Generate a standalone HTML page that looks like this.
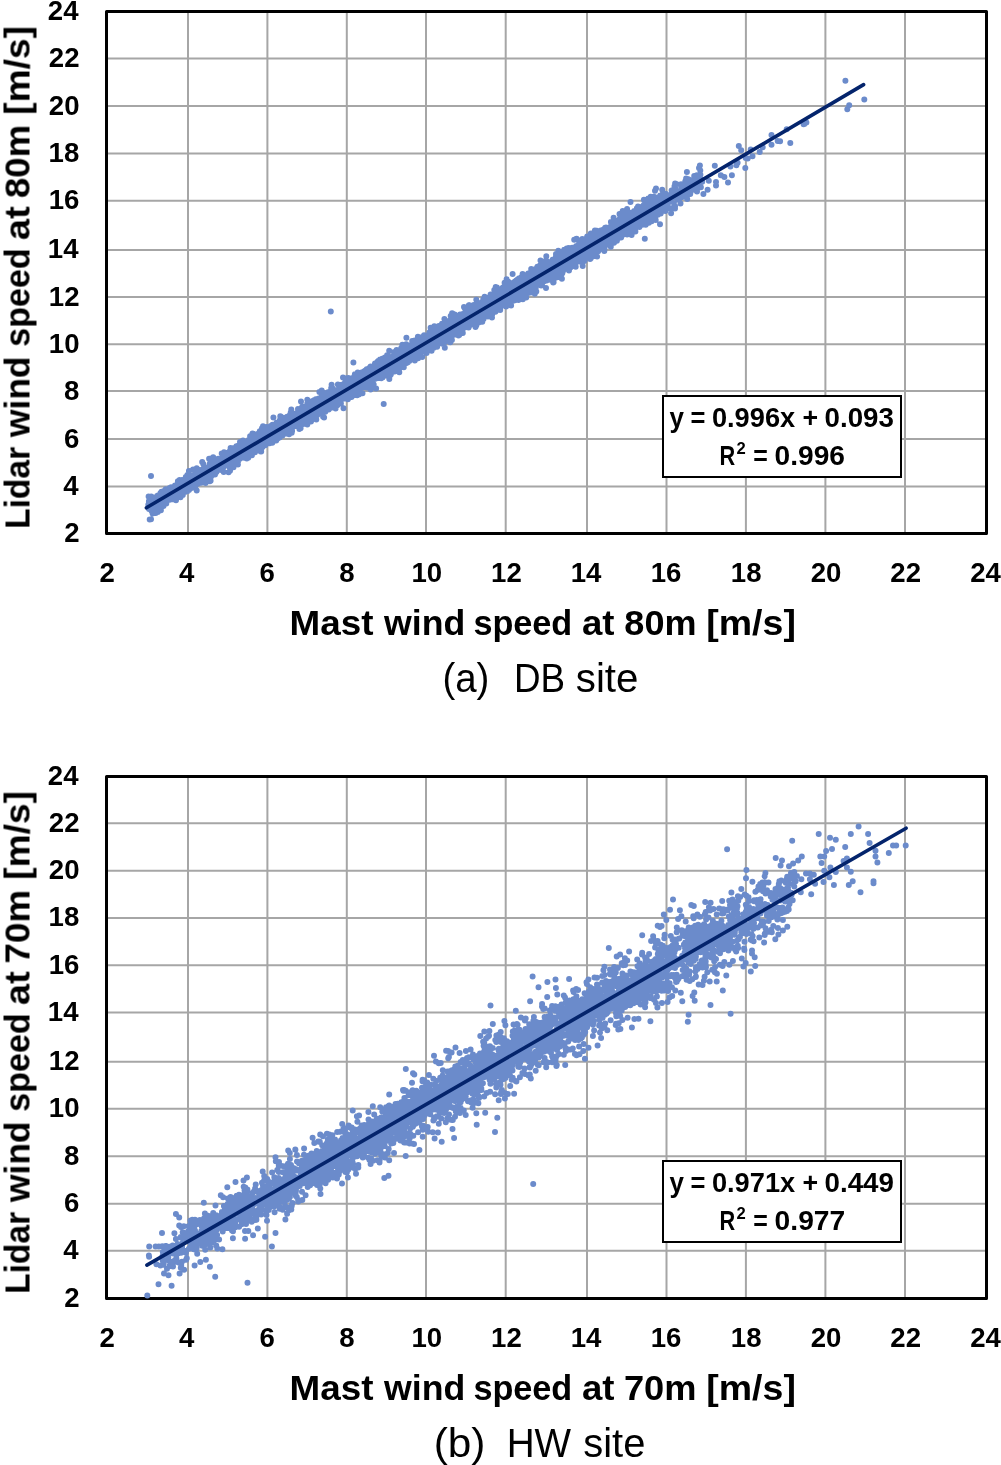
<!DOCTYPE html><html><head><meta charset="utf-8"><style>html,body{margin:0;padding:0;background:#fff;overflow:hidden}svg{display:block}</style></head><body><svg width="1001" height="1465" viewBox="0 0 1001 1465"><rect width="1001" height="1465" fill="#fff"/><path stroke="#a6a6a6" stroke-width="2" fill="none" d="M188 11.5V533.5M267.4 11.5V533.5M346.8 11.5V533.5M426 11.5V533.5M505.7 11.5V533.5M587 11.5V533.5M666.5 11.5V533.5M745.9 11.5V533.5M825.4 11.5V533.5M905 11.5V533.5M106.5 486.4H986.5M106.5 439H986.5M106.5 391.1H986.5M106.5 344.3H986.5M106.5 297.1H986.5M106.5 250H986.5M106.5 200.7H986.5M106.5 153.5H986.5M106.5 106H986.5M106.5 58.5H986.5"/><rect x="106.5" y="11.5" width="880" height="522" fill="none" stroke="#000" stroke-width="3" stroke-linejoin="round"/><path fill="none" stroke="#6b8bcb" stroke-width="6" stroke-linecap="round" d="M250.5 445.1h0M399.3 353.1h0M472.7 317.3h0M164.1 490.9h0M265.4 441.2h0M629.0 215.1h0M192.4 477.7h0M262.5 447.1h0M635.4 216.3h0M492.4 304.9h0M350.3 388.4h0M387.9 369.0h0M490.4 304.7h0M296.9 422.1h0M235.7 454.5h0M565.2 255.0h0M472.2 308.5h0M419.2 341.3h0M551.8 263.9h0M448.4 327.4h0M275.8 432.4h0M455.1 331.4h0M405.9 349.6h0M341.3 395.0h0M460.4 321.6h0M287.2 431.1h0M565.5 258.2h0M617.6 222.1h0M256.0 443.6h0M399.5 354.0h0M304.9 415.0h0M208.0 470.8h0M596.8 244.7h0M362.5 393.3h0M243.6 448.8h0M485.8 305.1h0M241.4 449.2h0M605.2 227.7h0M306.0 409.3h0M187.7 481.4h0M237.9 456.8h0M319.4 392.0h0M401.4 364.1h0M635.9 221.1h0M514.7 293.1h0M326.4 396.5h0M164.8 495.5h0M230.8 455.6h0M687.2 198.9h0M405.2 357.7h0M544.4 267.4h0M182.1 488.9h0M173.8 497.0h0M607.8 234.4h0M430.5 343.1h0M332.7 397.9h0M344.1 389.4h0M226.4 465.0h0M264.6 438.2h0M177.6 483.5h0M600.7 241.1h0M393.6 363.0h0M236.5 457.1h0M521.7 284.5h0M232.3 454.7h0M200.1 479.9h0M504.6 295.7h0M616.7 220.9h0M176.2 497.3h0M552.8 262.5h0M247.8 443.8h0M207.5 478.4h0M185.0 492.1h0M333.7 399.9h0M518.0 281.1h0M396.7 363.3h0M591.3 245.1h0M287.2 424.1h0M332.0 398.6h0M283.2 417.8h0M656.7 205.1h0M328.9 405.7h0M362.5 378.8h0M333.2 394.4h0M533.8 285.0h0M177.5 488.6h0M200.5 478.5h0M362.8 386.5h0M276.7 435.1h0M592.5 240.1h0M518.3 289.3h0M436.4 345.1h0M477.2 308.8h0M525.2 286.0h0M561.9 278.8h0M655.9 213.5h0M237.9 464.6h0M494.4 305.8h0M263.0 426.3h0M406.2 344.3h0M579.1 251.0h0M590.1 250.8h0M557.0 272.0h0M151.7 507.9h0M326.7 400.3h0M242.8 445.2h0M685.7 189.3h0M236.9 448.7h0M268.8 436.2h0M337.3 405.3h0M225.2 459.8h0M594.6 237.6h0M495.3 298.8h0M241.6 446.5h0M415.8 353.5h0M211.9 470.3h0M496.0 301.3h0M306.7 411.5h0M159.5 497.5h0M222.9 458.1h0M434.2 340.0h0M497.5 306.2h0M313.4 411.3h0M473.8 315.6h0M324.2 405.0h0M235.9 459.2h0M339.1 389.7h0M348.3 383.9h0M640.5 210.5h0M210.7 466.3h0M219.8 462.0h0M464.9 322.2h0M648.1 214.0h0M634.4 218.1h0M515.0 300.2h0M212.3 467.8h0M552.3 279.0h0M540.1 265.4h0M261.1 437.1h0M415.1 352.4h0M186.9 484.0h0M564.6 263.8h0M544.7 264.2h0M554.5 260.8h0M556.8 265.0h0M288.5 426.2h0M582.4 247.1h0M267.8 434.8h0M261.7 439.8h0M361.6 383.2h0M420.6 353.8h0M341.1 399.4h0M501.2 302.2h0M488.3 314.6h0M272.2 437.9h0M477.9 302.7h0M321.2 404.4h0M532.1 276.3h0M320.6 407.7h0M566.3 252.5h0M361.1 380.4h0M450.7 323.9h0M471.9 309.8h0M441.5 331.3h0M302.3 406.5h0M677.8 199.5h0M207.3 473.2h0M338.0 392.2h0M453.6 326.8h0M166.8 493.6h0M230.6 448.1h0M581.6 252.5h0M583.7 248.0h0M497.4 303.3h0M617.4 234.3h0M582.3 261.1h0M341.8 390.0h0M484.8 300.6h0M322.7 403.5h0M524.2 278.2h0M352.1 392.8h0M235.3 456.0h0M614.4 232.4h0M535.7 273.9h0M533.9 278.8h0M449.1 326.3h0M552.6 259.8h0M401.4 362.8h0M463.9 320.9h0M225.8 459.1h0M437.8 339.2h0M561.6 260.7h0M513.2 300.7h0M560.9 268.7h0M404.1 357.0h0M598.2 251.3h0M224.0 452.2h0M590.1 235.5h0M364.2 373.0h0M190.8 477.8h0M480.2 306.0h0M416.6 349.6h0M350.8 388.3h0M610.0 245.7h0M250.4 442.1h0M488.5 306.9h0M366.7 387.6h0M450.7 332.6h0M396.9 357.4h0M238.2 461.0h0M417.1 350.7h0M593.9 256.0h0M260.4 442.8h0M183.9 486.0h0M210.6 480.8h0M397.5 363.6h0M683.8 188.2h0M168.6 496.4h0M694.2 176.0h0M463.4 316.3h0M204.9 468.2h0M354.9 390.9h0M279.7 433.7h0M544.3 271.3h0M434.5 335.2h0M317.1 409.7h0M268.7 436.8h0M611.3 239.1h0M565.5 263.3h0M379.5 368.4h0M372.2 367.5h0M532.2 277.1h0M693.7 179.7h0M206.2 472.3h0M239.5 450.6h0M347.5 384.4h0M402.1 361.5h0M188.5 478.7h0M156.7 499.1h0M282.4 422.8h0M367.5 375.2h0M521.2 290.3h0M474.4 316.6h0M178.2 488.9h0M160.9 510.3h0M400.4 362.2h0M595.9 246.1h0M629.6 225.9h0M376.7 376.9h0M605.1 243.3h0M648.7 213.1h0M381.3 372.4h0M541.6 267.6h0M369.7 376.2h0M265.3 438.2h0M447.6 325.9h0M223.0 463.1h0M484.6 308.5h0M557.2 259.2h0M646.6 207.3h0M392.8 363.6h0M203.1 480.3h0M596.1 246.0h0M605.0 234.2h0M630.4 231.7h0M443.3 334.3h0M488.6 306.3h0M386.0 374.0h0M267.3 431.0h0M333.3 398.8h0M524.2 293.2h0M336.9 400.4h0M543.2 271.5h0M413.8 343.2h0M394.0 360.3h0M651.0 209.1h0M247.5 449.1h0M422.7 336.7h0M254.1 438.4h0M665.3 210.9h0M388.2 365.0h0M334.8 393.9h0M236.3 455.6h0M444.6 329.6h0M380.2 366.6h0M267.2 440.7h0M157.1 496.0h0M380.9 368.7h0M431.2 334.3h0M438.2 334.2h0M595.7 243.2h0M665.6 193.7h0M631.0 219.7h0M578.9 243.9h0M407.1 350.9h0M454.7 314.6h0M350.2 391.3h0M365.1 378.4h0M170.3 497.0h0M558.2 270.8h0M293.2 420.3h0M151.6 511.1h0M389.6 364.8h0M532.2 273.2h0M357.3 380.8h0M380.8 372.2h0M488.4 307.4h0M262.7 435.9h0M182.0 480.0h0M454.1 327.6h0M465.1 319.1h0M596.8 239.3h0M369.1 377.3h0M551.6 266.8h0M176.5 488.9h0M180.9 481.7h0M501.5 301.4h0M288.4 423.7h0M224.8 460.0h0M242.8 454.2h0M360.8 382.9h0M336.3 395.9h0M462.6 328.7h0M590.2 248.7h0M367.0 383.2h0M245.4 451.7h0M427.3 345.5h0M152.6 506.3h0M379.3 367.0h0M344.7 384.9h0M369.4 372.2h0M157.8 504.6h0M465.0 318.2h0M482.7 316.0h0M511.1 289.7h0M658.1 201.8h0M334.9 398.3h0M493.4 302.9h0M401.6 353.2h0M278.6 426.5h0M596.1 245.6h0M530.2 285.3h0M639.2 226.6h0M575.9 256.4h0M663.1 206.4h0M261.3 440.2h0M149.6 503.6h0M253.4 451.1h0M348.9 392.1h0M517.8 290.6h0M358.6 390.5h0M408.4 354.3h0M548.1 273.6h0M197.1 476.5h0M543.7 270.0h0M149.4 503.2h0M281.1 429.7h0M525.6 282.9h0M510.1 292.3h0M358.4 377.8h0M331.9 407.2h0M559.8 265.4h0M289.6 427.0h0M185.8 484.3h0M271.2 429.5h0M174.9 490.2h0M547.4 270.7h0M203.5 477.3h0M695.0 182.4h0M305.4 413.1h0M325.5 407.0h0M451.1 325.0h0M326.5 403.9h0M351.5 397.1h0M191.6 482.1h0M368.8 374.3h0M183.0 484.4h0M277.6 430.0h0M656.5 207.3h0M292.3 418.8h0M280.8 426.1h0M532.4 290.0h0M589.5 250.5h0M317.2 406.8h0M361.9 381.2h0M531.8 276.2h0M547.8 265.8h0M467.5 317.8h0M264.5 440.0h0M248.7 439.9h0M582.8 255.2h0M546.2 272.7h0M593.6 233.0h0M561.7 259.5h0M385.9 363.7h0M228.0 459.8h0M626.0 218.2h0M546.3 256.3h0M456.1 323.6h0M521.5 287.8h0M373.6 368.2h0M307.9 403.7h0M440.0 332.8h0M387.8 369.5h0M523.1 283.8h0M653.9 212.9h0M587.8 242.2h0M382.3 369.7h0M350.3 385.0h0M636.2 218.5h0M362.2 376.5h0M550.9 280.1h0M217.7 464.3h0M413.3 349.4h0M409.7 351.0h0M563.8 269.4h0M610.7 226.4h0M242.6 454.0h0M492.4 301.3h0M501.5 301.1h0M258.4 442.7h0M601.6 241.8h0M461.3 330.4h0M639.2 220.7h0M254.7 438.0h0M455.5 331.3h0M323.4 402.8h0M500.2 308.4h0M504.6 290.8h0M391.2 370.3h0M308.9 417.4h0M398.0 360.2h0M347.8 386.4h0M626.2 232.1h0M397.1 360.4h0M392.6 359.9h0M290.7 422.7h0M305.3 417.7h0M661.4 201.4h0M341.9 387.1h0M594.9 230.4h0M436.7 330.0h0M670.0 208.6h0M255.4 437.6h0M640.9 210.2h0M573.3 254.2h0M427.3 338.5h0M535.9 272.0h0M510.9 294.1h0M425.5 349.3h0M476.6 314.3h0M286.8 421.8h0M180.9 489.9h0M531.4 284.1h0M389.6 370.5h0M623.8 223.0h0M296.6 424.2h0M577.0 254.8h0M686.8 193.1h0M593.5 236.7h0M652.8 203.2h0M240.0 442.1h0M260.8 443.5h0M280.4 433.2h0M373.3 372.5h0M209.5 476.6h0M233.8 458.4h0M175.4 487.7h0M665.3 201.2h0M349.2 384.0h0M489.3 309.3h0M412.1 353.3h0M539.8 276.3h0M559.3 259.5h0M379.7 364.6h0M455.5 319.1h0M195.6 478.2h0M336.7 398.9h0M285.2 427.8h0M315.2 408.1h0M316.7 414.6h0M439.3 339.6h0M336.4 404.0h0M313.2 407.9h0M572.5 255.1h0M180.7 491.5h0M168.8 490.4h0M224.1 461.5h0M615.6 231.6h0M486.4 303.6h0M545.0 270.7h0M648.6 217.4h0M273.3 436.0h0M635.3 227.4h0M300.1 414.2h0M460.1 323.2h0M521.7 281.4h0M561.0 267.0h0M275.6 437.0h0M419.9 340.7h0M187.5 479.9h0M344.4 397.9h0M684.1 184.3h0M622.5 230.8h0M434.1 330.3h0M549.2 267.3h0M609.3 238.0h0M320.8 406.0h0M685.6 190.5h0M389.3 379.0h0M234.6 452.6h0M445.5 332.8h0M446.2 327.0h0M534.8 293.8h0M495.3 298.1h0M163.5 497.5h0M483.8 314.5h0M638.0 206.5h0M472.1 311.3h0M682.4 196.9h0M409.4 356.6h0M586.9 244.6h0M257.1 434.3h0M619.3 225.8h0M379.5 372.3h0M624.1 215.7h0M343.6 394.3h0M472.9 308.2h0M599.6 236.5h0M516.5 289.9h0M497.9 303.5h0M685.8 192.7h0M225.5 461.1h0M210.8 463.6h0M427.1 342.4h0M636.4 223.5h0M522.1 278.8h0M312.4 404.8h0M210.3 469.6h0M388.3 358.8h0M396.0 359.4h0M386.9 356.7h0M470.6 316.9h0M295.5 423.2h0M607.0 238.3h0M345.2 389.8h0M193.2 479.4h0M314.7 411.1h0M629.2 225.8h0M235.6 461.0h0M279.1 431.9h0M643.8 204.9h0M317.0 408.0h0M593.8 249.2h0M163.4 500.6h0M589.0 250.8h0M300.1 417.6h0M250.3 450.3h0M526.4 277.3h0M685.0 194.8h0M648.8 212.8h0M546.1 264.0h0M642.0 215.5h0M689.0 180.2h0M434.3 338.9h0M243.4 447.0h0M590.8 233.5h0M381.1 373.9h0M334.1 394.5h0M416.8 353.8h0M178.5 489.0h0M153.6 506.4h0M292.6 420.9h0M431.8 345.5h0M530.8 292.4h0M632.1 217.9h0M552.8 267.5h0M631.7 214.1h0M487.3 305.6h0M510.5 292.4h0M440.5 338.7h0M204.9 479.4h0M227.2 459.5h0M578.1 259.6h0M250.9 439.8h0M576.1 246.3h0M386.8 363.2h0M162.9 492.8h0M437.4 336.5h0M412.6 353.5h0M193.1 469.5h0M304.9 415.4h0M320.0 399.2h0M341.8 396.4h0M540.2 273.2h0M246.2 445.0h0M386.5 374.5h0M470.6 324.4h0M642.1 219.4h0M217.3 467.6h0M206.9 471.9h0M264.9 441.4h0M303.4 418.7h0M240.6 457.0h0M227.3 464.8h0M288.4 422.3h0M270.3 437.1h0M387.9 370.8h0M480.5 316.9h0M363.2 383.9h0M234.9 463.0h0M223.7 461.3h0M279.7 427.3h0M258.4 448.0h0M395.0 363.9h0M604.3 239.8h0M521.3 282.4h0M258.1 445.4h0M162.8 499.7h0M196.8 482.7h0M380.0 374.9h0M372.5 377.8h0M512.6 274.1h0M197.4 472.7h0M271.3 432.5h0M539.6 274.4h0M442.7 341.0h0M419.3 351.8h0M610.2 229.9h0M219.5 464.6h0M257.7 437.0h0M444.6 331.8h0M436.2 334.0h0M682.0 191.1h0M687.6 185.3h0M465.7 317.4h0M558.0 258.9h0M535.6 281.0h0M237.9 454.9h0M491.0 308.1h0M336.3 395.8h0M307.1 410.8h0M256.6 442.4h0M182.8 495.0h0M623.0 230.6h0M541.2 277.8h0M521.2 288.4h0M312.9 412.6h0M360.3 383.4h0M262.7 434.9h0M492.8 300.2h0M607.1 227.9h0M546.6 280.6h0M629.6 228.7h0M289.4 429.4h0M541.1 269.4h0M251.9 442.3h0M440.4 337.4h0M188.2 485.5h0M434.4 336.5h0M450.5 321.5h0M318.7 398.6h0M328.4 403.5h0M507.3 290.0h0M407.8 354.5h0M365.0 370.8h0M188.9 471.1h0M300.0 414.5h0M618.3 225.8h0M671.1 213.3h0M371.6 372.1h0M621.1 237.5h0M607.4 239.2h0M297.3 414.6h0M272.3 441.0h0M508.1 281.6h0M316.4 410.1h0M657.2 201.8h0M358.2 385.5h0M540.0 271.7h0M508.4 297.3h0M286.5 425.4h0M604.3 250.9h0M339.3 389.2h0M214.6 464.4h0M177.8 490.8h0M410.4 353.6h0M472.1 321.4h0M297.6 422.1h0M615.6 229.6h0M296.4 417.8h0M605.3 232.8h0M165.1 491.7h0M273.3 428.2h0M260.1 438.8h0M403.6 354.2h0M345.0 391.6h0M357.6 377.0h0M606.2 240.6h0M440.0 338.7h0M490.1 303.2h0M385.1 374.2h0M555.4 268.2h0M401.7 364.9h0M517.7 293.4h0M630.5 201.9h0M467.3 327.2h0M386.1 361.3h0M280.5 431.5h0M654.9 214.5h0M578.2 261.4h0M572.4 253.0h0M277.9 432.0h0M373.4 373.8h0M623.6 216.7h0M285.6 432.2h0M582.6 262.5h0M460.3 321.9h0M298.0 411.7h0M374.4 372.5h0M226.1 454.3h0M485.8 301.4h0M543.1 271.8h0M151.7 507.9h0M335.2 395.6h0M551.2 262.5h0M242.4 448.8h0M449.3 329.0h0M574.5 252.9h0M453.2 326.7h0M195.1 475.2h0M630.3 223.5h0M511.5 283.3h0M450.7 326.0h0M314.2 407.7h0M462.5 330.5h0M373.7 384.4h0M200.0 476.9h0M213.0 470.4h0M151.2 496.4h0M251.7 449.0h0M273.6 437.2h0M491.1 300.0h0M437.1 346.8h0M448.0 329.3h0M574.9 262.2h0M196.7 490.6h0M349.1 397.1h0M193.6 480.6h0M380.0 370.1h0M225.8 462.2h0M210.9 474.0h0M191.3 481.1h0M370.5 374.3h0M560.1 263.5h0M274.3 424.8h0M536.0 272.7h0M301.7 420.8h0M328.3 403.9h0M409.1 357.8h0M225.6 460.6h0M386.5 361.1h0M460.1 314.5h0M584.1 248.7h0M221.7 466.3h0M568.7 264.8h0M461.5 330.7h0M445.8 322.2h0M162.9 499.7h0M606.8 239.2h0M269.1 426.9h0M427.2 345.6h0M446.7 331.2h0M650.2 208.1h0M468.6 327.6h0M696.8 191.2h0M273.4 417.5h0M474.3 312.4h0M445.0 342.0h0M417.1 351.1h0M485.3 308.4h0M461.9 318.5h0M337.2 395.7h0M488.2 312.5h0M222.5 462.9h0M400.1 352.4h0M409.3 355.7h0M293.0 426.9h0M429.6 346.4h0M476.3 325.4h0M227.0 454.5h0M319.2 404.2h0M224.1 462.4h0M467.9 317.2h0M197.9 471.7h0M276.6 432.8h0M386.5 372.9h0M415.1 343.6h0M157.5 511.3h0M650.0 212.7h0M271.2 428.6h0M488.7 297.5h0M287.1 425.1h0M444.8 332.2h0M338.4 395.1h0M321.0 406.0h0M414.7 350.0h0M458.2 316.5h0M475.6 310.9h0M517.8 279.3h0M291.7 419.3h0M195.3 480.6h0M267.6 437.5h0M331.2 388.0h0M493.9 306.0h0M351.0 381.9h0M329.7 404.3h0M206.8 469.6h0M486.2 309.2h0M225.2 463.3h0M388.1 369.5h0M513.2 295.4h0M469.1 316.5h0M252.3 438.8h0M341.3 390.8h0M648.1 216.9h0M189.3 480.5h0M526.2 297.5h0M351.2 387.4h0M469.3 305.2h0M358.8 394.5h0M221.8 464.8h0M453.7 321.2h0M187.4 475.1h0M606.2 229.3h0M553.9 269.8h0M361.2 372.7h0M429.4 332.5h0M441.9 335.1h0M690.4 186.2h0M174.3 495.3h0M345.6 391.7h0M361.8 373.7h0M549.9 276.2h0M540.8 268.3h0M353.7 383.6h0M161.2 497.4h0M471.6 319.0h0M374.9 369.0h0M223.0 463.1h0M474.3 315.3h0M409.3 360.9h0M308.1 412.2h0M294.6 422.1h0M431.8 334.8h0M279.8 428.4h0M368.7 377.0h0M645.1 216.6h0M417.1 351.2h0M268.7 439.0h0M434.4 334.2h0M634.7 228.2h0M602.4 247.2h0M540.2 274.0h0M625.3 216.9h0M585.5 246.9h0M513.3 292.3h0M354.9 374.2h0M239.1 451.7h0M529.7 284.9h0M499.1 298.8h0M647.0 206.6h0M308.6 414.0h0M614.1 227.3h0M292.0 423.6h0M641.8 214.8h0M687.8 186.6h0M157.8 512.1h0M319.0 400.0h0M689.8 183.8h0M641.5 213.3h0M479.5 310.5h0M233.4 457.8h0M183.1 480.3h0M287.9 424.6h0M661.1 199.3h0M570.4 267.6h0M349.7 378.2h0M547.8 270.1h0M594.0 242.4h0M321.8 409.7h0M593.8 249.4h0M281.3 426.6h0M343.5 408.3h0M148.9 501.2h0M230.7 462.0h0M454.4 330.9h0M177.3 489.9h0M436.2 327.3h0M230.7 457.6h0M519.4 282.2h0M255.3 450.0h0M278.4 433.4h0M287.5 420.8h0M443.4 339.3h0M582.7 266.1h0M571.4 261.7h0M519.8 290.3h0M521.7 288.3h0M431.0 336.8h0M338.7 391.8h0M235.3 458.0h0M591.5 242.7h0M359.7 383.2h0M492.3 303.7h0M208.9 475.8h0M347.2 386.6h0M211.1 471.7h0M336.5 390.1h0M535.5 286.7h0M315.2 403.2h0M508.8 301.0h0M202.8 473.0h0M355.2 390.7h0M384.7 372.4h0M413.4 347.1h0M279.6 437.6h0M539.2 271.5h0M610.9 222.1h0M548.0 267.4h0M156.9 508.9h0M396.6 357.3h0M343.5 392.5h0M451.5 327.3h0M195.5 479.3h0M540.1 270.0h0M362.2 372.3h0M666.2 199.6h0M170.3 487.7h0M347.3 392.0h0M402.4 344.7h0M573.6 261.4h0M564.0 267.9h0M253.9 446.4h0M310.8 407.0h0M506.3 290.2h0M350.5 395.4h0M292.7 420.5h0M635.6 217.0h0M619.5 214.0h0M338.5 396.1h0M431.1 347.3h0M629.1 233.0h0M293.9 421.9h0M654.6 205.1h0M622.3 225.9h0M519.9 288.0h0M506.8 299.6h0M536.4 278.0h0M449.8 328.7h0M464.0 306.9h0M239.8 453.3h0M426.4 348.5h0M468.1 320.6h0M421.4 346.9h0M520.1 299.3h0M389.3 364.8h0M547.5 270.4h0M531.7 279.9h0M202.3 479.6h0M576.5 255.8h0M331.2 397.6h0M197.2 474.3h0M212.1 467.8h0M322.8 410.4h0M452.7 323.6h0M316.9 399.7h0M239.7 454.1h0M553.2 282.6h0M352.1 382.3h0M603.0 232.4h0M291.8 422.0h0M529.5 284.1h0M314.7 402.9h0M602.4 233.9h0M483.3 309.0h0M514.6 291.4h0M212.6 467.7h0M519.5 281.8h0M311.0 409.9h0M533.5 285.8h0M593.9 247.2h0M202.0 474.2h0M178.9 486.8h0M551.5 271.9h0M648.6 206.9h0M610.5 237.5h0M357.5 378.2h0M591.5 235.4h0M164.3 493.5h0M197.2 477.3h0M441.3 330.7h0M431.6 350.8h0M562.6 254.0h0M303.9 419.2h0M386.8 371.3h0M689.2 190.4h0M323.7 408.4h0M380.3 370.4h0M496.5 303.4h0M684.4 191.4h0M237.9 449.0h0M544.0 271.6h0M379.3 374.1h0M381.8 370.6h0M270.8 439.1h0M402.0 352.5h0M444.6 338.5h0M358.5 385.5h0M395.2 353.3h0M478.8 314.1h0M593.8 243.8h0M464.1 318.5h0M382.5 377.6h0M651.4 209.5h0M250.4 442.5h0M187.6 483.3h0M646.6 210.0h0M297.6 423.6h0M229.0 459.5h0M363.6 381.9h0M314.7 409.2h0M310.5 418.2h0M620.5 232.5h0M336.1 394.2h0M241.8 455.2h0M272.2 431.7h0M658.5 197.5h0M360.7 380.7h0M338.1 394.9h0M571.0 254.6h0M655.4 213.5h0M410.1 355.5h0M585.4 255.6h0M276.9 435.4h0M341.7 384.7h0M450.9 332.9h0M295.0 420.7h0M306.5 415.6h0M229.0 461.6h0M278.0 432.1h0M615.8 232.8h0M578.4 251.6h0M197.9 479.3h0M325.8 400.5h0M540.6 276.7h0M625.7 227.3h0M464.7 321.6h0M514.2 282.2h0M282.5 433.7h0M563.8 262.9h0M566.1 256.9h0M380.8 367.3h0M286.6 430.2h0M159.9 505.1h0M491.0 305.3h0M497.3 295.1h0M172.3 489.7h0M463.0 321.9h0M665.7 204.0h0M177.9 490.6h0M263.0 440.3h0M191.5 487.9h0M369.8 383.4h0M347.7 389.9h0M597.7 231.4h0M213.5 467.6h0M255.0 452.3h0M659.7 211.9h0M181.6 487.8h0M278.2 435.2h0M364.3 378.6h0M178.9 492.3h0M315.4 412.4h0M500.9 306.2h0M467.1 316.9h0M480.9 309.3h0M467.5 316.8h0M477.1 309.7h0M181.7 488.0h0M505.1 290.3h0M443.0 338.6h0M276.8 427.8h0M359.6 384.5h0M300.7 419.5h0M594.7 247.6h0M297.9 416.1h0M240.0 452.0h0M556.5 260.3h0M582.8 255.7h0M595.7 241.9h0M544.0 278.7h0M364.3 376.9h0M425.9 336.0h0M455.1 330.8h0M459.3 317.8h0M648.4 217.7h0M305.9 406.9h0M575.4 254.0h0M165.6 494.2h0M230.0 463.6h0M634.3 210.9h0M301.8 416.7h0M423.7 346.6h0M628.0 218.3h0M482.2 313.8h0M404.1 357.2h0M512.2 294.1h0M667.8 204.8h0M661.0 198.0h0M260.7 432.7h0M262.8 443.5h0M318.9 398.6h0M262.9 434.1h0M586.0 250.5h0M618.7 225.6h0M241.4 442.7h0M202.9 477.3h0M327.0 404.0h0M542.9 279.3h0M566.7 248.4h0M403.3 351.1h0M468.3 322.0h0M639.7 217.5h0M595.4 239.1h0M206.8 473.3h0M525.1 278.1h0M554.3 266.7h0M630.2 215.2h0M371.9 373.0h0M237.3 453.1h0M412.7 353.5h0M369.3 374.4h0M381.2 365.0h0M557.0 273.8h0M504.6 293.2h0M540.1 268.3h0M485.6 302.6h0M241.5 449.6h0M196.3 478.9h0M369.3 381.2h0M594.3 248.1h0M480.0 312.5h0M548.9 275.6h0M492.5 302.6h0M570.8 259.6h0M693.5 186.3h0M540.0 268.5h0M608.8 233.3h0M681.3 187.7h0M515.9 298.3h0M567.5 255.7h0M205.4 476.2h0M165.7 489.2h0M637.4 225.9h0M275.2 434.9h0M338.6 390.0h0M266.4 427.1h0M492.5 310.7h0M172.3 493.1h0M553.3 271.2h0M324.8 394.5h0M543.9 261.6h0M665.0 199.4h0M508.7 288.5h0M380.1 372.2h0M474.5 319.3h0M624.6 221.9h0M514.9 291.9h0M298.0 414.1h0M186.3 484.8h0M588.9 238.7h0M466.4 319.0h0M209.2 470.1h0M443.2 327.1h0M463.5 319.0h0M318.7 399.0h0M587.8 249.8h0M301.9 419.7h0M251.6 441.1h0M327.5 397.9h0M332.1 400.3h0M622.9 232.1h0M476.3 316.0h0M198.0 477.1h0M386.0 367.2h0M208.6 475.5h0M507.1 299.0h0M617.2 226.5h0M210.4 464.8h0M388.2 357.3h0M282.3 430.8h0M330.7 403.8h0M540.9 271.7h0M692.7 186.9h0M292.7 417.7h0M455.7 320.4h0M323.8 404.7h0M220.2 464.6h0M494.7 310.3h0M231.5 464.3h0M535.2 274.5h0M542.0 263.3h0M265.2 445.3h0M483.4 316.2h0M272.2 435.7h0M569.4 254.3h0M311.0 419.3h0M529.0 282.0h0M495.6 294.8h0M449.7 340.3h0M294.9 425.6h0M616.8 226.5h0M326.1 396.7h0M556.8 270.1h0M417.6 343.6h0M406.5 349.8h0M534.1 286.4h0M322.5 404.5h0M583.1 253.3h0M402.0 358.6h0M530.1 280.4h0M531.5 286.6h0M647.8 222.7h0M378.3 377.9h0M317.8 413.0h0M669.0 200.8h0M392.6 358.2h0M363.7 382.3h0M534.2 282.9h0M273.5 435.3h0M643.4 210.5h0M572.0 257.6h0M474.1 314.4h0M332.7 401.2h0M572.8 256.7h0M635.9 221.4h0M582.6 244.4h0M664.5 202.0h0M224.9 456.3h0M514.9 288.2h0M599.9 239.0h0M407.9 362.2h0M220.3 465.3h0M426.9 347.1h0M277.4 426.1h0M174.2 490.1h0M635.8 217.1h0M595.8 243.8h0M505.6 289.1h0M530.4 292.1h0M493.3 299.6h0M389.9 366.3h0M199.8 480.9h0M311.9 413.8h0M396.2 360.9h0M431.3 338.5h0M311.6 405.5h0M258.2 445.1h0M318.1 410.3h0M263.2 434.5h0M627.2 218.2h0M280.1 433.9h0M358.8 386.2h0M442.1 332.1h0M290.4 424.5h0M406.4 351.4h0M439.8 338.8h0M161.8 501.8h0M655.0 190.8h0M438.6 330.1h0M255.3 436.5h0M686.5 187.1h0M237.2 457.3h0M536.4 271.6h0M407.8 346.1h0M292.7 422.5h0M349.8 389.3h0M404.6 352.8h0M367.1 378.2h0M283.8 433.9h0M361.5 377.7h0M352.1 382.7h0M525.9 293.6h0M258.5 433.6h0M171.4 498.1h0M599.3 247.8h0M195.7 483.0h0M480.7 311.0h0M438.5 336.2h0M674.0 206.8h0M244.0 450.1h0M601.2 237.5h0M248.8 450.9h0M260.7 451.5h0M480.1 317.4h0M254.5 447.7h0M432.8 335.5h0M515.4 293.2h0M222.2 461.5h0M576.6 238.7h0M375.1 373.3h0M659.4 206.8h0M183.7 482.2h0M225.2 456.0h0M494.8 295.5h0M304.3 414.9h0M357.4 389.9h0M645.7 224.7h0M314.6 413.2h0M152.4 506.1h0M243.4 456.6h0M439.5 343.1h0M572.0 259.2h0M562.9 265.3h0M392.6 366.1h0M287.1 416.8h0M240.8 448.3h0M297.9 425.2h0M255.0 440.0h0M664.7 203.5h0M385.0 371.7h0M210.8 473.0h0M476.3 299.7h0M408.7 354.3h0M160.1 504.3h0M687.2 190.6h0M657.0 203.0h0M296.1 419.5h0M605.2 239.1h0M398.5 364.6h0M467.0 323.0h0M500.1 307.4h0M539.5 276.6h0M410.4 350.2h0M259.8 439.5h0M554.2 268.3h0M412.5 344.7h0M398.0 357.9h0M579.7 249.5h0M522.0 292.7h0M685.6 192.6h0M361.2 383.9h0M482.9 304.1h0M222.6 463.9h0M226.6 461.7h0M278.0 431.7h0M299.2 410.7h0M424.3 347.2h0M288.0 428.4h0M650.6 209.5h0M379.4 371.2h0M373.0 367.6h0M608.3 229.1h0M582.8 248.9h0M569.1 259.6h0M658.0 206.1h0M542.9 266.6h0M319.7 403.7h0M659.9 201.3h0M155.7 513.0h0M608.5 242.0h0M372.7 375.4h0M341.2 390.0h0M398.9 355.8h0M385.2 366.7h0M616.9 240.7h0M583.9 249.5h0M516.1 294.5h0M289.1 434.3h0M404.3 360.7h0M226.2 463.1h0M538.7 275.8h0M154.8 499.9h0M382.9 367.8h0M242.1 451.8h0M605.8 240.2h0M628.9 223.7h0M327.4 406.9h0M623.0 223.0h0M246.1 449.3h0M507.0 289.8h0M300.9 414.3h0M405.0 357.5h0M469.9 317.8h0M334.8 397.1h0M235.0 455.6h0M450.3 342.2h0M563.4 267.4h0M676.3 183.9h0M324.3 402.6h0M279.3 422.8h0M206.7 474.9h0M290.6 430.3h0M168.3 496.4h0M269.6 437.0h0M528.9 286.6h0M225.5 455.8h0M499.8 291.7h0M323.9 406.6h0M298.0 409.0h0M393.1 357.7h0M374.9 379.0h0M393.4 356.9h0M191.2 479.8h0M452.4 327.3h0M601.1 248.7h0M168.8 492.8h0M190.0 485.6h0M435.1 328.2h0M310.1 416.4h0M304.2 422.0h0M671.1 195.7h0M343.6 397.4h0M629.5 214.3h0M473.9 319.6h0M176.5 486.9h0M292.5 426.5h0M190.0 484.5h0M439.3 334.3h0M631.9 225.5h0M161.7 495.8h0M162.5 501.5h0M169.6 487.9h0M297.2 414.6h0M229.0 466.6h0M653.7 196.8h0M584.2 247.7h0M640.1 221.4h0M452.4 325.8h0M564.5 260.4h0M517.7 284.3h0M328.2 396.3h0M468.2 311.6h0M334.1 403.3h0M407.7 352.2h0M557.1 268.9h0M268.7 443.1h0M264.6 441.8h0M613.0 238.6h0M388.2 363.2h0M259.0 442.8h0M311.4 408.7h0M285.5 426.2h0M591.8 244.3h0M422.8 342.2h0M652.2 214.1h0M413.6 351.0h0M640.5 217.3h0M639.7 219.8h0M428.5 346.6h0M582.1 249.1h0M312.3 406.9h0M212.2 460.5h0M474.1 313.4h0M191.7 479.9h0M388.3 370.7h0M478.9 312.0h0M551.1 262.0h0M620.4 216.5h0M291.6 419.7h0M594.3 234.0h0M387.4 356.9h0M484.6 296.7h0M419.8 342.4h0M596.8 245.3h0M330.1 398.4h0M157.9 495.5h0M585.8 251.5h0M475.7 313.5h0M514.1 295.2h0M212.4 471.3h0M278.8 436.4h0M500.2 292.5h0M536.8 281.0h0M493.4 302.3h0M464.0 317.5h0M483.0 310.7h0M229.3 463.8h0M398.9 361.9h0M317.1 412.2h0M512.9 290.9h0M402.2 360.0h0M508.2 288.2h0M505.8 297.7h0M607.9 232.5h0M592.9 249.7h0M181.0 495.4h0M470.3 318.6h0M350.5 382.6h0M211.3 465.1h0M418.3 341.2h0M618.0 232.0h0M581.4 253.3h0M206.4 471.9h0M237.6 455.7h0M506.7 292.4h0M664.2 197.4h0M211.4 465.2h0M225.4 465.0h0M539.8 267.6h0M492.2 314.2h0M577.5 255.5h0M234.5 458.5h0M422.1 345.5h0M581.0 253.1h0M365.7 373.0h0M364.1 383.4h0M167.9 492.1h0M569.5 264.8h0M393.0 362.7h0M384.4 365.7h0M479.9 306.0h0M588.5 253.9h0M610.8 246.7h0M312.8 401.5h0M505.7 301.1h0M383.6 369.6h0M617.0 231.4h0M549.1 262.6h0M499.5 295.8h0M553.8 260.9h0M411.4 344.7h0M432.9 336.3h0M256.1 444.3h0M534.4 271.6h0M320.9 400.1h0M435.5 335.7h0M181.8 495.3h0M384.2 370.7h0M472.6 313.1h0M505.5 298.6h0M448.6 324.6h0M280.3 416.2h0M485.2 307.4h0M468.4 315.9h0M446.3 326.3h0M370.6 366.5h0M248.2 457.8h0M427.3 344.7h0M177.7 483.0h0M646.3 213.1h0M313.8 417.5h0M340.2 390.8h0M411.0 358.6h0M188.8 478.7h0M604.3 232.0h0M696.8 185.3h0M572.7 262.9h0M441.2 331.2h0M658.5 207.8h0M325.8 403.4h0M392.7 365.5h0M233.2 458.9h0M382.3 373.6h0M637.1 213.4h0M489.3 299.3h0M435.9 341.5h0M438.8 342.1h0M478.8 307.6h0M466.4 312.1h0M386.8 363.2h0M389.9 358.2h0M216.8 462.6h0M397.4 359.4h0M523.7 286.6h0M292.0 425.6h0M287.7 424.9h0M582.7 260.4h0M258.7 434.6h0M262.7 444.5h0M558.7 263.0h0M227.2 458.5h0M344.9 391.1h0M653.0 209.1h0M378.6 374.8h0M553.8 269.8h0M585.9 244.2h0M155.9 499.1h0M299.0 424.3h0M628.1 224.0h0M337.6 403.8h0M369.5 376.7h0M642.8 214.6h0M198.7 483.2h0M685.3 181.3h0M477.4 319.9h0M480.3 304.3h0M187.7 491.0h0M480.5 306.9h0M581.8 261.9h0M364.5 381.8h0M222.4 469.2h0M255.9 441.9h0M222.1 467.1h0M375.5 373.9h0M571.5 255.9h0M223.3 467.3h0M373.2 377.3h0M379.7 369.1h0M373.5 378.9h0M444.3 330.2h0M437.4 345.8h0M280.2 419.3h0M580.3 245.8h0M396.6 368.0h0M318.6 410.4h0M665.6 203.9h0M533.2 276.8h0M241.0 448.8h0M694.1 178.6h0M443.7 326.5h0M309.7 417.2h0M303.3 414.7h0M190.1 483.0h0M304.9 411.7h0M323.6 404.3h0M328.7 409.4h0M685.8 192.8h0M444.4 319.1h0M261.2 440.3h0M360.1 376.0h0M385.9 367.1h0M211.0 471.2h0M419.3 347.0h0M393.1 363.7h0M634.2 215.3h0M359.1 384.8h0M541.1 285.6h0M522.3 281.5h0M259.4 438.9h0M453.1 329.3h0M393.5 363.0h0M247.4 444.9h0M153.4 502.3h0M686.6 195.3h0M194.6 473.4h0M613.6 217.7h0M364.9 379.1h0M211.5 474.2h0M644.6 207.9h0M488.6 298.6h0M363.4 384.5h0M598.9 249.8h0M544.5 280.8h0M367.7 380.0h0M511.8 298.6h0M520.0 290.3h0M258.4 444.2h0M527.9 292.3h0M645.8 211.8h0M529.0 274.9h0M575.7 266.7h0M552.1 270.5h0M423.5 347.4h0M444.4 336.7h0M571.5 257.4h0M482.8 315.8h0M206.3 469.5h0M203.7 476.3h0M297.8 424.3h0M566.1 258.8h0M298.0 418.7h0M311.2 404.5h0M547.4 271.3h0M237.3 456.8h0M276.6 422.7h0M277.5 430.3h0M165.9 495.5h0M532.8 272.7h0M343.0 395.5h0M386.0 367.9h0M332.7 402.6h0M223.7 454.1h0M607.6 241.8h0M257.3 448.5h0M342.4 398.8h0M533.8 270.2h0M323.2 399.2h0M418.7 351.8h0M337.7 399.6h0M464.9 308.5h0M339.6 397.9h0M409.5 353.3h0M157.4 505.3h0M148.6 496.4h0M395.6 365.4h0M575.1 264.0h0M672.4 197.4h0M575.0 254.3h0M436.5 339.2h0M472.5 320.3h0M500.2 310.1h0M510.9 298.7h0M700.3 170.6h0M331.2 407.8h0M397.0 354.2h0M556.0 254.1h0M290.8 416.9h0M198.3 476.1h0M610.9 227.0h0M172.7 487.2h0M588.0 255.6h0M637.2 215.5h0M256.8 447.9h0M552.0 280.7h0M336.9 391.0h0M298.3 422.5h0M699.0 180.7h0M622.2 235.2h0M561.1 257.9h0M384.3 364.8h0M668.3 202.4h0M428.3 346.8h0M690.0 192.0h0M508.3 294.0h0M169.0 497.9h0M558.9 270.8h0M614.2 229.1h0M604.2 236.3h0M479.0 306.7h0M174.4 487.8h0M625.5 232.7h0M356.1 384.1h0M230.4 462.9h0M273.7 439.8h0M264.0 438.4h0M576.1 256.5h0M188.1 481.8h0M635.2 222.6h0M178.8 486.1h0M511.5 293.9h0M286.7 424.3h0M393.9 356.9h0M239.0 445.5h0M604.8 240.0h0M246.8 458.5h0M420.6 354.7h0M485.1 301.8h0M424.1 335.2h0M288.0 420.5h0M325.5 395.1h0M638.3 220.1h0M203.4 477.0h0M186.9 478.4h0M648.2 207.5h0M594.3 240.7h0M511.0 289.5h0M411.7 351.7h0M648.5 221.6h0M366.8 372.2h0M172.7 491.3h0M349.7 391.7h0M428.5 344.1h0M437.2 331.9h0M598.1 245.2h0M216.4 471.9h0M621.6 225.4h0M448.8 325.1h0M537.8 271.9h0M378.3 366.9h0M322.9 402.3h0M329.7 400.7h0M299.3 427.0h0M424.0 344.9h0M498.0 303.8h0M563.3 252.7h0M231.5 460.1h0M396.2 358.9h0M447.1 326.3h0M554.8 273.2h0M535.7 284.7h0M476.4 306.4h0M483.2 302.7h0M402.3 365.6h0M586.3 247.9h0M603.6 230.4h0M452.9 331.3h0M226.0 460.8h0M376.2 371.8h0M295.9 421.5h0M260.6 443.0h0M323.1 416.8h0M556.0 272.7h0M316.1 409.6h0M350.8 386.5h0M349.8 379.2h0M262.0 428.2h0M462.8 314.0h0M379.5 369.6h0M635.6 225.8h0M467.4 319.7h0M695.8 177.5h0M608.8 236.1h0M409.5 351.5h0M164.2 491.9h0M291.1 427.1h0M217.5 469.3h0M525.4 276.2h0M244.9 447.2h0M483.3 304.0h0M308.6 410.9h0M401.1 362.9h0M562.1 255.2h0M317.1 409.1h0M255.3 441.2h0M338.9 391.4h0M642.5 212.4h0M455.3 331.6h0M327.4 398.6h0M239.9 458.7h0M189.2 481.1h0M319.4 407.7h0M501.1 290.3h0M419.5 349.8h0M584.7 250.1h0M697.8 183.5h0M451.5 338.1h0M309.3 412.9h0M549.3 270.5h0M221.3 467.3h0M551.9 269.6h0M592.0 243.5h0M583.5 247.9h0M204.5 471.2h0M429.5 335.4h0M555.5 260.2h0M356.2 385.6h0M606.6 234.6h0M230.8 458.3h0M446.4 333.4h0M438.7 338.1h0M549.7 276.0h0M364.2 378.5h0M290.8 418.2h0M518.2 291.0h0M201.1 477.9h0M360.1 386.5h0M424.2 350.9h0M581.6 257.5h0M359.7 381.3h0M455.4 334.5h0M540.1 266.9h0M533.1 275.5h0M654.6 208.0h0M389.6 367.6h0M458.2 319.3h0M150.5 507.1h0M266.9 427.8h0M275.5 432.5h0M276.3 429.2h0M444.6 336.5h0M243.0 446.0h0M430.9 337.6h0M553.1 265.3h0M226.4 453.1h0M275.6 435.9h0M387.7 374.9h0M160.9 508.1h0M246.5 452.1h0M428.8 343.2h0M373.8 375.7h0M605.8 234.2h0M459.0 317.8h0M556.3 270.2h0M309.0 406.1h0M368.7 379.5h0M626.7 230.3h0M467.3 314.7h0M656.3 202.0h0M284.9 423.0h0M216.1 471.3h0M520.2 279.8h0M221.1 462.0h0M210.2 473.8h0M359.5 381.9h0M519.2 286.8h0M333.0 398.0h0M557.9 268.3h0M398.9 350.4h0M344.4 393.5h0M434.8 335.7h0M493.3 303.5h0M234.0 455.0h0M433.9 346.6h0M255.1 434.4h0M641.9 206.8h0M444.1 332.5h0M276.6 425.7h0M184.7 484.9h0M295.9 415.7h0M316.9 407.7h0M440.3 342.5h0M476.5 316.2h0M537.8 280.0h0M410.9 355.3h0M478.7 322.5h0M447.4 331.5h0M337.8 392.1h0M277.1 429.0h0M362.4 384.5h0M522.2 277.1h0M249.8 447.9h0M467.6 316.4h0M161.4 499.9h0M236.0 458.8h0M471.3 315.5h0M560.4 268.9h0M555.7 272.5h0M532.5 290.4h0M271.5 433.3h0M699.4 178.0h0M500.4 299.3h0M664.5 204.5h0M631.2 223.1h0M270.2 431.0h0M191.7 483.4h0M470.9 316.8h0M275.3 430.2h0M212.2 469.6h0M457.7 322.5h0M270.1 431.9h0M560.8 264.9h0M401.4 347.8h0M304.9 417.6h0M172.7 492.3h0M524.4 283.5h0M480.9 310.7h0M560.8 269.6h0M356.9 383.5h0M654.9 213.4h0M154.6 503.8h0M648.5 208.6h0M577.9 249.1h0M208.2 471.5h0M684.0 193.5h0M213.1 458.9h0M508.4 294.9h0M270.7 426.1h0M509.5 297.8h0M598.5 239.8h0M204.1 466.8h0M319.6 409.9h0M600.7 246.5h0M413.8 345.2h0M259.4 433.9h0M216.9 462.6h0M216.0 464.8h0M189.8 484.6h0M320.4 403.5h0M562.6 257.5h0M411.1 353.6h0M205.2 480.4h0M330.7 393.8h0M417.6 353.8h0M409.2 359.6h0M475.2 316.4h0M542.6 268.2h0M540.4 282.5h0M445.0 331.5h0M177.9 481.2h0M549.1 268.1h0M570.8 258.7h0M529.9 286.0h0M383.8 375.5h0M615.6 223.3h0M188.7 488.8h0M525.7 283.4h0M503.8 291.9h0M511.2 295.8h0M214.2 468.8h0M641.1 210.2h0M164.6 496.6h0M264.0 432.9h0M419.3 341.2h0M440.0 327.0h0M254.4 450.7h0M317.9 405.2h0M648.7 211.1h0M314.4 409.7h0M417.4 356.6h0M193.5 480.8h0M428.8 334.8h0M506.5 290.3h0M539.3 279.9h0M294.7 420.9h0M373.0 374.8h0M502.2 293.7h0M694.4 188.6h0M548.0 274.5h0M270.2 441.4h0M190.1 478.7h0M311.3 401.6h0M430.4 338.3h0M277.6 427.7h0M559.3 259.9h0M289.4 428.8h0M206.5 469.7h0M495.2 294.1h0M563.1 256.3h0M306.8 414.1h0M335.7 399.8h0M267.4 439.6h0M164.9 491.9h0M517.8 292.0h0M179.1 488.0h0M468.2 316.7h0M500.7 300.4h0M450.6 333.1h0M183.0 484.3h0M161.4 502.2h0M422.8 346.9h0M388.8 359.1h0M176.8 486.8h0M152.6 513.5h0M583.1 256.3h0M319.4 402.2h0M530.7 286.0h0M239.8 449.1h0M292.9 416.4h0M605.1 231.3h0M237.8 445.9h0M349.7 394.1h0M422.7 349.3h0M524.8 287.2h0M321.1 407.0h0M496.5 296.2h0M295.4 417.7h0M539.1 280.5h0M178.6 490.7h0M262.8 444.7h0M219.2 466.4h0M213.3 474.3h0M537.4 266.8h0M422.5 340.7h0M553.3 269.5h0M682.1 192.4h0M246.2 445.2h0M574.1 255.4h0M675.2 188.3h0M329.2 399.0h0M203.3 463.9h0M392.9 358.9h0M434.8 343.1h0M544.6 278.2h0M435.0 340.1h0M315.8 399.2h0M242.3 452.5h0M310.4 406.4h0M398.2 366.3h0M263.6 436.0h0M322.6 408.8h0M609.2 237.2h0M366.9 377.6h0M221.1 469.9h0M494.3 289.9h0M334.1 402.4h0M400.4 360.3h0M366.7 369.3h0M189.9 477.9h0M511.1 305.5h0M447.3 328.0h0M699.3 175.1h0M164.2 501.6h0M428.8 341.0h0M375.4 376.2h0M360.6 385.0h0M519.3 278.3h0M303.4 410.3h0M367.7 381.1h0M265.2 443.2h0M465.5 315.4h0M348.0 387.5h0M177.8 490.5h0M288.5 422.6h0M348.7 394.6h0M453.0 330.6h0M203.9 477.0h0M491.1 297.6h0M550.8 269.0h0M312.3 414.5h0M215.3 470.3h0M249.8 441.5h0M552.1 266.1h0M450.7 330.7h0M254.2 445.6h0M249.2 443.4h0M614.8 232.8h0M510.6 293.9h0M544.3 276.4h0M233.5 467.2h0M669.9 195.1h0M290.4 423.3h0M339.8 389.4h0M301.0 401.5h0M644.3 215.7h0M481.0 306.9h0M453.7 328.1h0M351.1 390.4h0M532.7 284.0h0M387.6 367.1h0M387.3 365.2h0M250.8 437.9h0M569.3 255.9h0M203.3 476.5h0M636.7 212.5h0M659.8 209.8h0M451.2 324.0h0M238.4 452.2h0M273.1 435.3h0M255.2 441.3h0M544.4 266.5h0M377.7 367.9h0M675.1 206.5h0M311.7 418.5h0M331.3 399.1h0M509.3 295.1h0M618.3 237.3h0M429.5 336.7h0M200.2 473.7h0M231.6 451.8h0M507.0 293.4h0M555.9 256.5h0M677.5 198.0h0M454.6 327.9h0M566.6 256.1h0M541.7 272.3h0M441.5 341.4h0M566.7 264.0h0M253.7 441.6h0M247.1 447.7h0M322.1 407.5h0M376.3 373.5h0M658.7 206.3h0M581.6 252.0h0M514.1 288.2h0M604.9 233.4h0M364.3 382.9h0M699.0 167.9h0M636.1 217.0h0M237.9 454.3h0M375.0 363.4h0M340.7 392.9h0M260.1 446.0h0M629.0 230.4h0M364.8 381.8h0M601.4 242.7h0M496.7 310.3h0M205.4 474.7h0M355.2 388.7h0M546.9 264.4h0M344.4 388.7h0M341.9 396.5h0M210.1 465.5h0M412.1 351.9h0M648.9 222.7h0M162.5 498.4h0M599.0 232.5h0M486.0 306.9h0M279.3 432.2h0M609.3 234.1h0M645.8 216.4h0M684.0 187.0h0M388.6 363.4h0M377.1 373.1h0M494.9 297.7h0M619.9 218.6h0M314.4 406.9h0M325.5 395.7h0M371.5 370.7h0M176.8 490.5h0M605.8 236.2h0M404.2 347.9h0M425.1 341.1h0M483.3 303.7h0M585.9 256.9h0M524.8 280.1h0M317.3 415.1h0M321.5 394.7h0M336.4 393.9h0M445.8 326.3h0M577.7 256.7h0M177.8 489.3h0M486.6 312.5h0M617.2 235.2h0M436.5 335.2h0M354.8 386.3h0M417.4 349.2h0M389.2 365.1h0M468.5 310.3h0M191.9 476.2h0M561.8 251.9h0M429.9 341.4h0M274.6 434.6h0M654.7 206.1h0M352.1 382.4h0M565.0 268.2h0M330.2 395.9h0M463.5 321.9h0M240.8 449.6h0M271.5 432.2h0M339.1 395.1h0M235.0 458.7h0M577.7 254.4h0M392.0 357.0h0M307.7 420.5h0M460.3 321.3h0M293.5 421.4h0M350.7 387.9h0M436.2 335.4h0M497.4 298.0h0M351.0 386.8h0M541.5 267.1h0M591.4 246.5h0M648.3 198.6h0M433.4 347.9h0M648.6 201.8h0M633.8 221.9h0M470.5 322.7h0M242.2 455.2h0M494.1 305.0h0M447.0 329.3h0M528.2 282.7h0M287.7 418.0h0M689.1 188.2h0M312.8 410.8h0M684.3 192.2h0M270.9 431.6h0M390.4 363.3h0M515.1 281.7h0M268.6 438.1h0M352.8 387.6h0M481.8 312.2h0M506.6 299.3h0M665.6 203.8h0M461.1 326.7h0M655.7 220.1h0M277.7 438.5h0M490.9 310.8h0M553.6 282.2h0M227.3 464.2h0M575.4 251.7h0M562.9 261.0h0M444.2 341.1h0M642.2 224.8h0M540.6 278.9h0M371.6 379.6h0M550.7 266.9h0M429.8 340.7h0M538.0 276.1h0M678.1 196.5h0M523.2 281.1h0M571.1 256.8h0M558.3 250.8h0M257.6 439.1h0M176.3 489.7h0M191.0 482.7h0M409.6 355.7h0M663.7 208.8h0M412.6 350.0h0M635.6 216.4h0M317.9 399.3h0M261.8 438.4h0M377.6 366.8h0M597.4 239.9h0M646.7 213.8h0M439.5 332.0h0M379.1 367.5h0M549.1 271.5h0M347.9 390.1h0M346.7 390.2h0M555.6 277.7h0M197.2 476.4h0M580.5 259.6h0M662.2 189.8h0M211.6 469.9h0M553.8 265.7h0M157.9 499.3h0M195.3 486.6h0M307.2 405.3h0M667.5 203.7h0M165.9 491.2h0M409.3 345.4h0M391.8 358.0h0M228.6 472.3h0M673.9 203.0h0M271.6 435.8h0M590.3 252.8h0M436.2 336.8h0M516.3 280.5h0M510.2 286.0h0M510.4 295.0h0M547.7 276.9h0M605.9 231.9h0M230.4 454.5h0M213.5 469.2h0M422.2 349.3h0M196.2 471.0h0M434.7 328.3h0M656.0 199.1h0M408.0 348.8h0M229.8 460.2h0M225.1 459.7h0M427.4 347.4h0M528.2 273.4h0M554.5 272.8h0M577.2 257.7h0M392.2 364.0h0M608.2 236.0h0M445.0 323.5h0M522.6 280.9h0M166.8 499.1h0M404.0 353.8h0M199.1 475.2h0M285.8 418.0h0M312.7 417.5h0M431.3 342.4h0M210.6 474.5h0M524.6 283.2h0M369.9 371.0h0M288.3 424.7h0M650.7 196.8h0M476.7 317.8h0M346.1 388.9h0M198.4 480.0h0M396.3 367.4h0M557.7 267.3h0M387.8 364.8h0M346.5 393.0h0M221.7 466.3h0M306.0 413.7h0M564.9 264.5h0M260.7 435.7h0M698.1 178.3h0M514.4 290.0h0M368.2 371.4h0M230.1 468.7h0M418.3 352.2h0M640.7 208.2h0M221.0 467.8h0M291.9 417.0h0M210.4 467.7h0M516.9 288.3h0M658.0 206.8h0M434.5 343.8h0M312.4 417.1h0M639.4 226.9h0M452.9 324.4h0M655.5 207.4h0M350.0 385.9h0M264.2 443.5h0M196.0 478.2h0M302.4 410.2h0M368.7 380.4h0M586.3 250.9h0M389.8 365.9h0M290.7 412.4h0M606.1 229.7h0M433.6 327.8h0M495.7 286.9h0M565.5 261.7h0M500.3 297.0h0M300.6 428.3h0M636.0 218.1h0M240.8 454.4h0M237.9 453.5h0M495.5 301.0h0M459.2 334.9h0M299.0 416.1h0M505.7 298.2h0M212.0 475.0h0M387.7 368.6h0M666.1 196.4h0M622.5 230.9h0M480.3 303.3h0M560.5 260.6h0M470.2 317.0h0M289.2 428.4h0M612.8 238.1h0M494.9 296.3h0M431.7 339.9h0M648.5 210.5h0M453.9 325.3h0M339.6 389.9h0M347.5 385.7h0M445.3 333.7h0M598.9 239.4h0M608.7 236.5h0M368.2 374.6h0M402.0 365.3h0M186.4 485.6h0M491.0 297.7h0M559.3 271.9h0M265.1 441.5h0M479.5 310.6h0M258.8 447.8h0M616.7 230.4h0M511.3 291.4h0M640.6 212.2h0M316.5 407.1h0M265.6 436.6h0M443.3 335.5h0M223.0 461.9h0M571.3 256.1h0M297.9 416.6h0M236.9 451.3h0M242.7 447.8h0M539.1 272.7h0M176.4 489.3h0M383.4 367.9h0M258.6 444.4h0M573.6 252.4h0M175.0 485.6h0M238.6 456.0h0M552.1 265.2h0M409.8 353.4h0M211.5 470.6h0M700.9 187.3h0M356.8 385.4h0M356.6 381.0h0M543.3 271.2h0M405.5 350.9h0M566.1 264.5h0M451.9 339.9h0M267.7 433.1h0M433.4 339.1h0M623.3 222.9h0M272.5 424.8h0M502.8 292.0h0M462.8 333.1h0M508.2 297.5h0M327.7 402.9h0M279.3 421.9h0M492.4 308.3h0M624.1 228.5h0M398.6 353.7h0M233.2 465.6h0M584.3 253.2h0M456.8 332.7h0M520.6 293.7h0M221.8 461.7h0M567.7 259.6h0M350.9 388.4h0M602.0 240.0h0M296.8 421.7h0M160.7 500.1h0M332.8 395.8h0M512.8 296.6h0M537.5 276.8h0M595.2 246.3h0M280.7 424.4h0M456.8 318.4h0M195.8 475.9h0M285.4 421.0h0M180.5 490.2h0M491.4 306.4h0M590.2 245.1h0M469.9 318.8h0M496.6 298.1h0M589.1 247.8h0M313.3 415.9h0M428.5 347.0h0M554.2 265.9h0M252.3 434.0h0M518.0 288.0h0M189.0 490.0h0M372.6 373.2h0M250.9 449.6h0M368.4 383.9h0M291.3 409.5h0M213.2 457.3h0M394.1 362.1h0M347.4 389.6h0M521.7 288.1h0M148.9 502.8h0M482.5 305.0h0M181.1 482.4h0M390.7 369.5h0M175.4 492.1h0M651.0 205.4h0M419.9 345.7h0M407.2 361.9h0M215.2 467.3h0M577.4 247.8h0M291.7 432.8h0M394.6 353.3h0M543.6 274.4h0M565.7 251.9h0M355.5 379.6h0M221.7 461.7h0M691.4 186.8h0M282.3 428.5h0M177.7 492.6h0M484.6 307.5h0M613.1 230.5h0M222.7 470.0h0M149.0 509.1h0M536.3 291.4h0M462.6 330.0h0M300.2 421.2h0M307.0 410.8h0M563.7 261.8h0M157.8 500.9h0M281.6 430.5h0M348.2 394.8h0M572.8 251.7h0M312.3 406.7h0M182.5 492.1h0M546.1 274.0h0M523.0 283.8h0M257.5 447.8h0M517.2 293.9h0M505.4 293.9h0M383.3 367.7h0M452.5 322.2h0M407.7 355.4h0M547.1 267.9h0M665.5 198.5h0M307.3 403.5h0M224.7 465.4h0M365.8 378.7h0M505.4 301.6h0M283.0 424.2h0M241.3 448.5h0M292.7 413.3h0M616.2 231.7h0M529.4 277.0h0M228.9 458.0h0M314.0 400.3h0M283.5 426.5h0M201.0 476.3h0M612.8 227.3h0M345.3 390.7h0M451.0 331.6h0M369.7 385.0h0M190.4 479.4h0M160.1 493.9h0M538.5 275.4h0M498.6 294.1h0M392.9 364.1h0M255.3 439.6h0M341.0 388.3h0M423.1 346.3h0M285.8 432.1h0M441.8 334.6h0M589.8 245.7h0M239.1 449.5h0M630.4 233.5h0M407.7 345.6h0M675.2 191.9h0M661.8 204.9h0M194.9 483.9h0M507.9 297.8h0M303.4 412.9h0M490.1 302.5h0M611.0 231.4h0M412.2 359.2h0M468.1 320.4h0M468.7 317.7h0M240.4 453.3h0M364.1 382.5h0M327.1 400.3h0M415.3 342.6h0M570.3 264.9h0M246.9 442.5h0M457.4 329.4h0M408.3 358.2h0M349.1 393.3h0M607.0 231.3h0M321.6 402.0h0M561.1 256.8h0M196.1 482.0h0M414.2 355.9h0M196.7 468.3h0M592.1 241.5h0M492.0 317.5h0M299.2 422.7h0M382.8 367.9h0M236.6 447.5h0M587.2 236.6h0M608.3 241.4h0M626.0 220.6h0M475.2 314.8h0M281.3 429.6h0M421.9 347.3h0M492.1 310.5h0M370.8 380.0h0M217.1 467.7h0M432.5 336.5h0M206.1 479.0h0M276.0 424.3h0M570.9 259.3h0M491.6 299.6h0M567.5 264.9h0M536.3 284.4h0M471.9 309.5h0M286.0 422.6h0M506.1 306.4h0M237.2 451.9h0M152.2 511.6h0M318.9 403.7h0M263.6 434.8h0M542.6 273.9h0M318.6 407.8h0M170.3 494.5h0M557.5 265.6h0M636.4 223.6h0M525.2 281.8h0M663.9 206.1h0M583.3 260.0h0M662.2 201.6h0M502.9 287.5h0M581.0 245.2h0M552.6 269.1h0M188.7 486.2h0M319.9 408.0h0M468.2 310.5h0M316.4 403.7h0M594.6 248.3h0M168.3 493.8h0M264.7 430.7h0M334.2 396.5h0M334.5 396.1h0M605.5 240.1h0M182.2 494.3h0M573.5 250.6h0M150.5 502.4h0M640.5 211.7h0M491.7 296.9h0M241.1 452.2h0M561.8 264.8h0M202.8 472.4h0M379.2 376.6h0M276.2 440.6h0M375.8 374.2h0M235.8 457.9h0M371.7 379.3h0M448.9 328.6h0M393.9 357.8h0M449.9 332.0h0M593.2 255.7h0M609.4 244.4h0M215.4 471.3h0M516.5 290.6h0M556.0 266.1h0M637.0 215.3h0M348.4 378.1h0M649.0 217.0h0M450.4 322.7h0M422.8 345.5h0M390.3 362.9h0M359.7 383.5h0M545.4 266.1h0M447.7 325.2h0M606.0 227.6h0M403.4 344.9h0M169.7 499.8h0M258.3 441.9h0M349.0 383.3h0M405.1 349.4h0M549.3 266.4h0M430.0 343.6h0M243.0 440.6h0M313.5 413.2h0M434.1 332.4h0M564.6 262.9h0M541.0 275.9h0M503.7 291.5h0M286.8 428.5h0M435.5 332.4h0M289.1 422.6h0M201.5 479.6h0M580.2 251.6h0M503.9 294.9h0M667.1 195.9h0M507.3 288.2h0M295.5 426.1h0M186.7 487.2h0M357.3 386.7h0M332.0 405.0h0M387.1 355.2h0M376.2 374.2h0M168.1 496.0h0M226.9 461.9h0M344.4 395.1h0M430.8 334.8h0M235.8 454.1h0M252.3 448.2h0M273.2 434.2h0M530.3 278.7h0M577.6 251.2h0M407.4 349.0h0M165.8 490.4h0M665.9 203.9h0M621.5 232.9h0M336.4 397.8h0M174.0 490.7h0M393.0 365.2h0M235.8 453.3h0M372.3 380.5h0M376.1 372.3h0M320.1 403.5h0M648.3 216.4h0M359.0 378.3h0M222.7 455.0h0M444.8 347.8h0M598.2 245.6h0M300.1 417.9h0M402.6 352.5h0M376.5 377.1h0M515.6 288.9h0M330.5 391.9h0M282.4 426.0h0M634.4 223.0h0M573.5 258.9h0M536.2 276.3h0M489.8 302.6h0M645.2 211.1h0M217.4 465.7h0M390.8 374.6h0M467.0 323.0h0M236.3 456.1h0M695.7 182.6h0M527.8 279.6h0M558.8 267.9h0M653.8 204.1h0M439.9 326.2h0M640.6 213.1h0M377.7 367.2h0M665.6 203.9h0M425.6 348.3h0M557.7 262.3h0M291.2 420.5h0M395.3 355.4h0M433.3 340.2h0M395.3 366.2h0M655.9 213.2h0M416.6 347.1h0M604.5 249.0h0M200.3 470.1h0M279.4 431.5h0M241.0 452.2h0M260.0 442.3h0M441.9 325.3h0M197.1 484.1h0M499.4 295.8h0M593.3 241.9h0M664.1 195.5h0M203.9 470.1h0M298.8 423.2h0M406.7 362.9h0M176.0 500.3h0M492.1 305.9h0M409.5 350.4h0M383.7 367.3h0M249.8 449.0h0M209.8 468.4h0M617.8 238.4h0M484.3 301.9h0M321.8 397.3h0M612.7 225.9h0M205.4 469.9h0M354.1 376.7h0M211.1 476.5h0M560.5 269.8h0M607.3 236.0h0M340.3 393.7h0M585.7 250.8h0M666.3 198.3h0M270.9 436.2h0M662.9 193.6h0M345.6 390.2h0M522.8 299.3h0M441.1 336.5h0M325.5 406.0h0M469.9 325.2h0M175.4 486.6h0M396.0 366.0h0M394.6 371.5h0M484.3 311.1h0M580.1 241.7h0M589.8 246.3h0M568.8 248.0h0M623.8 222.5h0M381.2 360.0h0M193.8 476.9h0M476.8 309.8h0M149.7 519.4h0M657.8 214.8h0M388.9 372.4h0M291.5 424.0h0M181.5 483.0h0M614.2 227.9h0M620.6 225.0h0M251.9 455.3h0M548.2 277.1h0M194.9 480.5h0M541.8 272.2h0M431.4 339.4h0M479.8 316.6h0M244.2 457.7h0M576.1 249.2h0M586.8 254.4h0M617.8 231.3h0M352.1 387.0h0M269.9 433.2h0M445.3 336.1h0M511.5 299.7h0M562.3 264.1h0M410.9 357.0h0M485.7 307.4h0M479.8 320.0h0M442.2 336.0h0M546.3 279.7h0M337.9 384.4h0M272.3 442.8h0M326.0 405.0h0M575.6 257.0h0M665.3 205.7h0M319.2 412.8h0M498.1 306.2h0M455.8 326.8h0M591.5 237.1h0M149.7 500.3h0M468.8 308.0h0M590.9 248.7h0M654.4 207.1h0M348.3 382.0h0M416.7 345.3h0M610.1 232.7h0M663.6 201.8h0M279.1 425.1h0M622.1 230.1h0M225.1 459.7h0M167.8 498.7h0M163.7 494.0h0M209.2 468.0h0M220.5 464.0h0M302.2 422.4h0M332.3 398.6h0M674.5 186.2h0M547.1 274.4h0M220.7 462.4h0M259.0 449.8h0M519.4 293.7h0M477.2 312.9h0M420.3 341.5h0M361.6 376.7h0M512.0 295.6h0M412.2 341.0h0M546.0 288.0h0M172.8 499.2h0M190.7 476.8h0M235.8 449.0h0M438.8 326.0h0M465.2 324.6h0M595.1 251.5h0M599.0 249.6h0M548.3 276.4h0M319.3 403.8h0M221.8 465.4h0M598.9 243.4h0M656.3 203.4h0M187.7 484.6h0M153.4 503.1h0M238.0 446.9h0M322.0 408.0h0M506.4 295.1h0M387.7 369.7h0M502.5 293.8h0M586.5 255.3h0M245.4 454.2h0M343.5 388.4h0M675.0 208.6h0M442.0 323.7h0M413.3 347.2h0M437.7 337.1h0M452.5 329.4h0M530.2 278.7h0M625.5 222.9h0M498.4 305.9h0M479.4 310.8h0M449.0 334.2h0M286.7 427.8h0M567.4 259.8h0M249.2 447.0h0M285.7 427.3h0M308.5 412.8h0M431.8 341.8h0M556.3 268.0h0M345.0 382.8h0M502.8 289.7h0M373.3 378.7h0M422.2 356.9h0M657.9 201.2h0M490.6 294.5h0M158.9 501.5h0M594.5 241.3h0M387.7 365.4h0M664.0 200.4h0M201.0 478.0h0M665.8 201.5h0M467.1 319.9h0M486.8 308.5h0M423.9 343.1h0M628.8 231.5h0M626.7 217.7h0M456.4 324.3h0M358.1 381.8h0M385.5 370.4h0M418.1 358.3h0M238.8 453.8h0M304.0 417.1h0M475.5 327.0h0M581.5 244.3h0M660.2 195.5h0M254.3 445.6h0M328.0 398.3h0M240.0 445.5h0M472.5 312.0h0M324.1 417.4h0M312.9 403.5h0M209.2 479.5h0M570.4 260.4h0M656.1 197.7h0M242.9 454.9h0M403.6 364.2h0M576.2 255.1h0M601.7 241.1h0M311.0 421.6h0M223.2 455.8h0M552.6 268.6h0M508.0 295.6h0M356.3 384.0h0M700.1 180.8h0M536.4 270.4h0M430.6 341.6h0M451.7 331.4h0M222.6 461.0h0M664.0 201.1h0M687.9 184.5h0M262.2 444.0h0M560.9 260.9h0M427.1 339.4h0M353.0 391.5h0M436.7 334.0h0M189.6 482.7h0M345.5 383.4h0M346.8 381.3h0M542.0 272.9h0M447.1 336.8h0M165.5 497.0h0M320.1 410.1h0M369.3 380.8h0M351.9 380.4h0M577.7 250.4h0M560.3 265.7h0M658.6 212.4h0M630.8 221.2h0M397.3 353.1h0M459.0 320.5h0M497.2 299.9h0M412.4 349.9h0M171.1 487.3h0M227.1 456.4h0M573.3 255.2h0M518.5 300.1h0M314.9 405.1h0M244.8 449.0h0M463.1 321.3h0M593.8 237.4h0M222.6 466.7h0M496.0 300.0h0M274.1 432.0h0M267.9 443.2h0M389.0 365.9h0M248.3 447.2h0M515.9 283.8h0M216.5 464.1h0M408.3 353.5h0M481.1 306.3h0M569.0 270.6h0M454.8 328.3h0M255.9 447.0h0M551.9 265.8h0M636.9 208.2h0M156.2 498.9h0M650.8 204.4h0M503.8 292.5h0M484.6 299.5h0M349.1 393.9h0M243.2 448.5h0M477.4 317.2h0M604.9 240.2h0M186.9 480.7h0M464.5 315.6h0M488.0 306.9h0M655.7 200.8h0M149.2 506.3h0M369.7 376.7h0M252.2 445.3h0M340.5 393.0h0M643.9 207.5h0M244.4 445.0h0M340.9 395.0h0M551.9 269.6h0M544.6 275.6h0M654.6 204.7h0M222.5 461.3h0M222.8 460.5h0M283.1 432.5h0M423.1 343.1h0M535.0 281.9h0M212.8 473.4h0M471.0 316.1h0M287.2 426.3h0M649.1 208.3h0M431.9 336.9h0M241.0 452.1h0M606.0 233.6h0M395.1 359.5h0M556.4 266.2h0M441.9 337.7h0M592.3 239.1h0M279.7 424.8h0M682.3 185.4h0M158.4 505.1h0M355.6 389.3h0M244.4 449.0h0M692.9 180.1h0M150.6 505.2h0M320.2 399.8h0M358.0 388.0h0M211.3 466.9h0M630.6 233.2h0M551.3 273.4h0M463.5 326.3h0M368.5 373.7h0M251.3 448.7h0M234.1 456.0h0M347.5 384.8h0M469.2 320.6h0M588.7 241.6h0M281.8 432.4h0M596.6 234.6h0M504.1 302.0h0M229.4 464.3h0M148.3 504.8h0M151.6 498.7h0M627.1 234.5h0M286.8 420.2h0M204.0 468.5h0M478.0 310.2h0M305.6 420.5h0M656.4 212.9h0M473.5 312.3h0M590.8 258.2h0M501.1 292.5h0M540.3 265.6h0M389.4 371.1h0M380.1 375.8h0M571.1 253.2h0M258.6 444.9h0M216.8 463.2h0M639.4 219.5h0M380.7 372.2h0M427.7 342.5h0M383.8 364.3h0M507.8 291.2h0M573.4 256.2h0M246.3 442.3h0M572.2 247.8h0M344.0 387.2h0M454.9 333.2h0M406.1 357.9h0M614.3 232.9h0M361.4 378.3h0M552.1 260.9h0M632.2 224.7h0M436.7 329.9h0M583.0 257.0h0M604.3 235.8h0M294.8 422.4h0M399.8 359.6h0M619.9 221.2h0M572.0 258.8h0M596.9 241.4h0M468.0 308.7h0M377.5 370.1h0M553.6 275.3h0M337.3 400.5h0M431.7 342.0h0M299.5 416.3h0M374.4 371.8h0M393.6 370.7h0M205.8 478.0h0M214.0 473.8h0M594.2 243.7h0M674.4 194.0h0M234.9 456.6h0M349.4 385.5h0M503.9 297.9h0M236.4 454.3h0M209.8 463.7h0M633.9 215.6h0M278.2 432.6h0M662.1 205.5h0M433.5 332.3h0M428.9 341.3h0M459.5 326.7h0M406.6 351.9h0M285.1 432.0h0M503.2 296.0h0M400.7 360.3h0M618.0 227.5h0M323.1 392.6h0M244.8 448.5h0M616.2 236.6h0M441.8 342.4h0M268.4 435.1h0M557.1 267.0h0M341.6 399.3h0M518.9 291.0h0M490.0 305.1h0M331.2 404.4h0M497.6 301.4h0M401.4 354.9h0M174.8 494.2h0M681.1 184.3h0M277.6 434.6h0M349.7 393.5h0M619.4 222.4h0M508.9 296.3h0M242.8 454.3h0M491.4 309.3h0M159.0 498.4h0M526.1 287.5h0M498.9 302.5h0M495.4 311.8h0M439.8 342.1h0M343.0 393.9h0M500.3 306.9h0M418.7 349.8h0M514.7 284.6h0M164.1 496.9h0M307.0 407.9h0M251.2 450.7h0M396.1 357.5h0M483.6 311.3h0M281.9 424.3h0M649.3 217.8h0M359.3 381.7h0M185.9 480.2h0M525.9 282.9h0M207.5 470.6h0M149.5 507.3h0M316.3 419.4h0M394.5 366.0h0M284.0 430.3h0M309.8 407.0h0M239.8 452.2h0M340.4 398.5h0M566.7 254.6h0M342.8 390.0h0M442.2 342.0h0M290.6 416.4h0M222.3 461.2h0M321.7 390.5h0M166.9 491.0h0M402.9 364.7h0M527.2 276.8h0M357.7 382.1h0M296.0 421.5h0M315.8 406.4h0M549.1 266.6h0M272.4 435.2h0M313.3 414.0h0M525.9 280.5h0M298.1 416.6h0M643.6 221.5h0M234.2 449.9h0M152.5 505.5h0M377.2 362.0h0M441.7 325.8h0M427.0 343.1h0M334.5 392.8h0M579.7 258.1h0M624.9 224.4h0M420.7 356.0h0M547.6 277.5h0M574.1 255.9h0M250.5 443.5h0M242.8 446.9h0M232.2 451.9h0M193.7 475.2h0M578.0 255.9h0M359.5 382.6h0M252.9 448.1h0M449.1 329.1h0M335.8 405.1h0M176.4 493.9h0M361.9 373.5h0M552.4 267.4h0M526.4 287.5h0M676.8 190.9h0M415.9 347.4h0M649.1 211.6h0M370.0 377.9h0M415.5 354.5h0M534.8 278.9h0M405.3 354.6h0M260.2 440.6h0M537.0 269.1h0M658.1 205.9h0M310.8 409.3h0M377.9 364.7h0M329.2 395.7h0M524.7 296.1h0M416.9 348.7h0M302.3 421.0h0M619.6 233.3h0M150.3 501.3h0M622.0 217.8h0M593.8 241.4h0M209.9 481.3h0M184.8 487.4h0M474.4 316.1h0M453.0 329.7h0M240.9 444.5h0M353.2 383.4h0M222.1 460.0h0M378.3 370.7h0M462.4 316.6h0M589.5 247.4h0M354.8 391.6h0M230.8 458.1h0M629.6 227.0h0M485.4 316.3h0M260.3 450.1h0M220.5 467.0h0M347.2 390.8h0M280.2 420.1h0M359.5 385.4h0M305.5 417.6h0M637.9 218.5h0M577.6 248.9h0M472.7 322.4h0M196.1 479.9h0M573.0 249.0h0M369.4 368.0h0M609.4 239.3h0M154.7 510.8h0M260.9 441.1h0M261.1 441.4h0M556.3 260.0h0M649.6 205.8h0M519.1 287.8h0M314.7 412.9h0M185.8 483.2h0M648.9 216.7h0M231.5 462.2h0M564.1 261.8h0M396.6 350.0h0M345.9 381.2h0M358.1 375.6h0M206.9 479.8h0M201.1 472.8h0M591.3 249.9h0M421.5 343.1h0M493.9 298.0h0M343.6 388.0h0M420.4 349.8h0M570.9 263.3h0M489.0 301.9h0M374.5 366.8h0M401.8 361.2h0M695.3 189.4h0M153.6 504.3h0M370.0 378.9h0M255.6 438.9h0M193.4 475.3h0M150.0 502.1h0M563.1 265.5h0M416.9 353.0h0M438.5 337.3h0M313.7 408.5h0M374.5 368.9h0M415.2 347.0h0M557.9 267.0h0M194.5 476.8h0M245.0 445.8h0M234.8 456.2h0M386.9 371.0h0M419.2 344.3h0M527.1 277.7h0M673.8 192.4h0M638.5 223.5h0M280.1 426.8h0M364.0 378.9h0M463.1 322.1h0M579.1 253.2h0M390.7 366.4h0M255.8 446.3h0M166.3 494.6h0M317.2 407.0h0M468.5 317.0h0M252.5 450.6h0M424.7 342.3h0M348.1 380.7h0M663.0 209.3h0M540.4 274.7h0M679.5 193.2h0M454.6 324.4h0M414.4 345.7h0M694.1 188.1h0M371.5 370.3h0M458.3 320.0h0M182.6 487.7h0M237.3 451.0h0M327.3 394.8h0M303.5 407.9h0M350.7 388.0h0M608.9 229.7h0M299.1 417.5h0M184.0 488.8h0M452.2 314.1h0M367.5 371.5h0M167.9 491.2h0M557.1 266.4h0M640.3 214.5h0M533.7 281.2h0M582.3 239.0h0M584.9 251.5h0M238.4 452.8h0M596.8 236.3h0M509.0 293.9h0M662.4 197.1h0M609.2 232.5h0M439.3 334.8h0M491.7 303.4h0M300.2 426.3h0M335.9 390.8h0M235.3 452.1h0M369.0 374.0h0M547.1 269.8h0M318.2 411.1h0M609.6 233.6h0M253.2 448.8h0M474.3 317.1h0M294.5 425.9h0M479.8 312.8h0M548.8 264.3h0M626.2 221.8h0M569.2 263.3h0M251.8 449.6h0M512.3 285.7h0M337.2 396.3h0M389.2 359.9h0M234.2 448.1h0M419.4 341.2h0M496.4 306.9h0M205.6 483.1h0M432.3 330.5h0M606.2 244.2h0M436.8 343.8h0M321.8 406.8h0M274.4 433.8h0M422.5 341.6h0M379.5 373.6h0M545.7 277.0h0M519.8 282.7h0M523.3 290.6h0M574.2 239.7h0M583.7 257.6h0M510.9 292.2h0M272.8 427.4h0M428.7 340.9h0M348.7 396.4h0M196.6 478.1h0M477.8 306.2h0M245.4 452.6h0M533.6 288.2h0M455.9 325.2h0M223.7 472.0h0M378.3 368.3h0M438.3 331.5h0M306.7 412.3h0M640.4 222.9h0M632.3 214.5h0M223.4 455.8h0M542.9 267.0h0M363.8 381.3h0M594.5 240.2h0M639.3 220.8h0M423.6 337.5h0M469.8 319.1h0M375.4 378.7h0M467.3 319.4h0M692.2 182.1h0M339.2 394.3h0M172.1 493.2h0M666.9 206.2h0M151.1 504.5h0M525.6 284.3h0M456.3 324.3h0M351.8 387.2h0M642.0 215.6h0M226.0 464.6h0M267.7 427.4h0M586.1 257.6h0M155.8 501.1h0M274.9 426.3h0M261.6 448.0h0M385.2 375.5h0M535.8 273.8h0M627.1 208.9h0M274.1 427.2h0M186.7 485.7h0M528.3 285.4h0M658.4 209.1h0M180.6 493.4h0M488.6 309.3h0M435.3 332.6h0M438.4 337.2h0M500.2 297.0h0M305.8 409.7h0M595.2 246.8h0M294.5 422.2h0M657.6 205.0h0M634.0 224.8h0M609.9 233.7h0M373.3 370.6h0M642.2 215.0h0M282.5 435.5h0M399.2 357.2h0M415.7 349.9h0M263.2 439.0h0M690.2 194.0h0M231.4 457.4h0M415.6 349.6h0M203.0 477.1h0M304.0 418.6h0M565.0 261.8h0M530.3 291.9h0M370.5 374.4h0M501.5 301.1h0M254.7 439.0h0M487.8 316.4h0M610.4 236.9h0M172.4 491.2h0M335.5 395.0h0M304.1 416.9h0M204.4 469.2h0M646.3 215.7h0M536.0 275.1h0M500.6 299.1h0M498.4 301.6h0M494.1 306.9h0M330.4 402.7h0M233.0 459.3h0M190.4 480.4h0M232.5 459.8h0M258.0 447.0h0M548.6 267.3h0M316.0 407.1h0M372.2 371.9h0M522.0 285.9h0M627.8 214.2h0M225.7 457.7h0M460.5 320.9h0M347.2 386.9h0M250.8 441.7h0M343.8 390.6h0M551.0 265.1h0M286.5 426.2h0M440.9 325.9h0M425.9 343.8h0M151.0 519.3h0M589.7 242.6h0M604.5 239.4h0M605.8 237.8h0M362.3 377.0h0M370.6 389.5h0M477.0 322.4h0M695.8 184.7h0M403.6 362.9h0M346.0 387.1h0M389.5 361.8h0M451.4 330.2h0M473.9 310.1h0M651.6 221.2h0M447.6 330.6h0M556.6 260.8h0M401.8 350.1h0M407.1 351.1h0M651.7 200.9h0M342.9 389.8h0M330.0 400.1h0M461.3 320.3h0M211.3 458.4h0M250.1 436.3h0M392.1 360.8h0M493.0 300.5h0M196.6 475.8h0M180.5 494.2h0M530.4 284.0h0M590.1 245.1h0M197.4 481.2h0M326.4 402.6h0M510.6 299.5h0M469.2 317.9h0M602.0 233.4h0M504.3 296.3h0M637.1 213.6h0M345.8 391.0h0M513.0 295.9h0M441.9 332.8h0M381.3 378.2h0M522.1 290.3h0M621.7 229.4h0M448.6 332.5h0M529.5 279.8h0M379.0 374.6h0M617.9 224.4h0M351.9 382.6h0M487.7 305.9h0M463.3 324.5h0M398.2 365.1h0M632.8 217.4h0M543.3 275.2h0M452.1 313.3h0M537.5 272.4h0M531.6 272.9h0M311.5 414.9h0M343.1 392.2h0M474.6 316.9h0M261.2 451.5h0M566.6 258.7h0M561.3 265.5h0M474.9 315.8h0M343.1 390.1h0M699.8 175.4h0M511.6 289.3h0M625.8 215.2h0M513.6 294.9h0M464.5 315.9h0M331.8 402.3h0M248.1 449.1h0M576.4 248.1h0M499.3 296.9h0M283.8 425.7h0M301.4 415.3h0M421.3 342.3h0M482.7 302.6h0M576.4 250.7h0M411.3 353.8h0M290.4 418.9h0M529.4 282.0h0M234.0 454.9h0M261.6 439.1h0M372.9 369.4h0M430.0 339.3h0M169.4 495.9h0M236.4 461.2h0M524.3 292.0h0M377.1 369.9h0M388.1 368.5h0M415.8 344.4h0M243.8 450.1h0M630.6 220.5h0M630.8 222.2h0M504.6 282.7h0M204.6 469.1h0M516.7 286.5h0M577.4 249.7h0M307.3 424.4h0M265.7 441.6h0M528.0 276.1h0M468.7 310.9h0M369.3 380.1h0M340.9 403.4h0M648.0 219.5h0M189.6 480.1h0M321.7 405.4h0M392.4 357.2h0M426.3 344.0h0M295.4 418.7h0M454.0 323.7h0M191.9 481.6h0M442.1 335.8h0M216.5 469.4h0M354.5 386.1h0M527.6 282.8h0M233.1 452.2h0M230.8 457.9h0M655.5 210.8h0M359.5 387.6h0M214.2 471.5h0M371.7 373.0h0M301.0 416.2h0M550.7 262.0h0M606.2 237.4h0M548.6 273.0h0M497.5 293.3h0M444.7 326.8h0M215.5 461.7h0M500.9 305.4h0M373.0 374.5h0M273.9 431.6h0M439.1 334.1h0M299.4 428.9h0M680.0 192.8h0M490.2 305.2h0M524.6 278.8h0M214.8 468.6h0M179.7 488.0h0M253.6 445.5h0M262.0 444.9h0M433.6 335.1h0M498.1 290.2h0M594.8 248.8h0M212.3 462.0h0M420.1 337.6h0M493.3 310.6h0M348.7 394.9h0M221.1 467.5h0M201.1 479.9h0M153.3 506.9h0M345.5 395.6h0M242.6 452.8h0M632.2 218.7h0M499.6 295.2h0M213.7 469.1h0M470.1 322.2h0M387.5 362.9h0M583.8 246.4h0M265.7 441.2h0M343.3 389.8h0M418.9 352.9h0M388.5 368.7h0M264.1 438.0h0M559.1 265.9h0M243.0 445.9h0M393.7 362.9h0M437.1 335.2h0M348.0 383.4h0M344.7 398.6h0M508.5 290.8h0M465.6 313.5h0M507.9 295.8h0M556.2 260.1h0M630.1 229.0h0M424.0 348.8h0M352.4 393.2h0M655.6 198.2h0M657.4 211.6h0M615.6 228.2h0M235.2 463.4h0M659.4 199.9h0M477.5 320.1h0M460.9 326.4h0M230.0 470.7h0M230.1 464.7h0M591.0 240.4h0M314.7 415.6h0M422.9 336.7h0M357.7 372.4h0M347.2 390.5h0M368.9 383.8h0M288.1 426.3h0M596.1 241.4h0M414.8 360.4h0M323.7 406.7h0M267.4 435.9h0M560.9 261.1h0M561.9 273.7h0M557.4 265.9h0M432.6 338.6h0M325.8 396.6h0M302.5 414.4h0M354.5 379.9h0M223.6 459.8h0M270.6 438.8h0M331.6 384.8h0M192.6 477.6h0M252.7 444.1h0M199.5 478.4h0M374.5 365.3h0M660.1 204.4h0M637.7 214.6h0M220.8 463.1h0M435.3 338.2h0M166.3 503.4h0M469.1 320.7h0M483.2 299.6h0M423.7 343.0h0M273.9 436.1h0M405.6 359.7h0M150.7 509.2h0M494.8 304.8h0M555.9 267.3h0M218.2 458.8h0M691.6 184.2h0M265.9 429.2h0M635.1 229.6h0M694.6 185.7h0M371.0 385.4h0M590.1 258.9h0M446.8 329.6h0M305.7 423.0h0M539.7 275.7h0M320.7 409.6h0M252.2 440.1h0M559.9 257.2h0M258.6 449.5h0M655.7 203.0h0M234.6 456.1h0M338.1 392.3h0M585.1 252.3h0M612.2 226.1h0M379.2 365.6h0M480.3 311.4h0M630.7 231.9h0M335.6 408.6h0M297.1 414.3h0M212.8 468.0h0M541.7 283.1h0M512.2 297.7h0M209.1 458.8h0M510.1 299.8h0M339.2 392.6h0M395.1 354.4h0M430.6 327.8h0M458.3 322.3h0M446.2 328.5h0M373.2 380.4h0M538.8 273.9h0M297.7 419.0h0M625.9 231.7h0M379.5 376.6h0M582.8 243.2h0M472.3 309.9h0M389.2 350.7h0M421.2 347.8h0M443.1 344.1h0M380.1 359.4h0M460.5 319.2h0M414.7 340.5h0M604.3 241.9h0M294.3 422.7h0M528.0 274.1h0M374.9 377.3h0M589.9 246.7h0M559.0 264.6h0M209.2 466.6h0M651.3 203.6h0M559.3 268.8h0M478.7 306.6h0M230.8 459.1h0M622.5 227.6h0M462.4 320.5h0M277.5 425.8h0M476.9 313.3h0M192.6 478.2h0M533.8 283.6h0M253.2 451.7h0M322.3 409.6h0M179.8 486.8h0M378.9 370.0h0M468.2 317.0h0M468.0 325.3h0M373.2 377.9h0M280.1 428.6h0M223.0 459.1h0M314.1 406.2h0M559.3 265.9h0M631.6 225.6h0M660.7 213.4h0M223.0 465.0h0M252.9 439.3h0M385.7 367.7h0M453.9 329.4h0M156.7 500.4h0M202.2 461.9h0M581.3 253.9h0M679.0 199.5h0M359.1 391.1h0M575.4 266.5h0M540.0 273.3h0M584.0 247.6h0M373.4 377.1h0M631.4 219.3h0M195.6 476.0h0M299.8 421.2h0M478.7 310.3h0M297.6 414.4h0M590.7 254.4h0M562.5 263.1h0M576.7 253.5h0M614.0 242.7h0M496.9 287.4h0M257.6 437.0h0M332.4 388.3h0M186.8 490.7h0M371.8 375.1h0M477.4 306.0h0M532.8 282.6h0M522.6 273.9h0M281.3 433.6h0M656.0 207.3h0M453.0 328.9h0M269.7 443.2h0M663.9 203.9h0M469.3 317.3h0M535.1 284.6h0M476.6 315.7h0M171.9 488.3h0M449.4 324.3h0M522.3 283.3h0M494.9 298.1h0M303.1 408.8h0M408.1 354.2h0M511.1 296.6h0M609.2 234.0h0M304.7 413.6h0M441.5 337.2h0M188.3 481.9h0M244.6 448.3h0M357.1 377.9h0M170.3 498.0h0M313.2 403.0h0M625.5 226.2h0M341.1 400.1h0M229.4 453.5h0M225.4 458.6h0M428.8 340.4h0M347.2 395.1h0M498.8 295.0h0M347.9 394.2h0M452.9 332.7h0M364.5 379.4h0M317.5 402.0h0M162.5 498.1h0M314.1 408.2h0M511.2 297.7h0M322.9 398.9h0M564.8 263.0h0M154.9 500.0h0M506.6 279.3h0M552.0 267.2h0M296.2 424.5h0M383.1 375.6h0M306.4 418.3h0M354.4 390.3h0M645.2 211.8h0M544.7 265.1h0M193.8 479.7h0M702.2 181.7h0M508.7 290.5h0M564.6 265.9h0M600.3 241.4h0M656.3 201.3h0M586.1 241.2h0M287.2 426.5h0M542.7 276.1h0M501.6 300.9h0M377.7 369.8h0M601.3 230.3h0M149.7 505.5h0M416.5 354.6h0M593.3 237.7h0M445.2 325.5h0M372.7 368.2h0M189.8 478.2h0M250.8 447.9h0M304.4 419.7h0M692.4 182.1h0M463.8 322.0h0M338.4 393.8h0M600.4 232.1h0M483.5 318.9h0M331.1 407.5h0M483.2 317.2h0M184.0 488.9h0M462.9 321.6h0M435.8 335.4h0M189.7 486.0h0M493.0 296.9h0M175.5 492.1h0M261.2 436.5h0M521.3 277.3h0M381.3 363.3h0M520.7 288.7h0M456.8 325.0h0M415.5 346.3h0M456.9 320.1h0M172.1 498.0h0M171.2 498.2h0M660.3 208.1h0M523.7 279.0h0M243.3 449.6h0M512.6 292.2h0M631.0 230.4h0M617.3 238.2h0M492.3 301.7h0M432.6 344.7h0M477.8 307.0h0M253.4 448.9h0M399.6 357.5h0M604.9 232.9h0M364.9 376.0h0M284.3 426.5h0M434.3 326.2h0M560.5 263.9h0M617.6 227.2h0M696.7 185.1h0M662.8 196.8h0M215.9 461.0h0M422.1 338.7h0M462.5 319.6h0M543.6 267.9h0M207.9 476.3h0M379.5 372.2h0M372.9 370.7h0M482.3 321.8h0M359.4 390.4h0M325.1 398.7h0M254.6 443.0h0M496.5 302.7h0M318.7 407.2h0M275.0 424.5h0M642.9 212.0h0M361.7 382.6h0M322.2 411.5h0M222.8 462.1h0M460.5 328.7h0M308.6 413.1h0M440.2 338.6h0M317.9 400.1h0M422.9 348.5h0M267.2 436.6h0M210.7 463.2h0M631.6 234.9h0M508.3 297.2h0M366.0 386.5h0M251.4 438.1h0M469.2 314.9h0M492.1 304.2h0M467.1 317.6h0M698.1 177.3h0M308.9 408.9h0M656.3 206.1h0M377.1 366.5h0M675.6 193.0h0M675.1 183.5h0M366.9 383.2h0M388.8 366.4h0M604.1 232.9h0M615.9 225.6h0M222.6 465.1h0M402.6 349.4h0M194.1 475.1h0M592.2 234.3h0M276.0 432.5h0M316.6 401.0h0M345.8 390.3h0M545.8 269.7h0M326.7 397.2h0M421.8 347.3h0M624.4 227.3h0M394.2 352.0h0M635.4 224.8h0M659.1 201.6h0M396.5 352.8h0M279.4 421.6h0M644.4 214.7h0M439.2 340.3h0M317.6 401.0h0M189.8 484.6h0M410.7 351.6h0M173.1 495.3h0M483.6 316.5h0M365.4 381.6h0M321.4 405.8h0M303.2 424.1h0M553.2 259.5h0M592.3 246.2h0M185.8 476.9h0M437.0 330.0h0M200.7 478.3h0M163.6 497.7h0M695.7 186.4h0M336.4 395.7h0M461.5 321.3h0M595.1 240.7h0M498.2 297.7h0M308.5 411.3h0M544.3 276.5h0M579.1 261.5h0M501.1 297.2h0M361.6 381.8h0M556.9 261.7h0M358.1 386.0h0M358.1 381.5h0M297.1 423.6h0M685.6 187.2h0M223.3 463.6h0M160.7 497.4h0M307.3 399.8h0M189.7 478.4h0M379.9 370.5h0M649.8 208.9h0M661.4 203.6h0M275.1 431.9h0M321.5 404.0h0M376.4 371.9h0M647.0 212.3h0M294.7 415.2h0M580.3 246.0h0M473.7 305.0h0M591.0 242.5h0M301.0 414.3h0M643.9 199.7h0M697.0 191.6h0M386.1 365.1h0M631.4 218.6h0M516.7 285.6h0M306.7 416.3h0M400.5 359.8h0M303.3 422.3h0M611.5 236.3h0M292.1 431.1h0M589.4 241.8h0M270.2 435.6h0M615.9 236.7h0M576.4 245.9h0M517.9 288.5h0M295.0 424.9h0M541.8 271.8h0M470.5 319.2h0M325.3 411.8h0M701.4 179.8h0M631.0 212.8h0M478.6 321.1h0M655.7 209.9h0M342.6 388.5h0M258.8 440.0h0M308.2 407.9h0M442.6 334.3h0M593.5 236.3h0M589.1 246.4h0M283.0 427.6h0M559.6 261.6h0M617.0 231.8h0M447.1 332.0h0M397.9 361.8h0M407.4 358.1h0M241.2 455.3h0M279.8 435.6h0M415.0 346.3h0M392.4 361.0h0M426.6 352.9h0M386.5 368.4h0M600.1 239.9h0M246.6 453.5h0M266.5 435.0h0M664.9 205.4h0M432.3 339.0h0M493.3 308.3h0M386.8 365.0h0M373.6 373.0h0M346.5 378.2h0M450.0 320.3h0M574.4 254.4h0M173.6 491.5h0M627.1 223.8h0M238.9 452.0h0M403.8 367.2h0M567.6 259.6h0M249.4 444.1h0M492.6 303.4h0M483.6 315.4h0M437.2 344.3h0M574.7 265.5h0M229.9 451.0h0M270.0 431.4h0M645.8 205.2h0M641.8 217.3h0M199.4 480.0h0M477.7 320.9h0M220.6 462.4h0M651.5 218.3h0M627.5 228.7h0M515.7 283.5h0M403.6 348.4h0M475.5 315.1h0M442.7 328.4h0M566.0 259.4h0M591.5 242.4h0M601.7 246.8h0M607.2 234.3h0M285.6 424.5h0M292.2 419.9h0M520.2 285.1h0M440.1 333.8h0M644.5 210.7h0M220.6 467.6h0M383.5 366.1h0M608.9 240.1h0M416.5 347.9h0M246.8 450.6h0M335.2 399.9h0M645.0 217.0h0M566.9 262.9h0M615.2 226.5h0M303.1 418.9h0M559.3 262.0h0M186.9 481.5h0M291.0 411.8h0M467.0 313.4h0M483.2 314.1h0M424.9 349.7h0M635.8 218.5h0M375.1 370.3h0M300.1 420.2h0M292.4 417.0h0M528.3 293.0h0M584.4 261.1h0M549.4 274.1h0M479.5 307.9h0M188.0 479.1h0M384.8 366.6h0M229.2 452.1h0M325.3 399.8h0M168.2 495.5h0M510.1 284.7h0M271.5 432.2h0M430.7 344.1h0M630.2 220.3h0M273.6 437.7h0M317.3 401.4h0M300.1 418.2h0M194.2 487.6h0M453.6 319.5h0M457.6 321.9h0M503.9 299.5h0M635.0 218.3h0M450.8 324.4h0M468.7 317.6h0M591.1 243.9h0M618.7 222.7h0M460.0 324.8h0M504.4 296.4h0M385.0 357.6h0M399.1 360.0h0M407.3 357.2h0M465.5 318.9h0M295.3 415.0h0M474.8 318.1h0M315.0 409.3h0M326.3 404.5h0M322.5 395.1h0M581.5 243.8h0M211.8 467.5h0M688.2 181.0h0M238.3 459.9h0M488.9 309.7h0M287.9 422.8h0M523.9 277.5h0M601.7 247.5h0M369.1 374.6h0M405.4 356.3h0M667.2 202.1h0M432.7 338.1h0M349.5 393.3h0M284.9 419.0h0M625.0 228.5h0M543.5 271.4h0M323.3 408.8h0M424.8 347.1h0M236.7 462.7h0M562.0 254.1h0M622.7 211.1h0M526.3 283.0h0M515.9 287.5h0M252.2 435.6h0M633.9 223.7h0M448.7 327.8h0M601.2 243.2h0M516.3 284.7h0M593.0 241.5h0M568.7 252.1h0M535.6 272.1h0M496.0 307.1h0M275.8 434.2h0M280.4 427.5h0M635.9 215.2h0M574.9 255.2h0M306.8 409.8h0M214.2 463.8h0M615.3 233.3h0M155.8 501.9h0M483.0 311.2h0M521.9 292.4h0M376.6 366.3h0M627.7 212.6h0M488.8 306.4h0M686.1 178.5h0M534.2 269.6h0M454.7 328.7h0M193.6 481.2h0M603.7 240.7h0M219.8 459.7h0M282.9 420.5h0M465.9 321.6h0M544.2 281.2h0M634.7 218.8h0M648.5 203.5h0M631.0 219.1h0M579.3 251.9h0M357.8 391.0h0M507.1 291.2h0M249.2 448.3h0M315.8 407.3h0M684.5 189.1h0M504.1 298.9h0M629.9 227.6h0M232.6 456.1h0M483.6 305.4h0M236.4 446.3h0M541.2 276.0h0M630.3 228.0h0M382.2 358.7h0M150.0 500.7h0M316.4 410.9h0M188.5 483.7h0M391.0 362.7h0M561.3 254.4h0M680.7 192.1h0M273.0 425.8h0M235.8 453.6h0M163.2 500.8h0M308.6 410.7h0M304.1 422.5h0M299.1 420.4h0M588.6 243.0h0M319.5 409.3h0M238.1 454.9h0M254.6 449.6h0M536.3 277.2h0M349.2 396.3h0M373.0 375.5h0M505.9 291.1h0M469.8 319.5h0M405.6 349.8h0M471.1 313.7h0M312.0 406.6h0M380.3 373.1h0M535.5 278.2h0M178.7 493.1h0M350.5 390.7h0M367.6 379.5h0M307.6 409.7h0M420.3 337.7h0M528.9 289.2h0M524.3 276.1h0M558.9 277.0h0M490.5 315.6h0M151.6 496.8h0M297.8 412.2h0M503.0 295.9h0M218.9 463.7h0M426.2 342.2h0M180.5 497.3h0M623.7 221.7h0M266.3 439.0h0M347.9 399.3h0M194.7 476.7h0M244.8 446.0h0M398.9 351.6h0M433.9 332.2h0M614.2 232.9h0M277.4 426.9h0M605.0 237.0h0M295.5 418.7h0M377.8 361.4h0M664.9 203.3h0M389.4 376.9h0M279.3 431.2h0M420.6 353.7h0M553.4 273.0h0M618.6 220.4h0M200.7 473.4h0M421.8 349.0h0M365.0 379.3h0M223.6 457.3h0M414.3 348.4h0M309.7 402.8h0M519.2 293.0h0M159.8 498.4h0M406.3 353.5h0M328.1 404.7h0M357.5 381.2h0M369.8 372.1h0M671.6 190.4h0M542.1 285.2h0M375.4 371.6h0M317.9 403.2h0M353.0 379.5h0M653.6 205.8h0M484.7 307.5h0M658.1 209.5h0M304.3 407.2h0M430.2 340.4h0M515.0 281.6h0M565.8 259.3h0M201.6 473.5h0M386.1 370.2h0M603.0 245.6h0M491.6 302.2h0M228.6 459.8h0M383.1 361.0h0M390.1 370.8h0M175.7 496.2h0M361.0 375.6h0M395.5 365.2h0M657.5 212.5h0M461.1 333.1h0M439.3 339.8h0M201.1 472.8h0M155.5 498.3h0M399.8 368.0h0M485.1 306.1h0M286.0 430.1h0M432.0 343.1h0M194.1 477.0h0M291.0 423.4h0M431.9 337.9h0M342.1 389.3h0M419.7 343.5h0M527.6 281.1h0M235.1 451.5h0M492.3 306.5h0M647.3 217.7h0M564.0 266.3h0M375.4 372.7h0M476.6 317.3h0M211.5 468.5h0M541.3 275.8h0M516.5 281.2h0M268.0 440.7h0M370.3 369.6h0M475.7 309.7h0M468.9 305.2h0M478.8 315.0h0M523.6 282.1h0M598.8 243.9h0M404.7 357.3h0M184.2 484.1h0M561.2 257.7h0M197.6 470.8h0M430.0 342.2h0M507.0 298.7h0M581.1 250.5h0M455.5 319.4h0M474.9 310.5h0M641.7 211.4h0M585.2 243.3h0M320.7 404.6h0M632.4 217.2h0M531.2 269.1h0M346.0 386.9h0M283.7 429.6h0M419.0 348.6h0M415.4 350.0h0M611.9 231.1h0M395.1 357.6h0M510.4 301.1h0M335.1 399.9h0M412.8 352.4h0M343.6 396.3h0M353.9 395.3h0M514.9 297.0h0M304.6 409.2h0M401.0 364.2h0M534.1 270.1h0M183.8 485.4h0M368.1 376.1h0M546.6 261.1h0M498.6 289.2h0M585.4 255.4h0M294.9 415.1h0M477.5 309.0h0M324.5 406.1h0M201.6 476.6h0M553.9 272.4h0M328.0 392.3h0M540.5 260.4h0M569.6 266.2h0M578.9 257.0h0M326.4 402.3h0M550.1 274.8h0M272.7 428.0h0M468.8 316.2h0M178.0 490.2h0M562.9 271.3h0M201.0 482.8h0M543.3 273.4h0M488.0 316.6h0M207.8 467.8h0M429.1 343.4h0M538.7 270.5h0M551.0 267.1h0M692.5 181.8h0M280.7 426.5h0M362.8 383.4h0M375.9 375.4h0M498.1 302.2h0M231.5 456.8h0M452.5 322.8h0M289.1 424.5h0M289.2 416.9h0M557.0 267.8h0M455.1 331.6h0M583.3 254.1h0M488.0 309.5h0M589.4 238.1h0M423.7 339.6h0M177.5 487.5h0M673.1 197.3h0M283.5 425.4h0M576.4 260.8h0M252.5 433.4h0M399.8 355.2h0M325.8 396.6h0M502.1 291.2h0M215.2 467.2h0M214.5 468.1h0M403.4 360.8h0M588.3 247.3h0M395.5 361.6h0M208.6 479.5h0M673.6 195.1h0M212.0 474.5h0M345.5 391.2h0M450.7 316.0h0M290.2 414.5h0M530.7 289.1h0M364.0 378.3h0M559.7 261.8h0M215.3 459.7h0M564.2 249.7h0M591.3 244.9h0M274.1 434.9h0M283.4 424.9h0M617.7 226.6h0M348.6 397.4h0M373.0 372.4h0M459.9 324.8h0M430.5 331.2h0M578.7 249.0h0M492.3 302.1h0M536.3 272.9h0M348.4 389.3h0M400.5 356.9h0M616.0 228.5h0M595.3 253.2h0M487.0 301.9h0M451.0 322.5h0M324.9 398.7h0M407.0 348.1h0M228.3 464.8h0M390.6 362.5h0M204.3 474.3h0M279.6 430.2h0M326.6 407.3h0M412.1 355.7h0M537.3 277.7h0M198.2 482.1h0M497.3 302.6h0M585.7 255.2h0M233.3 454.3h0M259.8 431.2h0M195.8 476.8h0M466.2 319.6h0M365.1 385.8h0M186.6 487.3h0M222.9 459.7h0M363.3 379.0h0M154.6 504.1h0M562.4 273.0h0M257.7 447.6h0M550.2 267.5h0M166.6 500.5h0M313.3 405.4h0M653.3 208.2h0M250.7 451.0h0M179.6 480.1h0M597.1 256.6h0M566.1 262.7h0M387.4 373.4h0M255.0 445.5h0M323.2 400.9h0M393.9 355.0h0M639.8 214.4h0M303.7 416.1h0M472.7 314.1h0M527.7 289.8h0M594.9 244.1h0M503.8 292.7h0M351.2 385.6h0M387.2 362.3h0M391.1 365.8h0M464.5 317.0h0M440.1 335.3h0M220.6 468.4h0M550.9 278.1h0M357.2 395.3h0M499.0 304.8h0M324.4 405.3h0M391.2 362.6h0M696.3 188.3h0M180.0 493.5h0M494.7 300.5h0M239.5 450.8h0M661.3 201.0h0M549.0 268.1h0M616.2 234.1h0M612.2 230.5h0M325.9 399.5h0M404.5 350.6h0M652.7 210.6h0M419.0 352.5h0M653.2 202.6h0M585.3 243.3h0M420.7 346.9h0M458.5 335.5h0M463.8 325.2h0M271.2 429.4h0M337.1 398.8h0M368.5 379.7h0M463.7 314.9h0M598.6 240.5h0M414.0 349.9h0M449.7 332.7h0M520.6 285.3h0M578.1 252.1h0M699.5 177.6h0M535.7 288.1h0M492.4 297.1h0M509.4 283.5h0M206.6 469.9h0M533.8 281.3h0M297.4 412.8h0M623.0 219.2h0M587.2 251.7h0M481.5 310.4h0M660.9 202.9h0M167.3 499.5h0M193.6 480.5h0M388.6 360.1h0M253.6 434.8h0M154.5 511.0h0M644.4 210.1h0M363.6 386.9h0M602.1 242.3h0M324.0 399.7h0M489.7 310.8h0M217.4 464.2h0M500.7 301.1h0M526.2 279.7h0M503.4 304.6h0M387.9 355.0h0M509.8 298.5h0M268.2 439.0h0M516.1 296.4h0M327.5 394.4h0M226.5 458.5h0M358.5 382.2h0M510.0 285.0h0M235.4 460.7h0M549.9 274.7h0M314.6 407.1h0M395.3 365.0h0M196.7 479.4h0M245.8 450.0h0M467.5 319.8h0M635.2 217.7h0M267.6 441.5h0M533.9 273.2h0M616.9 230.0h0M626.5 228.6h0M660.1 207.8h0M220.9 462.5h0M476.1 313.8h0M341.1 390.3h0M160.5 493.0h0M413.2 350.3h0M643.9 223.5h0M328.6 398.6h0M300.8 416.0h0M672.8 196.3h0M502.0 298.9h0M251.6 453.3h0M152.8 505.2h0M207.3 471.0h0M225.9 461.6h0M591.8 236.0h0M506.6 285.9h0M229.7 467.5h0M378.2 361.0h0M396.9 366.0h0M603.5 240.7h0M686.9 172.1h0M161.5 491.7h0M156.2 497.8h0M486.1 312.9h0M173.5 491.2h0M357.9 380.3h0M498.5 305.0h0M407.5 351.6h0M232.5 463.1h0M333.4 390.4h0M440.5 334.4h0M252.4 449.1h0M657.9 197.5h0M268.7 431.5h0M603.5 229.4h0M244.3 456.4h0M395.0 364.2h0M554.9 267.2h0M478.0 320.9h0M233.7 455.7h0M270.1 434.5h0M357.6 384.2h0M397.7 360.0h0M652.9 217.8h0M332.2 395.2h0M361.4 373.9h0M451.0 335.0h0M277.6 436.0h0M565.0 260.7h0M161.6 504.0h0M508.8 298.7h0M640.2 218.7h0M340.6 400.0h0M574.8 264.5h0M513.3 286.1h0M582.8 256.3h0M494.0 298.1h0M464.4 324.6h0M315.0 405.0h0M369.7 378.6h0M215.0 474.4h0M466.6 316.4h0M402.8 357.4h0M219.7 467.9h0M221.7 453.4h0M310.7 402.3h0M239.2 458.5h0M235.1 456.1h0M570.4 260.0h0M313.5 413.5h0M220.9 461.6h0M651.9 205.0h0M634.0 213.8h0M577.5 260.2h0M391.4 360.5h0M659.3 197.8h0M635.4 231.4h0M485.9 309.5h0M506.8 299.7h0M518.2 284.6h0M435.9 344.8h0M625.3 225.8h0M615.3 232.4h0M539.6 280.3h0M536.8 277.8h0M389.7 372.5h0M329.4 405.7h0M639.7 222.5h0M440.7 330.2h0M631.6 213.6h0M296.8 420.3h0M239.7 454.9h0M513.3 300.3h0M466.8 326.6h0M376.2 371.6h0M460.8 316.7h0M631.1 224.5h0M516.2 293.7h0M446.8 333.9h0M295.6 417.0h0M247.4 442.4h0M376.2 372.5h0M338.9 396.2h0M523.3 284.2h0M694.5 188.0h0M617.1 230.5h0M272.1 428.3h0M328.0 398.4h0M477.9 320.6h0M596.9 230.7h0M343.0 377.5h0M303.7 422.2h0M391.6 365.5h0M580.4 248.2h0M416.2 342.1h0M163.5 505.9h0M520.9 277.7h0M601.3 232.3h0M541.8 270.7h0M165.1 497.2h0M287.5 433.7h0M451.1 327.2h0M391.9 367.0h0M188.6 481.2h0M336.2 398.0h0M362.4 386.5h0M417.9 336.8h0M699.9 165.5h0M509.3 302.0h0M436.2 335.4h0M161.8 503.5h0M183.9 482.3h0M557.1 270.6h0M443.8 329.8h0M531.3 283.7h0M265.5 434.4h0M680.5 203.6h0M425.0 341.0h0M457.1 323.2h0M538.9 273.8h0M484.3 307.4h0M576.1 246.3h0M269.6 429.0h0M213.6 471.0h0M361.5 380.7h0M555.2 271.2h0M582.7 253.3h0M348.2 379.8h0M521.8 291.8h0M567.2 254.5h0M586.0 239.1h0M652.1 205.1h0M392.3 356.9h0M529.3 287.7h0M658.2 208.1h0M334.8 400.7h0M688.4 179.3h0M318.4 406.8h0M482.0 314.0h0M262.6 439.5h0M229.8 453.3h0M208.9 476.8h0M476.2 308.9h0M156.2 501.3h0M394.3 362.4h0M514.5 288.5h0M302.1 419.2h0M267.2 441.3h0M658.8 214.0h0M266.0 435.6h0M432.1 347.0h0M424.7 346.7h0M636.0 223.7h0M474.6 309.2h0M399.3 372.2h0M284.3 428.3h0M621.6 227.5h0M340.1 392.5h0M551.9 268.9h0M538.0 271.8h0M451.3 328.7h0M492.3 306.2h0M482.0 308.6h0M524.9 282.7h0M264.5 437.0h0M347.6 387.1h0M186.1 479.3h0M246.6 442.1h0M152.4 509.0h0M151.0 476.0h0M330.8 311.6h0M353.4 362.5h0M383.7 404.1h0M376.1 388.6h0M406.4 337.7h0M738.8 146.0h0M741.2 150.2h0M745.7 158.0h0M747.7 158.6h0M752.5 156.2h0M745.3 167.9h0M759.7 152.0h0M762.7 147.2h0M750.7 149.6h0M771.5 134.9h0M771.5 144.8h0M777.7 140.9h0M780.1 141.2h0M790.3 143.0h0M786.7 129.2h0M736.4 165.2h0M737.6 162.8h0M730.4 166.4h0M731.9 175.3h0M728.0 182.5h0M724.4 177.1h0M720.8 175.3h0M714.8 165.8h0M716.0 185.5h0M716.0 182.0h0M708.8 180.7h0M707.6 189.7h0M703.4 193.9h0M700.4 174.7h0M696.8 175.3h0M698.0 188.0h0M687.2 182.5h0M690.8 191.5h0M681.2 186.7h0M683.6 196.3h0M656.0 188.4h0M660.0 224.3h0M644.8 238.7h0M845.4 80.8h0M864.3 99.6h0M849.2 105.2h0M847.3 109.2h0M804.4 124.0h0M806.4 122.4h0M803.6 124.3h0"/><path d="M146.4 507.8L863.6 84.6" stroke="#04246c" stroke-width="3.6" stroke-linecap="round"/><rect x="663" y="396" width="238" height="81" fill="#fff" stroke="#000" stroke-width="2"/><g font-family="Liberation Sans, sans-serif" font-weight="bold" font-size="27.8" fill="#000" style="will-change:transform"><text x="669.6" y="427" textLength="14.44" lengthAdjust="spacingAndGlyphs">y</text><text x="690.54" y="427" textLength="14.91" lengthAdjust="spacingAndGlyphs">=</text><text x="711.92" y="427" textLength="83.28" lengthAdjust="spacingAndGlyphs">0.996x</text><text x="802.58" y="427" textLength="15.61" lengthAdjust="spacingAndGlyphs">+</text><text x="824.5" y="427" textLength="69.4" lengthAdjust="spacingAndGlyphs">0.093</text><text x="719.55" y="464.7" textLength="15.7" lengthAdjust="spacingAndGlyphs">R</text><text x="736.62" y="454" textLength="9.24" lengthAdjust="spacingAndGlyphs" font-size="16">2</text><text x="753.37" y="464.7" textLength="14.56" lengthAdjust="spacingAndGlyphs">=</text><text x="774.59" y="464.7" textLength="70.43" lengthAdjust="spacingAndGlyphs">0.996</text></g><g font-family="Liberation Sans, sans-serif" font-weight="bold" font-size="27.6" fill="#000" style="will-change:transform"><text x="64.16" y="542.34">2</text><text x="63.2" y="494.79">4</text><text x="64.05" y="447.54">6</text><text x="63.9" y="399.64">8</text><text x="48.83" y="352.84">10</text><text x="48.81" y="305.64">12</text><text x="47.85" y="258.39">14</text><text x="48.7" y="209.24">16</text><text x="48.55" y="162.04">18</text><text x="48.83" y="114.54">20</text><text x="48.81" y="67.04">22</text><text x="47.85" y="19.54">24</text><text x="99.55" y="582">2</text><text x="178.89" y="582">4</text><text x="259.57" y="582">6</text><text x="339.16" y="582">8</text><text x="411.5" y="582">10</text><text x="491.08" y="582">12</text><text x="570.66" y="582">14</text><text x="650.63" y="582">16</text><text x="730.86" y="582">18</text><text x="810.69" y="582">20</text><text x="890.32" y="582">22</text><text x="970.25" y="582">24</text></g><g font-family="Liberation Sans, sans-serif" font-weight="bold" font-size="35.5" fill="#000" style="will-change:transform"><text x="289.54" y="634.6" textLength="83.91" lengthAdjust="spacingAndGlyphs">Mast</text><text x="384.1" y="634.6" textLength="81.25" lengthAdjust="spacingAndGlyphs">wind</text><text x="473.4" y="634.6" textLength="98.86" lengthAdjust="spacingAndGlyphs">speed</text><text x="581.93" y="634.6" textLength="32.52" lengthAdjust="spacingAndGlyphs">at</text><text x="624.36" y="634.6" textLength="72.18" lengthAdjust="spacingAndGlyphs">80m</text><text x="706.29" y="634.6" textLength="89.61" lengthAdjust="spacingAndGlyphs">[m/s]</text><g transform="translate(29.5 526.6) rotate(-90)"><text x="-2.24" y="0" textLength="81.95" lengthAdjust="spacingAndGlyphs">Lidar</text><text x="89.5" y="0" textLength="80.73" lengthAdjust="spacingAndGlyphs">wind</text><text x="179.7" y="0" textLength="98.75" lengthAdjust="spacingAndGlyphs">speed</text><text x="286.59" y="0" textLength="33.78" lengthAdjust="spacingAndGlyphs">at</text><text x="328.44" y="0" textLength="73.44" lengthAdjust="spacingAndGlyphs">80m</text><text x="411.81" y="0" textLength="88.88" lengthAdjust="spacingAndGlyphs">[m/s]</text></g></g><g font-family="Liberation Sans, sans-serif" font-size="40" fill="#000" style="will-change:transform"><text x="442.42" y="691.8" textLength="46.97" lengthAdjust="spacingAndGlyphs">(a)</text><text x="513.99" y="691.8" textLength="51.05" lengthAdjust="spacingAndGlyphs">DB</text><text x="575.78" y="691.8" textLength="62.61" lengthAdjust="spacingAndGlyphs">site</text></g><path stroke="#a6a6a6" stroke-width="2" fill="none" d="M188 776.5V1298.5M267.4 776.5V1298.5M346.8 776.5V1298.5M426 776.5V1298.5M505.7 776.5V1298.5M587 776.5V1298.5M666.5 776.5V1298.5M745.9 776.5V1298.5M825.4 776.5V1298.5M905 776.5V1298.5M106.5 1250.8H986.5M106.5 1203.75H986.5M106.5 1156.3H986.5M106.5 1108.8H986.5M106.5 1061.7H986.5M106.5 1012.4H986.5M106.5 965.3H986.5M106.5 917.9H986.5M106.5 870.8H986.5M106.5 823.3H986.5"/><rect x="106.5" y="776.5" width="880" height="522" fill="none" stroke="#000" stroke-width="3" stroke-linejoin="round"/><path fill="none" stroke="#6b8bcb" stroke-width="6" stroke-linecap="round" d="M336.4 1149.4h0M370.6 1164.1h0M704.4 943.4h0M384.2 1135.9h0M206.6 1235.9h0M233.2 1228.4h0M223.8 1224.9h0M706.6 957.1h0M499.0 1060.1h0M688.8 950.6h0M507.8 1094.0h0M173.0 1266.4h0M564.9 1028.2h0M641.3 980.7h0M490.0 1046.2h0M607.9 992.5h0M326.1 1147.9h0M764.8 908.5h0M782.0 860.5h0M752.4 881.7h0M458.8 1106.3h0M705.7 911.9h0M550.4 1026.3h0M413.1 1101.6h0M352.2 1143.7h0M227.8 1203.7h0M734.8 929.4h0M342.2 1124.0h0M403.0 1090.0h0M368.0 1125.9h0M676.5 939.5h0M598.3 1004.9h0M257.6 1203.7h0M482.6 1077.4h0M386.8 1116.0h0M267.8 1193.7h0M501.1 1072.2h0M623.8 999.4h0M632.8 999.9h0M482.9 1068.3h0M266.0 1190.2h0M201.3 1231.1h0M216.1 1215.2h0M728.3 925.1h0M633.1 972.2h0M446.5 1093.0h0M342.3 1161.6h0M689.1 974.4h0M501.0 1050.7h0M510.0 1075.4h0M788.3 901.0h0M403.9 1105.7h0M194.6 1225.9h0M593.4 991.7h0M270.6 1203.0h0M477.3 1060.0h0M325.2 1153.7h0M572.4 1018.1h0M695.2 925.8h0M597.0 977.7h0M404.2 1142.5h0M211.0 1229.9h0M455.3 1095.6h0M585.0 1001.0h0M579.4 1011.4h0M453.4 1097.7h0M652.5 991.4h0M585.1 1007.3h0M624.8 999.7h0M455.5 1084.5h0M751.2 913.0h0M263.0 1185.7h0M480.0 1053.6h0M508.1 1045.7h0M667.4 970.2h0M590.9 994.6h0M465.7 1115.0h0M367.6 1129.8h0M511.7 1067.0h0M718.2 925.2h0M582.1 1005.5h0M324.4 1171.6h0M651.1 941.1h0M318.0 1173.4h0M322.2 1145.3h0M484.6 1049.1h0M553.4 1023.0h0M704.1 938.8h0M295.6 1193.0h0M370.1 1140.5h0M245.3 1187.4h0M308.4 1155.8h0M513.8 1053.7h0M268.2 1187.1h0M674.4 940.0h0M192.8 1239.3h0M187.0 1236.4h0M667.0 977.3h0M586.1 998.2h0M585.5 998.6h0M459.6 1052.9h0M221.9 1212.1h0M337.1 1148.1h0M642.9 988.2h0M187.8 1237.7h0M408.0 1103.9h0M589.1 1019.5h0M259.4 1191.0h0M378.1 1132.8h0M506.3 1049.3h0M708.5 930.3h0M448.3 1080.7h0M553.7 1037.3h0M499.8 1068.6h0M619.6 1004.6h0M482.0 1063.5h0M465.9 1081.6h0M575.3 1025.9h0M385.0 1121.4h0M188.8 1237.4h0M437.0 1107.6h0M272.1 1172.6h0M576.5 1055.3h0M292.0 1179.3h0M580.2 1037.3h0M190.1 1242.3h0M231.1 1223.7h0M260.2 1206.6h0M511.7 1079.7h0M425.2 1095.0h0M208.2 1227.3h0M477.8 1092.0h0M518.5 1062.0h0M505.7 1064.6h0M558.5 1025.7h0M615.5 1001.2h0M632.0 987.9h0M652.9 973.6h0M640.1 998.4h0M175.0 1260.0h0M425.1 1101.6h0M558.3 1029.5h0M423.1 1112.1h0M555.9 988.1h0M670.8 936.0h0M269.9 1201.4h0M689.6 971.6h0M710.6 902.8h0M440.2 1077.8h0M346.4 1135.6h0M785.1 901.6h0M296.8 1197.0h0M686.5 949.6h0M380.3 1150.5h0M728.1 939.0h0M657.8 954.0h0M629.2 985.7h0M592.8 1010.6h0M594.7 1015.3h0M409.6 1094.5h0M710.5 1004.9h0M432.9 1091.3h0M308.1 1156.8h0M416.3 1090.8h0M203.7 1234.3h0M413.0 1143.7h0M304.7 1180.4h0M539.8 1022.9h0M596.6 1015.4h0M293.5 1168.0h0M720.2 929.8h0M393.3 1118.3h0M264.4 1194.0h0M293.8 1191.3h0M690.8 964.0h0M764.0 906.0h0M357.5 1151.9h0M401.6 1107.1h0M181.6 1245.8h0M473.1 1081.9h0M396.3 1129.8h0M342.1 1165.1h0M625.7 987.2h0M345.3 1145.4h0M301.7 1183.8h0M501.4 1069.9h0M433.5 1097.8h0M252.2 1203.2h0M473.8 1086.8h0M260.9 1191.5h0M586.4 1004.5h0M385.6 1136.9h0M231.5 1217.5h0M204.6 1240.3h0M777.6 915.9h0M428.3 1108.3h0M216.0 1226.9h0M671.9 987.2h0M475.5 1078.7h0M575.7 1031.2h0M504.6 1063.4h0M356.0 1173.7h0M513.8 1036.7h0M524.8 1035.5h0M302.8 1175.6h0M217.8 1215.9h0M378.6 1122.5h0M188.0 1231.6h0M542.5 1036.0h0M483.7 1054.0h0M555.0 1017.5h0M382.6 1124.4h0M671.4 953.4h0M675.2 949.7h0M476.7 1078.1h0M562.2 1032.0h0M587.0 999.5h0M577.8 1038.1h0M561.5 1004.6h0M425.5 1113.5h0M430.1 1097.4h0M277.9 1198.3h0M637.8 983.6h0M290.2 1175.2h0M554.6 1038.9h0M311.3 1169.9h0M462.4 1086.2h0M755.4 891.8h0M313.9 1173.5h0M183.9 1235.8h0M603.5 1000.9h0M298.5 1181.8h0M280.9 1165.8h0M303.3 1182.4h0M646.2 975.3h0M644.2 989.0h0M697.4 914.6h0M292.1 1204.0h0M583.1 1035.2h0M421.7 1098.5h0M332.8 1142.0h0M603.5 999.0h0M592.5 1024.3h0M619.7 1004.0h0M482.0 1057.9h0M557.9 1007.0h0M329.1 1167.2h0M748.3 910.8h0M661.0 975.9h0M432.9 1094.1h0M353.4 1144.0h0M403.6 1134.5h0M714.9 943.9h0M458.7 1089.5h0M732.5 923.3h0M548.6 1030.1h0M308.0 1166.3h0M368.3 1141.1h0M667.1 957.0h0M529.7 1048.6h0M348.3 1145.6h0M434.0 1055.8h0M522.1 1059.4h0M519.6 1054.8h0M780.6 865.6h0M246.5 1220.7h0M768.3 931.7h0M734.6 929.1h0M580.3 1027.8h0M375.4 1138.0h0M578.1 1017.3h0M618.7 1023.3h0M279.7 1208.8h0M746.7 907.6h0M482.2 1057.7h0M376.4 1126.4h0M640.9 984.4h0M412.4 1114.0h0M637.6 995.3h0M422.0 1107.0h0M217.6 1224.8h0M522.0 1041.8h0M473.6 1091.9h0M245.0 1231.0h0M634.2 996.6h0M414.7 1116.2h0M535.1 1054.5h0M564.8 1016.8h0M441.2 1118.6h0M245.6 1214.7h0M647.0 976.3h0M603.4 1008.3h0M407.9 1111.5h0M494.3 1061.9h0M545.5 1038.1h0M446.1 1050.8h0M516.5 1049.6h0M273.1 1204.6h0M219.1 1219.1h0M470.7 1084.9h0M664.2 990.4h0M424.0 1081.5h0M466.5 1071.0h0M689.7 980.9h0M309.1 1171.8h0M597.6 1045.5h0M641.8 976.5h0M371.5 1133.3h0M458.9 1098.7h0M597.3 997.0h0M746.4 870.1h0M459.7 1101.4h0M487.4 1074.5h0M268.4 1195.5h0M715.1 932.5h0M395.0 1106.2h0M458.3 1077.2h0M641.2 983.1h0M503.7 1079.0h0M788.7 909.5h0M705.7 964.7h0M612.6 992.2h0M280.1 1185.8h0M481.7 1077.2h0M716.8 936.8h0M360.2 1149.2h0M620.6 978.6h0M496.4 1035.6h0M672.2 996.1h0M206.0 1232.7h0M777.5 907.5h0M450.8 1088.9h0M314.5 1161.9h0M410.0 1092.3h0M422.7 1136.7h0M225.3 1220.8h0M321.9 1157.4h0M666.4 963.1h0M660.5 948.8h0M482.9 1083.3h0M587.0 1023.3h0M457.2 1106.5h0M328.5 1146.6h0M424.6 1096.2h0M440.9 1105.3h0M717.9 926.2h0M314.6 1166.9h0M547.7 1044.9h0M551.6 1036.1h0M356.7 1149.4h0M753.5 926.2h0M728.4 950.5h0M672.6 939.7h0M733.9 912.2h0M368.0 1137.8h0M709.0 926.4h0M427.7 1127.1h0M311.5 1153.5h0M306.1 1178.2h0M399.7 1108.5h0M366.0 1135.4h0M403.6 1114.8h0M703.7 929.0h0M379.9 1150.6h0M355.0 1129.5h0M518.6 1045.8h0M747.1 926.2h0M612.5 1002.7h0M488.8 1069.8h0M347.8 1148.0h0M648.9 983.9h0M483.6 1045.8h0M206.2 1227.3h0M246.4 1211.3h0M336.0 1144.3h0M497.0 1068.7h0M387.7 1132.1h0M304.3 1169.0h0M531.0 1054.0h0M475.1 1094.1h0M404.8 1117.1h0M381.4 1144.5h0M415.5 1123.7h0M548.8 1027.0h0M305.7 1173.1h0M423.5 1115.4h0M505.7 1060.0h0M518.2 1030.8h0M634.1 987.0h0M504.1 1045.5h0M451.2 1086.5h0M337.0 1178.5h0M416.9 1110.2h0M308.7 1170.8h0M634.8 982.2h0M369.3 1124.7h0M646.8 994.4h0M603.4 1014.0h0M652.2 987.1h0M608.8 947.9h0M165.8 1245.9h0M399.5 1135.9h0M677.9 960.7h0M223.9 1206.0h0M211.6 1218.8h0M482.0 1070.3h0M637.8 990.1h0M327.6 1161.3h0M507.1 1062.9h0M449.0 1114.6h0M500.5 1084.8h0M585.8 1020.5h0M311.1 1164.3h0M722.7 944.2h0M472.5 1093.7h0M242.0 1207.6h0M399.2 1110.6h0M644.6 1004.7h0M386.1 1107.3h0M204.2 1238.4h0M289.0 1210.2h0M530.8 1078.5h0M629.3 992.8h0M647.7 987.6h0M777.6 888.1h0M591.8 1005.0h0M420.6 1108.6h0M609.1 1009.2h0M331.6 1161.4h0M381.9 1131.3h0M373.8 1142.0h0M575.1 1040.1h0M456.0 1080.8h0M412.5 1112.6h0M785.9 896.4h0M334.5 1153.0h0M533.6 1020.5h0M705.5 956.5h0M322.0 1151.1h0M694.0 930.3h0M670.1 960.8h0M579.5 1054.3h0M350.0 1149.7h0M555.7 1032.8h0M208.6 1223.7h0M386.7 1140.2h0M458.7 1080.4h0M631.9 1027.4h0M370.5 1131.0h0M746.7 914.4h0M454.8 1075.6h0M164.0 1273.6h0M338.6 1149.5h0M672.6 975.8h0M285.0 1206.2h0M202.2 1224.9h0M384.3 1177.9h0M524.9 1073.9h0M232.3 1229.7h0M607.3 985.1h0M448.4 1091.8h0M323.8 1172.7h0M313.5 1175.3h0M507.0 1054.9h0M445.4 1086.0h0M650.2 977.7h0M668.0 950.7h0M252.6 1210.9h0M706.9 947.3h0M689.1 944.0h0M716.7 981.6h0M666.8 964.4h0M571.4 1025.0h0M670.0 976.2h0M555.5 1038.0h0M553.1 1058.5h0M278.6 1185.0h0M605.9 983.9h0M510.9 1070.0h0M300.8 1180.5h0M228.6 1226.8h0M775.5 889.0h0M207.3 1215.6h0M650.8 990.0h0M548.6 1033.0h0M342.0 1183.6h0M320.5 1193.9h0M766.9 908.7h0M566.9 1010.5h0M667.6 1002.1h0M607.8 1002.7h0M486.3 1063.0h0M305.5 1178.5h0M791.0 872.9h0M411.5 1112.9h0M605.5 996.6h0M355.3 1155.4h0M607.1 990.4h0M215.9 1216.0h0M575.9 1016.2h0M422.5 1081.3h0M684.2 936.0h0M396.1 1129.7h0M778.9 893.1h0M737.5 906.3h0M305.6 1195.2h0M239.3 1213.9h0M445.4 1077.6h0M624.7 980.7h0M210.3 1222.3h0M686.1 933.0h0M737.8 945.7h0M166.0 1246.0h0M305.7 1170.2h0M276.1 1195.7h0M565.9 1051.1h0M341.3 1153.1h0M647.0 989.5h0M210.1 1236.0h0M445.9 1083.7h0M473.0 1054.4h0M695.1 958.5h0M251.5 1213.4h0M460.2 1082.9h0M445.4 1084.9h0M377.7 1126.4h0M418.3 1113.5h0M406.5 1119.7h0M328.1 1146.9h0M613.4 971.8h0M473.8 1058.0h0M676.7 981.8h0M716.7 914.4h0M212.1 1228.9h0M184.1 1269.8h0M569.0 1005.6h0M523.8 1040.6h0M335.5 1163.7h0M205.2 1229.4h0M715.7 938.1h0M493.7 1059.2h0M333.9 1147.5h0M386.8 1125.0h0M302.0 1191.8h0M430.3 1100.6h0M432.3 1109.2h0M188.9 1233.9h0M673.5 974.9h0M290.1 1190.9h0M472.0 1080.4h0M288.0 1174.9h0M604.3 984.4h0M356.9 1116.2h0M317.5 1180.6h0M720.2 925.5h0M655.9 1002.9h0M737.6 913.3h0M455.8 1088.4h0M337.4 1153.2h0M674.2 960.5h0M286.9 1199.9h0M691.6 953.2h0M598.3 988.9h0M509.5 1042.6h0M305.8 1183.0h0M688.9 932.1h0M680.9 958.7h0M569.1 979.1h0M213.1 1225.6h0M322.3 1171.4h0M525.9 1038.0h0M789.8 884.1h0M312.7 1183.2h0M219.3 1221.3h0M388.7 1149.1h0M453.9 1073.9h0M400.9 1135.7h0M485.2 1112.8h0M414.3 1074.5h0M381.8 1137.8h0M232.2 1218.4h0M760.5 913.4h0M584.5 1020.8h0M546.6 1047.6h0M288.3 1166.5h0M403.3 1119.7h0M578.6 1021.2h0M364.8 1127.5h0M501.7 1079.2h0M706.9 946.8h0M561.4 1008.2h0M384.2 1126.6h0M477.1 1066.5h0M708.9 907.3h0M299.2 1180.6h0M288.2 1150.6h0M622.4 1020.0h0M580.3 1016.6h0M499.8 1052.0h0M568.4 1049.4h0M289.8 1152.9h0M382.2 1134.6h0M625.1 965.0h0M745.4 917.0h0M537.8 1028.2h0M566.0 1048.9h0M741.1 923.0h0M190.8 1246.4h0M324.6 1170.8h0M642.1 986.3h0M622.6 989.1h0M173.1 1253.6h0M528.3 1057.7h0M337.4 1142.7h0M413.7 1112.5h0M393.3 1112.1h0M570.3 1013.0h0M763.7 907.3h0M455.8 1111.5h0M480.6 1064.1h0M754.2 900.2h0M523.5 1037.5h0M310.1 1185.2h0M690.8 944.1h0M364.6 1151.6h0M226.5 1221.0h0M396.2 1138.7h0M423.0 1092.7h0M659.9 964.1h0M347.5 1149.2h0M535.0 1026.9h0M402.5 1138.9h0M492.8 1023.9h0M301.2 1175.1h0M345.2 1145.3h0M465.3 1074.3h0M689.5 935.0h0M337.8 1175.5h0M296.9 1155.1h0M263.0 1192.7h0M631.6 979.9h0M415.6 1093.8h0M427.4 1095.3h0M278.5 1184.3h0M476.6 1084.2h0M394.1 1119.7h0M228.2 1228.0h0M558.2 1041.6h0M452.8 1120.0h0M401.8 1130.4h0M277.0 1178.2h0M473.4 1069.1h0M234.6 1209.5h0M394.0 1131.4h0M418.1 1132.2h0M208.4 1231.7h0M513.3 1046.4h0M616.0 1023.8h0M204.5 1236.1h0M625.9 982.5h0M373.9 1124.9h0M781.0 913.3h0M621.0 989.1h0M205.2 1249.7h0M529.5 1035.6h0M264.1 1180.4h0M480.3 1036.0h0M195.8 1240.5h0M610.5 993.1h0M595.2 1006.9h0M462.4 1095.6h0M341.4 1152.7h0M246.8 1208.7h0M488.7 1074.0h0M514.9 1055.6h0M202.8 1227.1h0M489.0 1056.6h0M291.0 1185.8h0M553.1 1033.4h0M329.3 1134.6h0M759.0 905.0h0M682.2 955.8h0M529.9 1067.5h0M664.0 986.9h0M226.4 1227.9h0M462.4 1095.6h0M335.0 1139.4h0M410.5 1111.2h0M462.2 1087.2h0M313.8 1172.0h0M576.8 1023.6h0M739.9 927.3h0M260.1 1192.2h0M535.8 1022.3h0M289.0 1198.2h0M714.9 958.6h0M291.0 1178.6h0M671.6 975.1h0M444.7 1087.7h0M495.7 1068.0h0M312.6 1137.7h0M320.3 1188.5h0M427.0 1127.9h0M515.5 1060.7h0M362.4 1154.7h0M776.9 894.0h0M598.7 1002.6h0M379.2 1136.8h0M400.6 1122.6h0M484.2 1096.6h0M715.1 967.1h0M466.8 1058.6h0M369.1 1151.6h0M571.3 1038.4h0M325.3 1150.5h0M608.7 1007.9h0M189.5 1236.0h0M279.0 1200.0h0M744.6 928.4h0M302.0 1178.0h0M709.7 981.5h0M675.4 962.6h0M580.5 1016.1h0M685.0 948.0h0M644.6 979.4h0M331.8 1151.0h0M621.0 986.7h0M618.8 990.7h0M399.1 1135.4h0M712.3 969.7h0M440.7 1109.7h0M375.3 1130.6h0M163.7 1263.1h0M449.1 1092.1h0M297.0 1161.4h0M402.6 1107.5h0M358.9 1145.7h0M365.9 1135.6h0M574.6 1037.4h0M673.0 899.5h0M319.8 1184.3h0M635.7 998.3h0M683.4 959.8h0M491.9 1055.6h0M331.6 1149.9h0M556.5 1040.8h0M615.0 995.1h0M674.3 939.4h0M260.3 1203.7h0M622.0 989.8h0M454.8 1100.9h0M384.7 1128.3h0M370.4 1151.2h0M345.2 1133.4h0M442.6 1090.9h0M204.2 1230.2h0M436.8 1090.3h0M330.1 1151.0h0M551.0 1052.8h0M468.0 1101.3h0M243.7 1186.8h0M713.0 957.9h0M245.8 1208.4h0M507.5 1068.7h0M435.6 1103.3h0M702.6 967.5h0M407.7 1118.7h0M419.6 1109.2h0M646.7 958.6h0M281.6 1197.8h0M273.0 1182.3h0M367.8 1140.2h0M744.4 950.0h0M381.0 1138.5h0M716.9 973.8h0M535.8 1024.2h0M366.0 1136.4h0M449.9 1089.7h0M555.7 1058.1h0M278.8 1198.2h0M474.0 1080.6h0M291.2 1168.2h0M470.2 1065.5h0M521.7 1056.2h0M305.7 1177.8h0M452.1 1089.8h0M356.1 1145.9h0M599.8 1024.5h0M568.1 1018.7h0M277.8 1191.6h0M508.2 1064.5h0M406.7 1120.8h0M363.5 1130.9h0M464.8 1082.2h0M191.8 1237.1h0M461.0 1091.0h0M406.6 1134.2h0M537.4 1030.1h0M582.9 1001.1h0M752.0 940.5h0M446.4 1079.2h0M441.1 1079.2h0M659.7 983.1h0M283.8 1187.6h0M291.3 1193.0h0M521.6 1051.7h0M316.2 1165.8h0M650.0 985.8h0M605.5 1007.9h0M408.9 1101.8h0M525.5 1047.3h0M490.5 1005.5h0M246.9 1177.6h0M618.3 1029.6h0M582.9 1021.3h0M546.9 1027.2h0M350.8 1163.6h0M383.6 1129.5h0M581.0 1017.1h0M411.3 1116.4h0M737.1 923.2h0M462.5 1085.6h0M422.0 1102.6h0M180.6 1237.4h0M743.4 914.2h0M507.0 1044.7h0M267.0 1220.7h0M601.4 1001.4h0M734.4 934.7h0M669.6 983.2h0M295.4 1149.7h0M317.0 1181.5h0M655.1 959.8h0M520.3 1046.6h0M765.7 890.2h0M615.4 985.9h0M420.9 1112.6h0M547.8 1062.4h0M423.8 1079.9h0M486.2 1038.6h0M448.7 1095.3h0M359.5 1139.1h0M341.8 1153.4h0M612.3 991.3h0M443.0 1097.9h0M573.3 1038.6h0M466.1 1088.1h0M465.8 1096.3h0M302.0 1178.7h0M190.8 1229.3h0M494.3 1065.5h0M336.9 1150.9h0M714.1 941.9h0M314.3 1143.0h0M573.8 1020.7h0M242.8 1202.1h0M372.0 1139.8h0M162.5 1256.3h0M695.9 967.7h0M290.1 1190.5h0M719.2 908.5h0M684.9 973.0h0M542.1 1004.0h0M421.7 1094.0h0M495.6 1067.9h0M223.9 1227.3h0M304.4 1174.1h0M214.2 1239.7h0M764.1 942.5h0M210.8 1230.2h0M693.1 943.6h0M235.1 1223.3h0M451.0 1092.4h0M707.2 938.6h0M556.5 1009.6h0M632.1 987.9h0M369.4 1159.8h0M216.4 1223.5h0M481.4 1089.9h0M513.8 1055.1h0M540.0 1041.9h0M405.9 1102.0h0M655.9 966.0h0M478.8 1096.6h0M309.2 1159.5h0M432.6 1093.1h0M499.4 1068.1h0M276.4 1180.9h0M225.1 1213.6h0M186.8 1258.2h0M575.1 1008.4h0M230.8 1198.4h0M610.0 973.6h0M580.9 1016.6h0M637.5 966.2h0M530.5 1045.4h0M550.3 1025.8h0M360.1 1149.8h0M578.4 1040.1h0M162.3 1246.3h0M620.5 984.4h0M274.0 1195.8h0M382.4 1130.5h0M555.1 1010.8h0M745.8 911.7h0M242.6 1222.1h0M610.4 974.6h0M485.5 1069.4h0M743.0 920.8h0M335.3 1165.9h0M343.8 1155.3h0M195.6 1233.4h0M233.4 1208.0h0M624.9 958.3h0M654.8 987.4h0M482.3 1066.6h0M403.0 1110.4h0M367.8 1147.5h0M543.7 1062.2h0M778.4 934.6h0M592.3 1009.6h0M513.4 1034.5h0M287.7 1169.6h0M589.8 1013.6h0M749.9 915.0h0M664.1 964.2h0M593.6 1022.1h0M449.4 1081.5h0M431.4 1095.2h0M677.7 979.8h0M543.7 1022.0h0M434.9 1103.3h0M510.9 1053.0h0M337.2 1132.1h0M338.5 1159.5h0M260.2 1194.1h0M363.1 1144.3h0M494.3 1077.1h0M532.8 1026.0h0M480.0 1075.5h0M312.5 1172.8h0M232.0 1230.4h0M476.3 1113.3h0M461.9 1087.8h0M621.0 985.2h0M675.0 968.0h0M274.3 1177.3h0M451.0 1088.5h0M731.9 922.7h0M348.3 1167.2h0M663.3 983.8h0M432.2 1101.2h0M583.1 1027.2h0M656.0 961.6h0M685.0 955.9h0M695.2 954.5h0M653.8 969.1h0M532.0 1063.5h0M782.9 920.1h0M317.7 1157.9h0M279.8 1190.9h0M553.3 1024.1h0M366.9 1135.7h0M372.3 1138.3h0M770.9 916.3h0M364.6 1136.6h0M583.5 1023.7h0M707.8 947.4h0M657.1 987.1h0M697.5 940.7h0M423.3 1118.9h0M584.5 1014.1h0M656.1 967.6h0M285.9 1185.8h0M720.0 953.3h0M340.5 1152.8h0M625.7 978.6h0M390.3 1135.5h0M446.2 1097.3h0M264.2 1175.9h0M429.9 1100.7h0M662.6 967.8h0M698.5 951.4h0M559.9 1028.6h0M660.4 968.6h0M290.4 1171.2h0M592.1 1004.8h0M569.4 1033.7h0M770.2 917.1h0M411.9 1119.1h0M516.9 1024.1h0M510.4 1054.0h0M758.5 886.4h0M663.7 952.2h0M227.2 1220.5h0M291.3 1185.8h0M754.0 901.2h0M338.7 1146.4h0M440.7 1063.1h0M520.1 1042.7h0M737.9 896.2h0M650.8 967.2h0M347.7 1160.9h0M450.2 1084.9h0M794.3 872.1h0M330.8 1143.6h0M323.8 1169.5h0M423.9 1105.4h0M775.6 914.8h0M298.3 1178.9h0M620.1 954.6h0M328.6 1146.4h0M368.4 1146.4h0M682.3 1001.3h0M592.9 1036.1h0M659.6 958.0h0M484.0 1061.8h0M557.0 1050.1h0M544.5 1037.3h0M575.8 1012.5h0M713.5 909.0h0M352.5 1137.4h0M627.2 960.5h0M370.3 1138.4h0M548.0 1050.4h0M442.6 1075.5h0M350.7 1138.1h0M339.1 1143.7h0M403.8 1142.0h0M552.5 1033.7h0M552.5 1035.5h0M465.4 1097.5h0M572.7 1008.6h0M373.9 1126.9h0M585.0 1031.8h0M271.2 1198.5h0M239.1 1226.8h0M178.4 1253.3h0M563.6 1017.8h0M699.6 964.3h0M696.9 932.3h0M518.2 1035.4h0M693.7 918.3h0M448.0 1089.7h0M420.8 1094.4h0M352.0 1142.4h0M444.7 1107.0h0M508.7 1048.8h0M586.3 999.1h0M366.2 1137.7h0M700.4 952.3h0M618.4 981.0h0M209.3 1230.9h0M520.1 1057.9h0M763.1 923.3h0M244.4 1202.0h0M704.6 976.7h0M244.5 1190.3h0M498.9 1038.9h0M401.0 1116.8h0M307.3 1173.9h0M614.4 978.2h0M693.5 956.2h0M260.0 1208.6h0M768.2 913.9h0M276.9 1188.7h0M526.1 1050.6h0M339.6 1164.5h0M651.7 977.8h0M300.8 1181.8h0M606.1 991.5h0M553.3 1043.2h0M318.2 1168.1h0M474.1 1075.1h0M771.3 929.8h0M738.5 925.1h0M377.5 1160.2h0M604.4 1025.9h0M758.8 907.7h0M665.6 966.2h0M458.3 1108.0h0M512.6 1064.8h0M548.8 1031.9h0M246.4 1221.3h0M494.6 1063.1h0M559.4 1032.5h0M359.1 1115.6h0M781.1 907.8h0M420.9 1092.3h0M528.8 1029.4h0M285.9 1181.1h0M168.3 1257.3h0M323.1 1176.0h0M404.1 1109.7h0M342.2 1149.6h0M728.3 931.8h0M540.0 1044.3h0M452.0 1085.1h0M557.9 1046.8h0M347.3 1151.6h0M535.2 1052.0h0M610.6 1020.2h0M774.9 897.4h0M702.8 928.8h0M539.4 1024.2h0M260.2 1199.8h0M384.7 1146.1h0M603.3 990.8h0M698.2 924.7h0M226.9 1222.8h0M231.7 1220.2h0M420.6 1102.4h0M729.2 900.7h0M702.3 960.3h0M209.8 1216.5h0M475.2 1081.6h0M681.4 916.3h0M501.4 1067.5h0M653.0 977.7h0M757.8 927.6h0M382.3 1111.4h0M785.8 882.8h0M485.5 1061.8h0M384.6 1130.9h0M407.3 1113.4h0M716.0 958.9h0M773.4 907.1h0M770.9 893.1h0M261.2 1209.3h0M611.2 1003.0h0M653.2 982.3h0M264.0 1196.7h0M633.3 979.5h0M761.7 921.4h0M204.2 1218.2h0M233.0 1231.3h0M313.7 1154.5h0M440.8 1079.6h0M612.2 998.3h0M608.8 986.8h0M214.8 1228.2h0M281.1 1186.5h0M636.1 988.2h0M435.5 1109.2h0M513.5 1024.4h0M258.9 1213.3h0M609.2 993.2h0M565.6 1034.7h0M354.9 1149.4h0M228.5 1206.4h0M486.8 1061.1h0M682.6 935.2h0M313.0 1161.7h0M630.4 971.4h0M476.7 1124.8h0M419.3 1122.6h0M565.6 1012.1h0M544.1 1038.5h0M427.9 1109.4h0M162.7 1260.6h0M368.4 1112.0h0M466.3 1073.9h0M495.8 1071.2h0M576.2 1010.4h0M326.6 1156.5h0M408.7 1122.6h0M502.5 1067.5h0M699.9 916.7h0M197.5 1238.0h0M706.1 943.3h0M392.9 1138.4h0M294.1 1188.4h0M476.2 1079.8h0M285.6 1197.9h0M577.3 1020.7h0M696.7 938.0h0M174.4 1233.3h0M465.9 1050.9h0M264.2 1194.7h0M426.5 1109.8h0M344.7 1141.9h0M449.0 1073.7h0M742.1 921.1h0M550.8 1023.3h0M535.7 1070.7h0M518.1 1044.4h0M775.7 914.0h0M219.3 1223.9h0M636.0 998.9h0M750.7 939.8h0M475.7 1059.6h0M587.9 1002.8h0M746.4 895.8h0M573.9 1030.2h0M650.9 996.6h0M613.6 1002.9h0M204.5 1233.9h0M445.9 1102.4h0M474.8 1087.5h0M434.8 1093.8h0M506.5 1057.2h0M392.8 1124.1h0M507.0 1041.2h0M198.9 1243.5h0M364.4 1145.4h0M443.7 1083.7h0M638.2 992.0h0M706.9 933.0h0M582.3 999.3h0M290.3 1183.6h0M394.0 1153.0h0M625.1 996.5h0M302.3 1178.8h0M697.8 936.2h0M451.7 1096.6h0M555.5 1018.9h0M330.8 1167.3h0M318.8 1141.8h0M270.1 1191.4h0M494.3 1079.5h0M274.6 1212.3h0M256.3 1217.5h0M299.7 1186.1h0M533.3 1038.0h0M402.8 1133.1h0M586.3 996.5h0M459.4 1110.9h0M472.6 1107.7h0M560.0 1013.0h0M561.3 1033.2h0M780.3 900.6h0M528.5 1075.4h0M253.6 1200.8h0M270.5 1198.7h0M666.8 948.1h0M439.2 1098.0h0M282.0 1192.6h0M459.2 1073.4h0M564.7 1013.2h0M302.9 1181.5h0M577.4 1022.9h0M297.0 1170.6h0M478.0 1075.5h0M335.5 1149.9h0M624.0 990.0h0M425.4 1086.7h0M298.3 1201.5h0M594.4 989.9h0M706.0 931.3h0M600.5 989.4h0M567.9 1012.6h0M390.8 1130.2h0M194.0 1235.8h0M364.2 1124.9h0M427.2 1099.6h0M258.2 1202.3h0M329.1 1157.9h0M434.6 1138.4h0M361.1 1142.2h0M366.1 1148.6h0M495.6 1060.6h0M552.1 1062.3h0M412.8 1096.9h0M350.9 1137.9h0M664.9 967.8h0M577.3 1032.3h0M362.4 1145.5h0M727.9 909.7h0M713.2 955.9h0M352.5 1133.2h0M526.1 1033.4h0M250.4 1207.2h0M598.4 992.6h0M219.1 1239.4h0M189.6 1231.1h0M560.3 1030.0h0M217.1 1234.9h0M764.6 876.3h0M169.3 1252.1h0M621.7 978.9h0M416.6 1118.8h0M359.8 1133.1h0M718.5 950.8h0M553.2 1038.2h0M542.0 1006.6h0M296.6 1180.3h0M417.5 1110.5h0M696.8 949.1h0M605.2 1023.6h0M685.2 933.2h0M780.4 888.6h0M335.6 1153.7h0M704.6 949.8h0M185.9 1252.7h0M325.0 1161.0h0M615.8 1001.2h0M700.0 932.8h0M464.4 1087.8h0M706.1 919.5h0M302.3 1183.5h0M664.7 955.1h0M639.3 981.3h0M586.4 1009.6h0M453.8 1081.3h0M421.8 1105.9h0M202.9 1228.4h0M186.6 1239.8h0M389.1 1127.3h0M444.1 1096.1h0M472.9 1074.6h0M228.6 1206.4h0M642.2 952.8h0M510.4 1058.2h0M204.9 1213.5h0M180.8 1237.1h0M338.0 1162.0h0M456.5 1088.5h0M586.5 1012.5h0M600.1 996.3h0M651.1 971.9h0M642.2 935.2h0M560.0 1026.0h0M646.0 967.3h0M453.1 1108.1h0M467.0 1074.2h0M773.3 925.9h0M328.4 1166.0h0M587.0 1019.0h0M653.4 939.1h0M253.8 1200.4h0M723.5 947.3h0M296.0 1189.9h0M396.7 1114.2h0M180.8 1227.1h0M469.0 1076.3h0M280.2 1184.1h0M623.8 975.5h0M231.3 1224.5h0M222.7 1231.5h0M434.3 1101.6h0M668.8 975.9h0M222.8 1220.6h0M433.3 1078.8h0M632.8 988.5h0M579.2 1019.8h0M292.5 1203.1h0M416.5 1120.7h0M687.4 942.8h0M719.9 964.8h0M488.4 1063.5h0M612.5 981.3h0M442.3 1082.7h0M280.1 1187.9h0M275.8 1161.2h0M669.5 967.3h0M753.8 922.5h0M438.8 1063.3h0M569.1 1003.2h0M532.7 1045.7h0M478.9 1090.4h0M635.2 999.2h0M371.2 1152.2h0M255.8 1198.1h0M754.0 922.9h0M465.1 1064.1h0M747.9 911.6h0M622.0 990.5h0M378.7 1145.2h0M287.6 1178.6h0M600.2 1017.6h0M497.3 1117.8h0M633.5 1003.3h0M572.3 1007.2h0M268.9 1182.0h0M588.2 1007.7h0M791.0 878.2h0M693.4 927.3h0M639.5 999.1h0M515.6 1051.8h0M565.2 1013.5h0M539.8 1047.1h0M456.0 1070.1h0M207.9 1237.4h0M573.6 992.0h0M423.0 1092.9h0M449.6 1101.8h0M304.1 1165.3h0M374.3 1140.4h0M359.6 1150.4h0M247.4 1203.5h0M646.6 990.5h0M780.4 888.3h0M733.5 906.8h0M652.0 962.5h0M656.8 980.4h0M503.0 1073.7h0M429.1 1092.7h0M352.7 1110.4h0M565.0 1034.9h0M249.5 1213.9h0M656.0 960.6h0M589.2 1012.6h0M485.9 1074.8h0M527.5 1041.9h0M483.1 1074.3h0M703.5 925.0h0M400.4 1140.6h0M740.8 920.3h0M283.3 1183.0h0M603.2 1008.0h0M532.0 1058.8h0M763.9 921.7h0M352.8 1157.2h0M644.1 973.2h0M676.7 932.3h0M754.4 909.4h0M754.5 913.5h0M295.2 1177.2h0M522.5 1032.9h0M593.0 1024.8h0M317.4 1176.9h0M317.8 1176.0h0M525.2 1032.3h0M423.6 1102.9h0M762.4 882.4h0M464.9 1062.3h0M552.9 1035.6h0M382.7 1142.6h0M597.3 1013.0h0M771.8 932.2h0M694.8 955.8h0M655.6 988.8h0M324.5 1162.3h0M658.3 971.9h0M305.8 1162.1h0M204.4 1235.9h0M515.4 1058.6h0M457.4 1070.9h0M496.6 1076.5h0M518.5 1062.6h0M464.2 1098.2h0M301.2 1171.8h0M338.9 1173.0h0M285.0 1188.8h0M502.6 1052.4h0M394.9 1132.5h0M570.7 1049.5h0M519.3 1063.5h0M615.7 1025.0h0M454.4 1078.1h0M731.2 926.7h0M181.2 1265.0h0M694.6 933.4h0M289.9 1173.0h0M416.6 1100.5h0M410.3 1121.7h0M261.2 1214.5h0M538.9 1023.6h0M344.1 1131.3h0M453.2 1078.1h0M410.0 1133.6h0M385.0 1137.5h0M372.8 1106.2h0M426.5 1107.5h0M500.6 1041.4h0M347.9 1177.5h0M462.0 1068.2h0M544.7 1008.5h0M357.4 1138.4h0M283.7 1166.3h0M632.5 981.4h0M346.1 1164.6h0M478.6 1075.4h0M298.2 1162.0h0M402.1 1109.0h0M465.7 1086.6h0M535.0 1039.7h0M403.8 1120.8h0M216.5 1230.1h0M532.5 1044.7h0M623.7 979.9h0M548.6 1050.8h0M272.7 1189.5h0M631.8 991.8h0M583.8 1034.3h0M405.8 1069.0h0M287.1 1213.7h0M470.6 1049.6h0M566.6 1028.4h0M248.2 1196.1h0M182.1 1246.7h0M700.6 948.4h0M578.8 1035.6h0M443.1 1092.8h0M514.1 1053.4h0M324.5 1169.1h0M682.7 970.1h0M202.1 1231.2h0M259.9 1208.6h0M590.2 987.3h0M606.4 1013.7h0M479.1 1068.1h0M419.5 1122.1h0M280.1 1194.6h0M531.0 1035.9h0M545.3 1028.2h0M297.7 1184.2h0M409.4 1109.8h0M334.1 1155.1h0M498.7 1034.7h0M675.9 948.3h0M435.3 1096.0h0M599.3 1007.6h0M318.3 1184.7h0M477.9 1071.1h0M604.4 1007.3h0M412.6 1090.2h0M203.9 1240.2h0M589.4 1014.3h0M596.1 1006.2h0M288.6 1186.7h0M664.1 976.2h0M430.0 1104.1h0M398.8 1127.2h0M178.0 1248.6h0M367.3 1140.7h0M604.5 1006.4h0M437.0 1116.3h0M786.9 889.6h0M278.8 1185.9h0M513.4 1046.6h0M602.2 982.5h0M372.9 1160.7h0M718.9 946.5h0M526.4 1045.0h0M256.4 1219.8h0M396.8 1124.1h0M500.9 1042.1h0M326.3 1163.7h0M375.1 1121.5h0M656.4 991.5h0M644.1 993.7h0M364.4 1139.1h0M540.8 1030.1h0M214.6 1239.9h0M421.0 1111.1h0M666.7 971.1h0M362.5 1143.1h0M441.3 1085.0h0M397.9 1126.2h0M446.2 1087.1h0M287.2 1168.6h0M415.6 1097.3h0M281.2 1193.2h0M661.9 977.8h0M735.8 923.2h0M347.1 1134.3h0M519.3 1067.0h0M427.7 1103.7h0M496.0 1064.3h0M775.3 896.9h0M551.1 1020.9h0M688.6 1014.7h0M550.0 1010.6h0M287.3 1183.7h0M712.9 921.1h0M486.4 1067.8h0M764.8 904.1h0M485.3 1057.2h0M691.1 947.7h0M531.1 1031.1h0M263.5 1191.3h0M361.6 1125.6h0M328.3 1161.0h0M353.9 1168.1h0M630.2 994.1h0M740.5 925.9h0M388.3 1106.3h0M535.1 1060.1h0M343.6 1159.1h0M630.9 974.2h0M279.7 1179.4h0M670.6 947.1h0M421.5 1110.0h0M416.0 1103.4h0M340.5 1170.3h0M480.6 1075.3h0M411.5 1094.9h0M380.6 1127.6h0M282.2 1181.5h0M430.5 1102.0h0M524.6 1068.4h0M721.4 920.7h0M542.7 1038.4h0M302.1 1166.4h0M252.3 1207.7h0M435.7 1097.7h0M204.8 1219.1h0M481.7 1061.6h0M433.4 1109.4h0M282.7 1185.3h0M400.9 1112.3h0M543.2 1009.0h0M405.7 1120.1h0M749.0 901.0h0M448.1 1050.9h0M516.7 1056.0h0M331.1 1156.6h0M532.2 1044.2h0M678.6 978.4h0M585.2 1032.0h0M445.2 1085.3h0M431.4 1105.1h0M165.7 1245.9h0M630.4 985.8h0M449.7 1081.1h0M292.3 1182.3h0M719.3 945.5h0M555.5 1022.1h0M637.5 977.9h0M296.7 1182.1h0M559.7 1015.8h0M650.3 967.8h0M592.3 1018.2h0M439.5 1107.5h0M695.8 947.7h0M200.9 1222.1h0M502.7 1038.9h0M556.7 1038.4h0M400.1 1125.8h0M757.7 903.1h0M367.7 1135.4h0M308.7 1160.9h0M331.6 1163.5h0M729.9 942.2h0M508.5 1075.2h0M406.4 1142.5h0M540.2 1038.9h0M601.0 1000.5h0M597.7 996.1h0M436.2 1101.7h0M427.4 1110.9h0M602.5 1008.8h0M495.7 1068.3h0M354.9 1152.6h0M536.8 1040.6h0M757.6 890.0h0M575.0 1003.5h0M671.2 962.9h0M721.9 909.4h0M476.9 1079.0h0M446.3 1104.4h0M675.3 965.7h0M314.2 1156.4h0M258.7 1203.0h0M341.6 1157.2h0M755.2 965.9h0M385.9 1117.6h0M324.4 1166.2h0M621.7 963.2h0M277.0 1203.0h0M282.8 1182.2h0M498.0 1072.7h0M189.8 1240.5h0M688.8 937.8h0M470.8 1070.0h0M551.4 1032.6h0M226.1 1221.3h0M761.4 889.5h0M625.4 979.1h0M521.9 1056.0h0M351.7 1127.4h0M795.0 881.6h0M319.4 1161.1h0M463.0 1084.5h0M557.3 994.5h0M329.0 1157.9h0M565.3 1035.0h0M354.6 1131.2h0M205.1 1239.5h0M713.0 936.6h0M190.5 1226.6h0M215.5 1205.6h0M512.2 1063.9h0M266.5 1215.0h0M539.6 1036.3h0M468.6 1079.7h0M496.2 1084.2h0M475.9 1073.3h0M390.1 1124.6h0M768.7 920.9h0M512.5 1035.7h0M488.9 1057.8h0M520.5 1050.0h0M588.6 995.6h0M542.0 1022.7h0M562.9 1008.0h0M364.0 1141.2h0M202.1 1245.8h0M774.5 916.6h0M367.9 1148.0h0M275.4 1195.9h0M594.8 1003.8h0M759.3 937.5h0M406.3 1102.6h0M468.7 1057.3h0M453.1 1080.8h0M411.1 1109.3h0M543.6 1028.0h0M568.5 1030.4h0M748.5 897.2h0M465.8 1091.0h0M237.3 1209.3h0M267.9 1200.4h0M414.7 1100.6h0M568.2 1041.4h0M334.9 1145.0h0M373.6 1144.8h0M727.5 910.2h0M190.6 1224.0h0M688.2 945.0h0M205.7 1226.2h0M787.3 926.7h0M542.1 1050.2h0M506.0 1069.0h0M393.3 1143.0h0M394.5 1115.6h0M655.8 958.9h0M639.9 965.5h0M710.1 910.4h0M246.3 1198.9h0M479.0 1076.1h0M691.5 960.1h0M699.9 927.7h0M623.2 965.3h0M619.6 985.8h0M182.0 1246.9h0M251.6 1213.6h0M513.6 1046.7h0M368.5 1138.0h0M192.8 1229.2h0M455.5 1047.6h0M317.5 1168.4h0M300.7 1163.4h0M580.6 1019.3h0M541.9 1036.1h0M402.2 1110.8h0M708.5 917.4h0M284.5 1185.0h0M688.4 962.3h0M776.8 891.2h0M503.5 1067.8h0M275.6 1189.0h0M764.8 882.3h0M603.6 1006.3h0M787.2 876.7h0M422.8 1129.8h0M728.9 916.6h0M779.8 894.9h0M447.5 1071.6h0M373.9 1123.5h0M744.2 931.2h0M287.1 1189.9h0M512.5 1070.5h0M641.2 988.5h0M479.4 1075.3h0M445.7 1081.2h0M332.2 1149.8h0M712.8 938.8h0M731.9 918.0h0M483.6 1061.1h0M626.1 984.2h0M562.0 1019.7h0M559.0 1009.0h0M670.6 986.7h0M735.3 929.7h0M473.4 1099.4h0M451.1 1107.3h0M452.0 1119.9h0M657.7 925.8h0M234.3 1205.5h0M554.1 1032.6h0M321.7 1175.4h0M337.1 1156.1h0M340.5 1158.5h0M723.6 909.2h0M689.8 948.3h0M696.2 942.0h0M501.1 1092.3h0M588.8 1016.0h0M444.0 1102.0h0M751.4 934.1h0M298.1 1199.9h0M450.1 1092.7h0M387.8 1131.5h0M489.0 1035.7h0M646.7 980.5h0M696.9 949.0h0M477.4 1067.6h0M461.7 1069.0h0M436.9 1109.8h0M265.2 1203.3h0M589.7 993.4h0M488.2 1068.9h0M668.8 968.4h0M686.3 954.4h0M681.8 930.2h0M657.9 974.7h0M723.3 949.2h0M645.9 984.0h0M532.7 1041.1h0M229.2 1210.0h0M668.7 959.0h0M643.6 995.4h0M441.3 1094.3h0M579.2 1002.1h0M192.2 1242.1h0M350.0 1164.4h0M632.1 981.2h0M650.4 1021.3h0M584.9 1058.8h0M497.9 1072.9h0M223.1 1197.3h0M320.4 1162.3h0M723.5 913.2h0M285.1 1177.7h0M527.9 1042.6h0M731.3 941.8h0M676.0 979.9h0M597.4 991.3h0M213.2 1213.1h0M647.5 985.3h0M767.1 906.9h0M324.9 1158.8h0M325.8 1162.0h0M693.8 960.7h0M322.4 1160.6h0M391.2 1142.1h0M259.1 1199.6h0M242.8 1205.9h0M589.9 1003.1h0M624.5 977.2h0M358.3 1167.6h0M453.7 1080.9h0M438.7 1086.7h0M439.4 1110.7h0M384.2 1137.2h0M654.5 972.9h0M310.0 1180.8h0M354.0 1131.4h0M591.1 995.1h0M703.9 943.2h0M504.9 1098.6h0M398.8 1127.3h0M625.6 992.8h0M727.7 934.7h0M483.8 1065.6h0M572.8 1018.7h0M436.3 1081.0h0M573.4 999.3h0M691.3 904.9h0M341.0 1140.3h0M528.9 1052.2h0M247.4 1189.5h0M625.7 989.8h0M563.5 1020.6h0M550.5 1031.3h0M345.4 1171.9h0M691.0 937.3h0M567.7 1019.1h0M537.1 1022.4h0M430.3 1100.7h0M722.1 933.6h0M454.2 1089.8h0M460.7 1088.5h0M663.5 961.3h0M335.5 1162.6h0M235.3 1227.2h0M364.9 1140.5h0M728.9 948.7h0M398.5 1124.0h0M572.3 1003.5h0M476.4 1081.6h0M455.7 1084.6h0M440.1 1079.4h0M565.8 1048.6h0M260.9 1199.3h0M588.9 991.4h0M481.4 1065.5h0M368.9 1123.7h0M393.4 1108.9h0M404.8 1098.0h0M210.4 1247.5h0M602.6 1017.7h0M272.1 1202.5h0M678.2 977.0h0M517.1 1044.8h0M383.4 1134.3h0M413.2 1121.9h0M654.1 964.4h0M620.4 993.9h0M170.8 1265.0h0M312.8 1162.9h0M732.5 921.5h0M308.9 1166.7h0M342.6 1138.1h0M546.2 1067.3h0M763.8 922.0h0M521.6 1052.2h0M478.4 1103.2h0M426.7 1097.4h0M572.6 1023.7h0M307.7 1186.9h0M462.7 1089.8h0M744.7 917.5h0M354.4 1134.6h0M767.7 905.1h0M442.3 1102.5h0M666.2 961.9h0M592.5 1020.8h0M307.9 1174.0h0M711.1 932.9h0M634.8 976.3h0M352.6 1158.8h0M460.5 1072.0h0M642.0 986.5h0M473.7 1087.5h0M398.1 1125.1h0M460.5 1107.8h0M446.1 1109.2h0M584.2 1002.2h0M300.1 1182.0h0M573.0 1004.5h0M596.1 995.7h0M771.5 893.8h0M497.7 1083.3h0M760.6 899.2h0M620.2 1009.0h0M449.7 1105.4h0M504.9 1043.5h0M503.5 1075.8h0M623.9 993.1h0M589.3 1020.7h0M368.2 1157.8h0M320.5 1178.5h0M349.9 1140.9h0M658.3 958.9h0M489.4 1076.1h0M606.6 999.2h0M464.6 1066.6h0M236.8 1208.0h0M347.1 1141.2h0M434.5 1096.1h0M375.5 1135.8h0M678.1 918.9h0M778.8 884.0h0M651.5 983.5h0M544.6 1058.0h0M498.5 1071.8h0M598.2 1011.8h0M615.2 1000.5h0M455.0 1116.7h0M313.0 1157.1h0M670.0 909.8h0M182.7 1232.2h0M357.1 1156.2h0M253.8 1201.5h0M684.8 959.2h0M425.3 1113.5h0M281.1 1192.5h0M635.9 982.7h0M401.8 1119.4h0M245.2 1198.1h0M188.2 1239.1h0M586.7 1007.6h0M389.1 1125.2h0M331.2 1168.1h0M423.9 1089.3h0M436.2 1107.2h0M575.0 1028.3h0M247.1 1203.2h0M291.0 1180.9h0M292.1 1172.2h0M506.3 1064.9h0M709.1 934.0h0M654.0 965.1h0M635.1 998.4h0M749.5 917.2h0M669.3 967.3h0M516.0 1061.8h0M554.6 1044.5h0M359.3 1142.8h0M663.9 947.4h0M659.9 959.6h0M179.6 1273.5h0M678.7 947.8h0M701.7 945.0h0M623.5 982.6h0M628.2 980.3h0M278.8 1192.8h0M426.7 1103.7h0M373.6 1147.1h0M607.4 982.7h0M414.0 1143.9h0M343.6 1147.3h0M730.6 1013.8h0M448.9 1057.1h0M636.2 984.0h0M492.7 1048.1h0M697.6 969.1h0M635.7 993.6h0M765.5 928.2h0M739.9 937.0h0M394.1 1127.8h0M452.8 1090.6h0M635.5 974.2h0M200.7 1234.6h0M396.6 1130.5h0M190.1 1231.0h0M479.4 1069.9h0M199.8 1243.4h0M326.3 1154.8h0M328.9 1160.2h0M741.3 932.0h0M504.3 1068.5h0M282.7 1209.8h0M691.2 948.9h0M581.1 1006.1h0M301.9 1170.8h0M713.9 950.4h0M477.5 1081.7h0M401.4 1102.2h0M282.9 1172.3h0M324.3 1152.7h0M478.6 1074.2h0M516.5 1048.1h0M400.9 1130.5h0M354.9 1152.0h0M274.2 1198.9h0M517.9 1050.2h0M360.4 1133.4h0M343.7 1165.5h0M673.3 957.9h0M647.0 994.0h0M533.4 1020.8h0M503.3 1040.6h0M404.8 1136.2h0M451.6 1052.5h0M255.4 1211.2h0M575.4 1013.4h0M713.3 945.3h0M405.7 1156.0h0M346.9 1172.2h0M330.6 1176.8h0M253.9 1191.6h0M548.1 1046.0h0M542.8 1028.8h0M210.2 1231.7h0M679.9 910.3h0M676.0 943.9h0M382.5 1123.4h0M638.2 978.5h0M716.9 931.9h0M701.6 960.7h0M440.1 1098.5h0M391.5 1124.2h0M308.2 1164.8h0M639.1 997.7h0M646.3 986.8h0M268.7 1210.1h0M394.2 1113.9h0M292.6 1175.9h0M655.6 966.6h0M766.1 911.3h0M559.8 1031.8h0M449.7 1089.9h0M408.6 1094.9h0M481.9 1071.2h0M504.8 1092.9h0M380.9 1127.3h0M239.0 1194.7h0M735.2 920.7h0M375.3 1131.2h0M230.1 1214.6h0M702.7 936.1h0M625.9 975.5h0M434.9 1097.9h0M623.5 985.4h0M521.8 1059.7h0M368.6 1135.8h0M651.9 961.7h0M239.2 1202.4h0M534.1 1042.4h0M275.4 1186.8h0M690.6 931.2h0M255.1 1188.6h0M424.5 1111.0h0M701.8 961.6h0M381.7 1136.3h0M226.6 1219.6h0M419.8 1109.4h0M568.0 1029.7h0M358.5 1140.1h0M247.2 1191.4h0M169.5 1246.8h0M588.4 979.4h0M529.5 1036.8h0M490.1 1078.3h0M521.9 1047.8h0M483.0 1064.4h0M570.6 1025.5h0M440.0 1090.0h0M486.1 1074.8h0M444.7 1100.6h0M336.4 1148.2h0M386.3 1140.9h0M369.7 1129.0h0M593.8 1001.4h0M764.8 891.4h0M431.1 1104.2h0M175.9 1252.1h0M603.9 1007.3h0M172.3 1265.3h0M476.2 1073.4h0M395.6 1105.5h0M591.4 1012.2h0M329.7 1166.9h0M284.3 1194.5h0M286.4 1171.7h0M352.0 1152.1h0M332.3 1135.2h0M743.5 930.2h0M402.8 1106.9h0M599.1 1025.6h0M474.1 1077.6h0M343.7 1155.2h0M614.1 982.1h0M692.8 938.8h0M505.1 1063.2h0M505.4 1025.3h0M420.3 1096.2h0M528.9 1061.5h0M591.5 998.3h0M380.5 1149.3h0M572.9 1033.9h0M332.1 1155.2h0M440.4 1097.3h0M240.6 1216.9h0M722.5 925.7h0M732.9 961.0h0M555.4 1006.3h0M252.6 1211.1h0M584.8 1009.9h0M587.3 1024.7h0M506.3 1066.0h0M415.2 1114.8h0M743.8 916.0h0M381.3 1134.9h0M255.8 1220.0h0M424.1 1102.4h0M301.0 1173.4h0M241.8 1206.3h0M197.9 1239.6h0M238.5 1201.9h0M748.5 927.6h0M317.7 1163.3h0M288.4 1186.1h0M340.0 1131.7h0M763.5 885.2h0M668.0 962.2h0M537.5 1052.0h0M548.1 1050.7h0M460.6 1087.1h0M352.0 1129.1h0M613.0 972.0h0M309.4 1173.1h0M587.2 1022.8h0M590.7 1006.2h0M413.3 1125.7h0M509.8 1058.4h0M507.3 1052.9h0M550.4 1015.2h0M651.3 969.9h0M735.4 950.0h0M463.6 1092.8h0M520.6 1048.4h0M379.9 1152.9h0M353.9 1150.2h0M696.6 952.5h0M355.7 1140.1h0M331.1 1145.1h0M468.0 1071.6h0M725.9 932.3h0M238.0 1219.3h0M696.2 943.7h0M509.6 1059.6h0M683.9 969.0h0M766.9 915.6h0M661.9 1003.1h0M269.9 1190.7h0M479.3 1062.2h0M429.8 1111.6h0M695.6 958.9h0M430.1 1109.9h0M396.1 1122.0h0M605.3 991.2h0M379.4 1146.1h0M383.5 1127.6h0M374.8 1149.1h0M764.5 882.5h0M446.0 1090.4h0M400.2 1133.3h0M201.0 1239.5h0M588.5 1047.7h0M313.6 1178.2h0M432.0 1108.0h0M424.4 1096.1h0M711.8 928.5h0M658.5 951.5h0M506.1 1067.6h0M538.5 1047.9h0M732.5 941.8h0M358.3 1165.1h0M643.9 989.1h0M536.5 1051.4h0M538.7 1057.4h0M788.3 879.0h0M405.1 1126.8h0M438.4 1101.7h0M490.4 1083.7h0M717.0 936.0h0M574.9 1054.0h0M362.2 1143.1h0M309.9 1174.8h0M773.9 912.6h0M369.2 1139.6h0M779.4 881.3h0M682.8 932.6h0M680.8 992.7h0M573.8 1012.9h0M459.9 1112.9h0M234.9 1208.6h0M581.5 1020.4h0M307.5 1173.1h0M279.0 1161.9h0M419.2 1104.7h0M452.3 1090.7h0M784.8 889.5h0M614.5 1006.8h0M525.0 1052.8h0M542.4 1037.6h0M484.8 1076.9h0M449.2 1104.3h0M710.8 928.8h0M237.4 1206.9h0M679.3 938.6h0M452.6 1078.9h0M216.2 1245.4h0M598.7 1005.0h0M306.9 1181.1h0M404.4 1126.2h0M508.3 1058.6h0M443.8 1099.9h0M286.4 1188.8h0M500.3 1082.1h0M462.7 1081.6h0M354.9 1136.9h0M318.5 1163.7h0M604.7 1013.0h0M705.0 935.3h0M323.7 1157.3h0M319.3 1167.3h0M395.8 1123.4h0M483.1 1071.5h0M303.7 1172.7h0M559.4 1016.5h0M695.4 971.6h0M608.7 984.8h0M782.4 907.6h0M503.1 1053.7h0M322.9 1136.2h0M332.6 1146.7h0M355.5 1144.6h0M436.0 1087.4h0M436.4 1098.2h0M311.1 1175.2h0M309.0 1170.0h0M708.6 940.4h0M362.8 1135.3h0M555.5 1010.5h0M257.8 1228.6h0M417.6 1093.4h0M680.6 958.8h0M597.5 992.1h0M304.2 1172.1h0M597.0 984.6h0M382.3 1125.6h0M520.3 1037.0h0M259.5 1204.6h0M438.9 1096.1h0M608.1 989.9h0M298.8 1163.2h0M419.3 1105.7h0M589.4 997.7h0M519.9 1077.3h0M400.7 1107.8h0M602.3 976.1h0M350.7 1153.0h0M540.6 1047.4h0M421.5 1104.1h0M452.7 1082.0h0M417.7 1108.9h0M327.8 1174.0h0M309.5 1164.0h0M711.3 929.8h0M222.1 1217.2h0M344.9 1130.5h0M243.9 1218.7h0M357.7 1141.6h0M752.6 922.4h0M667.2 982.1h0M705.2 935.5h0M591.5 997.0h0M496.3 1063.0h0M687.8 1021.7h0M539.5 1038.2h0M475.6 1062.8h0M262.1 1189.4h0M491.3 1056.8h0M409.3 1118.6h0M387.5 1114.1h0M558.3 1025.4h0M741.8 925.5h0M519.5 1029.8h0M389.2 1110.2h0M534.2 1060.7h0M202.4 1226.6h0M277.4 1189.9h0M538.5 1045.6h0M401.9 1116.6h0M288.8 1178.3h0M336.7 1153.2h0M770.4 931.2h0M169.8 1261.5h0M253.3 1204.6h0M695.0 929.7h0M623.5 995.1h0M451.3 1075.8h0M186.5 1240.8h0M413.5 1113.7h0M544.7 1039.6h0M295.9 1191.2h0M211.1 1242.5h0M168.0 1249.7h0M540.4 1050.5h0M366.2 1128.6h0M227.5 1215.2h0M448.8 1089.2h0M535.8 1029.3h0M449.2 1099.6h0M506.1 1045.2h0M227.5 1222.3h0M521.1 1035.7h0M265.2 1189.0h0M646.4 976.4h0M738.1 948.0h0M285.6 1181.0h0M734.1 948.2h0M392.1 1117.5h0M670.8 976.1h0M705.7 961.6h0M592.8 990.7h0M442.8 1070.2h0M596.6 997.7h0M289.3 1188.6h0M336.9 1165.0h0M686.4 942.7h0M518.9 1039.5h0M658.4 963.8h0M177.6 1243.9h0M650.0 966.2h0M732.4 902.7h0M792.7 900.2h0M552.6 1035.7h0M453.1 1078.6h0M232.4 1205.1h0M311.2 1173.5h0M269.9 1188.8h0M375.2 1134.8h0M753.5 928.7h0M688.7 927.4h0M467.9 1089.5h0M348.4 1169.6h0M656.0 991.0h0M222.4 1249.2h0M658.6 952.3h0M323.6 1151.0h0M285.6 1172.6h0M403.0 1125.6h0M405.7 1090.8h0M697.5 950.3h0M354.1 1154.4h0M737.5 946.8h0M686.6 948.7h0M722.7 946.3h0M265.2 1204.9h0M556.5 1056.3h0M565.5 1048.2h0M514.4 1055.8h0M370.8 1134.2h0M207.3 1231.2h0M609.4 1001.4h0M621.1 1010.2h0M489.7 1064.7h0M530.1 1043.7h0M726.2 937.9h0M477.8 1075.7h0M463.8 1110.6h0M452.0 1070.2h0M715.6 939.7h0M660.9 944.8h0M499.9 1062.8h0M550.5 1037.1h0M503.8 1038.3h0M765.4 873.0h0M445.1 1105.7h0M371.8 1121.6h0M752.6 935.9h0M540.1 1044.1h0M544.4 1047.8h0M271.7 1196.8h0M730.3 943.6h0M216.7 1227.3h0M395.2 1118.4h0M507.5 1064.7h0M320.4 1161.3h0M402.6 1139.0h0M734.8 912.6h0M753.6 941.2h0M250.7 1207.4h0M565.7 1002.3h0M553.4 1041.2h0M422.7 1112.7h0M756.2 917.6h0M505.8 1054.7h0M608.1 1006.7h0M564.5 1045.6h0M644.7 980.5h0M437.9 1132.5h0M170.2 1247.2h0M163.1 1264.7h0M229.7 1222.2h0M595.3 1015.0h0M222.9 1215.4h0M585.3 1017.5h0M266.5 1195.2h0M777.2 915.1h0M258.7 1201.4h0M371.1 1158.5h0M392.0 1115.1h0M694.1 958.3h0M347.9 1139.5h0M576.6 1028.5h0M578.1 989.9h0M773.3 898.0h0M433.4 1105.1h0M447.2 1118.6h0M649.1 954.1h0M267.6 1190.8h0M588.9 1018.3h0M479.8 1079.6h0M700.4 936.6h0M470.9 1087.8h0M395.4 1121.6h0M468.3 1070.9h0M633.4 987.8h0M583.5 1006.8h0M444.6 1098.7h0M314.9 1170.2h0M540.5 1054.2h0M278.5 1184.9h0M573.1 990.6h0M492.9 1055.5h0M496.9 1073.4h0M238.5 1219.4h0M554.2 1037.0h0M500.1 1048.9h0M538.7 1065.2h0M683.9 944.4h0M410.2 1128.4h0M370.6 1147.1h0M351.2 1138.8h0M345.0 1151.8h0M786.8 893.6h0M483.6 1076.8h0M562.4 1034.3h0M428.2 1107.3h0M402.1 1115.0h0M291.0 1165.0h0M622.4 973.4h0M779.7 890.9h0M559.5 1042.9h0M765.2 891.5h0M330.5 1153.3h0M285.9 1182.5h0M793.1 863.4h0M580.5 1026.8h0M245.0 1216.6h0M235.5 1182.1h0M396.9 1133.9h0M180.8 1267.8h0M511.0 1043.8h0M480.6 1073.1h0M502.2 1058.6h0M354.2 1150.8h0M413.3 1115.1h0M560.8 1030.6h0M629.0 986.7h0M285.2 1179.8h0M357.9 1155.1h0M515.2 1053.2h0M250.2 1208.5h0M231.4 1198.8h0M654.0 999.7h0M791.6 894.7h0M347.6 1155.2h0M607.6 990.7h0M183.4 1236.2h0M309.1 1178.6h0M658.6 969.6h0M305.9 1174.9h0M657.4 1007.5h0M579.6 1016.3h0M498.4 1067.2h0M538.4 1045.2h0M430.9 1090.6h0M530.8 1066.1h0M233.9 1212.1h0M484.2 1042.8h0M422.8 1101.8h0M354.7 1141.9h0M248.4 1204.2h0M389.6 1133.8h0M621.0 979.6h0M726.7 943.2h0M632.8 991.9h0M529.3 1049.3h0M686.6 979.8h0M670.0 955.2h0M579.1 1046.5h0M374.5 1130.2h0M349.2 1140.8h0M685.7 921.4h0M268.7 1193.2h0M732.7 947.7h0M471.2 1079.6h0M541.3 1050.4h0M738.2 923.6h0M645.5 971.3h0M455.6 1079.6h0M599.1 1002.5h0M604.4 966.7h0M553.8 1020.5h0M534.8 1035.2h0M338.4 1153.9h0M594.1 1030.5h0M374.5 1139.1h0M565.0 997.4h0M437.3 1087.7h0M431.1 1084.8h0M378.7 1141.2h0M299.5 1180.7h0M540.8 1049.6h0M194.0 1241.7h0M415.6 1104.3h0M617.3 999.5h0M347.9 1142.8h0M493.6 1070.9h0M687.1 970.7h0M343.5 1128.5h0M358.0 1141.6h0M544.6 1017.0h0M359.1 1150.2h0M433.4 1107.8h0M443.4 1084.3h0M271.5 1203.0h0M593.9 1021.1h0M170.9 1265.6h0M697.0 951.6h0M205.1 1233.6h0M542.9 1046.0h0M436.0 1097.5h0M775.3 939.2h0M378.0 1144.7h0M744.5 941.8h0M206.7 1220.0h0M634.9 972.5h0M230.8 1215.0h0M333.8 1165.1h0M540.9 1051.5h0M233.1 1224.1h0M510.2 1066.6h0M569.6 1024.4h0M531.1 1043.2h0M695.7 976.9h0M624.6 1005.7h0M181.9 1261.7h0M770.2 908.1h0M686.2 951.9h0M732.5 899.5h0M245.9 1220.2h0M229.7 1217.2h0M497.8 1054.9h0M455.3 1067.0h0M706.8 938.0h0M317.2 1180.7h0M715.4 927.6h0M301.8 1166.3h0M373.7 1124.3h0M475.4 1072.5h0M230.6 1224.5h0M344.8 1164.7h0M455.3 1066.6h0M576.7 1021.2h0M188.9 1248.8h0M735.6 909.3h0M786.3 910.4h0M344.5 1140.5h0M519.3 1035.1h0M471.2 1067.2h0M659.4 960.6h0M758.3 911.6h0M596.1 999.2h0M584.2 1005.6h0M229.3 1213.9h0M375.1 1153.8h0M183.2 1233.7h0M555.6 1060.1h0M308.1 1167.1h0M625.2 1007.0h0M583.3 1051.1h0M511.6 1050.2h0M375.8 1129.2h0M531.2 1026.8h0M491.2 1048.7h0M190.7 1235.6h0M620.4 1028.9h0M750.4 915.8h0M581.9 1037.5h0M630.2 987.2h0M389.2 1160.3h0M501.9 1075.7h0M393.6 1138.5h0M537.8 1064.7h0M333.0 1159.2h0M429.7 1104.3h0M432.7 1090.7h0M770.7 896.6h0M469.0 1091.1h0M229.1 1219.1h0M498.5 1061.1h0M705.1 953.6h0M349.1 1148.0h0M600.7 995.2h0M289.1 1198.3h0M610.0 969.5h0M416.8 1120.5h0M517.6 1038.9h0M643.0 994.7h0M656.9 996.4h0M428.1 1099.4h0M181.2 1244.6h0M605.2 1001.6h0M456.8 1087.2h0M709.7 927.3h0M190.5 1234.0h0M638.0 979.8h0M417.4 1104.0h0M429.3 1111.1h0M347.6 1153.3h0M205.5 1234.5h0M745.4 924.2h0M549.4 1048.2h0M450.6 1119.7h0M479.0 1078.9h0M740.1 897.1h0M682.6 975.9h0M404.0 1112.1h0M226.4 1225.3h0M639.5 971.4h0M593.4 1011.0h0M552.6 1018.6h0M645.8 997.8h0M537.2 1025.2h0M514.3 1056.5h0M726.9 909.7h0M251.7 1221.7h0M547.1 1035.6h0M661.9 987.2h0M721.6 943.6h0M388.2 1133.8h0M167.7 1259.8h0M660.0 927.0h0M469.7 1090.4h0M346.2 1148.7h0M515.7 1035.9h0M470.8 1088.4h0M181.1 1252.8h0M546.4 1023.9h0M352.2 1161.6h0M722.6 966.0h0M751.8 921.2h0M531.6 1043.7h0M284.6 1203.0h0M775.7 857.9h0M584.2 1034.0h0M715.5 935.0h0M291.3 1209.5h0M654.3 962.4h0M397.0 1114.3h0M432.7 1132.3h0M271.1 1202.0h0M553.8 1048.4h0M763.0 891.2h0M246.4 1196.3h0M317.7 1160.0h0M555.4 1019.6h0M469.1 1089.7h0M368.5 1151.1h0M486.4 1076.6h0M464.7 1075.1h0M243.7 1194.7h0M472.9 1099.7h0M631.6 986.5h0M213.9 1214.2h0M278.2 1185.4h0M166.6 1253.9h0M274.1 1206.5h0M329.8 1172.9h0M224.6 1210.3h0M517.6 1024.7h0M538.9 1028.7h0M563.2 1024.9h0M334.9 1141.4h0M329.8 1154.0h0M426.9 1092.3h0M587.1 1027.2h0M404.0 1129.6h0M323.7 1170.0h0M426.6 1087.4h0M328.3 1151.0h0M412.5 1109.5h0M264.7 1194.3h0M556.7 1040.6h0M649.8 979.0h0M315.8 1180.1h0M316.3 1161.2h0M477.5 1076.4h0M607.3 1030.2h0M576.2 989.0h0M614.3 976.4h0M244.6 1211.8h0M263.7 1198.4h0M335.8 1162.7h0M662.9 945.8h0M392.4 1124.3h0M692.1 961.2h0M264.8 1201.0h0M372.6 1132.3h0M674.3 959.4h0M366.1 1140.2h0M422.7 1112.4h0M342.0 1161.7h0M496.3 1087.4h0M604.0 989.7h0M437.2 1089.2h0M433.4 1120.4h0M508.9 1044.3h0M707.6 949.0h0M514.1 1055.6h0M571.9 1006.2h0M706.9 939.7h0M351.8 1163.3h0M302.6 1179.9h0M672.0 965.1h0M362.8 1157.6h0M571.2 1036.5h0M434.0 1102.5h0M246.5 1215.3h0M306.0 1168.7h0M306.5 1173.7h0M345.0 1128.4h0M596.4 1005.2h0M519.6 1066.0h0M615.4 993.5h0M690.9 957.5h0M524.5 1049.6h0M427.0 1092.8h0M758.4 905.6h0M449.2 1096.1h0M273.9 1189.7h0M258.0 1192.3h0M574.1 1031.6h0M772.4 899.7h0M425.9 1084.3h0M703.5 926.7h0M576.4 996.3h0M406.6 1105.1h0M676.3 974.9h0M246.0 1224.1h0M408.2 1119.9h0M391.2 1143.4h0M596.0 1010.9h0M408.0 1119.5h0M366.5 1144.7h0M744.7 894.4h0M423.1 1097.6h0M553.0 1046.7h0M374.5 1131.1h0M567.5 1017.1h0M391.6 1131.9h0M352.3 1143.1h0M439.9 1097.0h0M645.6 961.1h0M495.6 1057.3h0M179.4 1251.7h0M556.5 1036.9h0M389.2 1094.5h0M500.5 1065.6h0M436.8 1086.9h0M247.9 1211.5h0M685.3 975.0h0M258.5 1209.7h0M787.9 888.9h0M469.8 1083.5h0M201.8 1226.5h0M601.6 1028.4h0M656.0 943.5h0M510.2 1043.0h0M623.2 1001.0h0M717.9 951.7h0M745.6 931.0h0M303.2 1176.1h0M263.8 1191.8h0M264.2 1199.7h0M353.7 1148.4h0M600.8 1002.4h0M647.2 960.7h0M772.0 912.2h0M667.0 954.2h0M308.7 1175.9h0M659.1 973.6h0M417.6 1114.9h0M746.0 912.4h0M544.0 1030.3h0M658.1 976.5h0M581.5 1000.6h0M525.0 1050.7h0M372.2 1127.4h0M449.6 1084.4h0M565.7 1028.7h0M400.8 1123.5h0M683.3 955.9h0M723.3 927.6h0M414.8 1096.9h0M460.7 1062.0h0M586.9 984.0h0M460.1 1073.5h0M448.3 1094.1h0M398.8 1106.1h0M365.8 1134.8h0M684.2 966.6h0M567.7 1021.6h0M577.0 1016.0h0M406.8 1121.6h0M600.8 1024.4h0M344.3 1142.8h0M771.4 917.2h0M249.4 1217.3h0M419.4 1150.0h0M411.0 1102.6h0M738.5 917.9h0M542.5 1040.0h0M762.4 887.1h0M396.8 1133.2h0M620.8 999.1h0M329.3 1157.0h0M461.4 1084.9h0M279.2 1206.2h0M219.4 1222.9h0M640.8 990.3h0M724.3 962.1h0M730.0 937.0h0M693.2 916.3h0M601.1 1012.8h0M503.8 1058.1h0M608.2 1001.5h0M462.1 1081.3h0M749.0 907.0h0M366.0 1130.7h0M359.9 1140.9h0M464.6 1074.9h0M302.3 1200.0h0M278.8 1165.7h0M593.9 1005.9h0M244.2 1214.1h0M406.5 1125.4h0M407.7 1133.2h0M459.1 1083.3h0M315.1 1155.1h0M452.4 1088.4h0M638.7 980.6h0M304.0 1154.8h0M647.6 968.3h0M664.3 938.3h0M289.9 1159.1h0M745.4 929.0h0M412.6 1117.9h0M538.5 987.3h0M722.9 928.6h0M209.6 1218.7h0M481.3 1088.2h0M479.7 1061.5h0M317.7 1165.4h0M248.6 1214.1h0M435.9 1061.4h0M295.6 1169.0h0M292.4 1180.0h0M536.7 1034.5h0M657.2 968.7h0M618.3 1003.2h0M409.7 1102.8h0M703.9 966.2h0M584.6 993.2h0M333.0 1156.9h0M276.6 1192.5h0M498.3 1065.4h0M634.9 995.0h0M499.5 1062.9h0M319.8 1141.7h0M288.6 1191.1h0M194.6 1265.5h0M610.2 989.6h0M715.7 924.8h0M788.6 892.0h0M475.0 1076.1h0M424.7 1115.3h0M431.4 1094.3h0M289.6 1178.0h0M788.3 907.6h0M293.9 1176.0h0M491.4 1058.9h0M337.0 1165.9h0M262.0 1182.7h0M337.7 1171.0h0M440.4 1104.3h0M730.1 937.3h0M172.7 1245.5h0M534.4 1044.0h0M728.1 931.3h0M524.9 1020.5h0M661.4 987.3h0M404.4 1098.1h0M639.7 963.3h0M504.2 1071.0h0M760.2 884.0h0M381.1 1128.1h0M331.2 1166.1h0M563.8 995.6h0M458.0 1091.0h0M182.6 1243.0h0M215.9 1221.4h0M467.1 1077.1h0M701.7 940.5h0M330.5 1140.0h0M593.9 1003.8h0M172.4 1252.6h0M441.7 1141.7h0M661.1 957.8h0M572.6 1030.9h0M419.8 1105.5h0M403.2 1112.7h0M608.7 1006.9h0M251.3 1210.4h0M647.9 979.1h0M675.8 944.0h0M693.7 946.5h0M303.0 1174.5h0M325.7 1174.6h0M488.5 1053.6h0M788.1 898.8h0M574.1 1018.1h0M719.3 936.2h0M779.5 882.6h0M730.0 904.9h0M210.5 1232.4h0M483.7 1052.2h0M564.4 1011.6h0M674.5 957.6h0M473.2 1057.6h0M388.6 1113.9h0M347.1 1154.3h0M302.0 1160.8h0M775.3 902.0h0M726.3 975.6h0M211.2 1236.5h0M318.0 1175.8h0M617.9 967.9h0M572.3 1020.9h0M241.2 1216.9h0M397.7 1103.7h0M255.7 1184.6h0M424.7 1105.9h0M704.1 924.3h0M501.9 1050.5h0M600.4 1005.3h0M519.3 1039.4h0M614.1 967.1h0M312.7 1157.7h0M558.5 1041.0h0M389.9 1115.6h0M314.7 1176.6h0M496.3 1055.8h0M267.9 1180.7h0M443.2 1107.9h0M645.5 1002.5h0M429.0 1087.9h0M290.6 1189.7h0M240.9 1198.2h0M621.7 1010.4h0M251.8 1209.1h0M283.6 1179.2h0M711.6 948.2h0M764.7 933.6h0M779.9 910.8h0M669.4 958.7h0M508.8 1060.1h0M272.7 1205.2h0M385.7 1122.0h0M570.2 1027.3h0M332.8 1160.3h0M723.6 939.2h0M572.1 1028.1h0M316.3 1176.9h0M530.1 1001.2h0M476.9 1075.6h0M687.3 951.1h0M608.0 989.3h0M327.6 1172.7h0M359.2 1138.9h0M321.2 1160.9h0M190.9 1237.8h0M516.4 1081.6h0M647.4 972.9h0M188.6 1234.8h0M515.8 1010.8h0M710.5 946.2h0M661.6 925.9h0M616.7 956.4h0M386.6 1121.2h0M559.2 1023.3h0M397.2 1115.7h0M351.9 1135.2h0M590.3 995.1h0M298.3 1182.0h0M563.4 1017.0h0M289.7 1193.8h0M409.0 1114.6h0M664.9 967.6h0M524.9 1058.0h0M326.7 1169.5h0M360.8 1137.0h0M653.1 936.3h0M407.2 1105.3h0M567.8 1035.9h0M704.1 937.3h0M287.1 1195.7h0M268.5 1195.6h0M227.9 1198.6h0M646.1 964.9h0M257.3 1203.0h0M209.9 1266.7h0M744.0 922.8h0M417.7 1114.1h0M686.2 968.5h0M284.8 1192.1h0M460.6 1102.2h0M273.4 1199.9h0M529.4 1025.5h0M250.4 1199.8h0M745.8 918.1h0M414.5 1102.5h0M563.6 1035.8h0M232.2 1219.1h0M615.9 1003.7h0M524.1 1033.2h0M531.0 1037.8h0M786.8 878.7h0M461.2 1097.5h0M378.2 1119.4h0M559.5 1046.8h0M607.6 1010.1h0M467.4 1092.2h0M655.1 947.4h0M463.7 1078.6h0M252.4 1197.5h0M586.4 1019.2h0M343.1 1160.9h0M394.8 1116.4h0M176.4 1255.2h0M738.5 939.2h0M685.2 942.9h0M747.1 930.2h0M736.9 908.8h0M636.4 987.2h0M368.5 1139.9h0M691.4 956.5h0M604.6 986.4h0M558.7 1054.3h0M631.2 998.9h0M517.0 1034.4h0M438.9 1096.2h0M503.7 1056.7h0M260.2 1199.2h0M434.1 1117.5h0M495.8 1069.7h0M458.7 1079.3h0M584.2 1025.8h0M358.0 1152.1h0M565.2 1064.9h0M326.2 1161.9h0M363.5 1153.1h0M682.1 964.2h0M712.4 953.0h0M445.2 1089.5h0M368.5 1119.4h0M638.5 1018.8h0M639.3 969.3h0M477.5 1067.6h0M397.1 1130.6h0M694.1 943.7h0M760.2 902.2h0M673.7 962.9h0M326.9 1133.7h0M367.3 1134.9h0M402.8 1140.5h0M781.8 895.3h0M295.9 1196.1h0M466.2 1085.3h0M687.6 937.2h0M525.5 1029.0h0M685.2 942.6h0M205.4 1230.5h0M430.1 1097.5h0M267.2 1179.1h0M254.0 1219.4h0M661.7 962.1h0M259.5 1195.7h0M493.1 1063.6h0M593.1 989.0h0M412.0 1082.7h0M371.1 1158.6h0M322.5 1175.0h0M558.9 1036.3h0M653.6 982.1h0M506.3 1070.2h0M389.5 1131.9h0M390.9 1121.5h0M696.4 967.2h0M719.1 940.3h0M693.8 905.9h0M348.6 1125.5h0M488.0 1036.8h0M355.9 1149.6h0M195.0 1230.4h0M283.2 1190.0h0M511.5 1043.9h0M164.1 1247.3h0M722.2 913.6h0M552.2 1007.1h0M519.0 1055.5h0M539.5 1054.5h0M728.1 932.0h0M395.3 1130.0h0M357.2 1153.1h0M707.2 954.5h0M479.0 1098.1h0M501.1 1072.0h0M333.9 1172.9h0M775.1 897.1h0M484.3 1031.4h0M583.8 1024.6h0M705.3 942.2h0M434.6 1118.4h0M200.5 1234.8h0M487.7 1068.8h0M332.8 1177.5h0M495.3 1040.1h0M507.1 1056.4h0M400.5 1108.3h0M340.8 1151.9h0M743.4 966.4h0M231.3 1214.9h0M518.0 1030.6h0M546.7 1034.6h0M498.4 1049.8h0M616.3 1016.2h0M335.1 1163.3h0M233.7 1216.7h0M425.1 1107.1h0M669.5 997.5h0M392.4 1126.3h0M483.0 1070.0h0M387.0 1126.2h0M184.6 1250.7h0M625.9 986.7h0M508.9 1063.0h0M578.9 1000.8h0M388.8 1117.7h0M395.5 1104.1h0M284.1 1185.9h0M376.5 1133.2h0M788.0 887.2h0M745.2 932.5h0M467.1 1072.2h0M390.4 1125.6h0M790.6 899.9h0M570.0 1010.7h0M206.5 1218.1h0M319.4 1154.8h0M729.1 947.5h0M731.2 935.0h0M374.9 1121.6h0M384.0 1110.7h0M381.7 1123.4h0M326.3 1168.2h0M587.0 995.9h0M197.3 1243.7h0M354.2 1156.6h0M373.3 1145.3h0M412.8 1126.7h0M325.7 1152.0h0M227.3 1187.3h0M519.7 1043.5h0M562.7 1023.0h0M443.2 1109.2h0M334.4 1155.4h0M287.0 1188.5h0M483.1 1064.3h0M375.8 1146.3h0M736.5 914.9h0M433.3 1096.0h0M600.0 1032.6h0M462.8 1062.5h0M764.7 935.0h0M685.4 957.2h0M574.7 1011.6h0M672.3 965.2h0M640.2 993.3h0M278.7 1177.9h0M399.9 1123.2h0M605.2 1014.5h0M391.4 1123.4h0M429.8 1100.9h0M536.3 1022.0h0M547.6 1049.1h0M692.6 996.1h0M706.5 927.1h0M714.9 972.2h0M560.3 1031.3h0M607.0 993.6h0M434.6 1106.8h0M368.7 1133.5h0M670.4 963.1h0M733.8 924.9h0M608.3 991.1h0M408.5 1115.5h0M433.4 1094.9h0M560.3 1039.1h0M400.3 1133.8h0M751.0 923.1h0M487.7 1058.2h0M470.4 1100.5h0M563.3 1043.0h0M358.2 1148.4h0M393.3 1106.7h0M745.7 962.9h0M464.5 1082.0h0M496.0 1060.8h0M526.6 1047.0h0M500.5 1052.4h0M333.6 1158.6h0M485.5 1060.1h0M487.6 1064.6h0M667.3 964.1h0M635.2 995.5h0M656.5 969.9h0M540.2 1036.5h0M422.3 1108.1h0M619.6 1010.4h0M519.0 1056.4h0M488.7 1050.6h0M477.6 1086.3h0M708.7 946.1h0M352.8 1162.9h0M245.4 1200.3h0M567.7 1005.6h0M513.9 1038.8h0M183.8 1226.2h0M665.2 988.5h0M380.8 1133.2h0M404.2 1090.1h0M457.7 1065.8h0M496.3 1041.9h0M508.6 1057.0h0M452.3 1098.8h0M403.4 1107.3h0M464.3 1093.9h0M389.1 1135.4h0M694.3 992.5h0M728.5 928.2h0M194.6 1224.2h0M789.0 866.3h0M428.2 1131.7h0M387.8 1152.9h0M665.9 971.6h0M675.3 990.4h0M694.5 955.1h0M652.5 983.4h0M502.7 1051.1h0M292.6 1180.1h0M402.3 1139.5h0M524.6 1050.7h0M370.9 1149.5h0M520.9 1017.5h0M540.2 1029.4h0M449.3 1086.2h0M496.0 1073.4h0M341.2 1159.3h0M579.5 1006.3h0M486.8 1046.5h0M319.9 1171.6h0M629.8 1003.6h0M415.4 1115.2h0M349.2 1135.8h0M477.2 1057.9h0M288.5 1187.1h0M622.4 978.1h0M537.5 1051.1h0M205.2 1244.5h0M437.7 1088.2h0M603.4 970.3h0M342.5 1149.3h0M305.7 1157.0h0M655.7 971.9h0M386.3 1129.0h0M476.8 1085.5h0M625.9 986.9h0M168.5 1275.2h0M629.1 999.7h0M252.7 1192.7h0M399.8 1136.4h0M639.6 971.1h0M241.6 1224.2h0M512.8 1031.4h0M595.3 1011.9h0M176.7 1251.7h0M428.9 1104.5h0M572.8 1048.6h0M362.8 1137.3h0M571.4 1015.3h0M449.2 1081.3h0M536.5 1052.9h0M630.2 1005.2h0M607.7 1012.2h0M641.0 986.2h0M410.6 1108.0h0M403.3 1102.5h0M399.2 1128.3h0M645.7 987.1h0M473.5 1059.4h0M498.4 1063.7h0M367.9 1132.7h0M560.0 1028.7h0M489.7 1079.9h0M353.7 1141.0h0M560.5 1043.6h0M477.6 1085.1h0M283.1 1201.5h0M373.9 1122.3h0M664.6 934.8h0M192.0 1222.0h0M536.6 1031.4h0M413.0 1073.2h0M325.5 1170.0h0M560.7 1023.1h0M571.7 1013.6h0M767.6 907.4h0M785.0 911.8h0M556.5 1029.5h0M475.7 1075.3h0M613.5 993.7h0M446.8 1091.6h0M443.6 1111.2h0M175.9 1239.1h0M389.2 1105.5h0M554.7 1019.2h0M347.0 1146.7h0M378.0 1135.4h0M530.5 1043.5h0M674.9 977.7h0M483.2 1066.5h0M514.8 1053.7h0M525.7 1018.4h0M475.6 1074.1h0M506.0 1073.6h0M524.8 1047.5h0M618.6 979.1h0M453.1 1090.7h0M509.6 1054.6h0M372.1 1151.0h0M611.4 1008.7h0M624.0 989.7h0M695.9 956.4h0M608.5 995.3h0M290.0 1170.1h0M210.8 1231.2h0M217.3 1248.4h0M465.4 1089.1h0M424.9 1104.8h0M468.6 1063.3h0M484.0 1076.3h0M418.8 1107.8h0M558.9 1013.0h0M685.7 931.2h0M589.9 997.9h0M694.7 1000.8h0M611.0 986.8h0M562.6 1016.2h0M406.7 1107.7h0M430.2 1103.5h0M630.5 998.3h0M278.6 1197.0h0M705.0 946.5h0M622.6 990.4h0M399.2 1123.7h0M222.4 1230.1h0M350.7 1146.1h0M355.2 1169.0h0M471.3 1102.6h0M438.8 1123.8h0M283.0 1189.7h0M422.0 1087.8h0M512.7 1077.8h0M346.8 1160.3h0M567.0 1014.3h0M525.1 1054.4h0M750.8 971.4h0M632.8 988.2h0M311.8 1158.1h0M563.8 1054.8h0M580.8 1038.6h0M556.8 1064.9h0M435.0 1084.5h0M633.9 976.9h0M426.0 1109.2h0M385.0 1133.7h0M322.3 1157.0h0M381.1 1155.2h0M439.7 1104.3h0M748.2 918.6h0M537.5 1046.1h0M458.9 1076.6h0M494.8 1071.7h0M505.4 1078.0h0M330.3 1177.0h0M380.2 1107.3h0M434.6 1100.0h0M428.9 1075.0h0M323.4 1169.6h0M789.5 904.0h0M760.8 887.0h0M609.2 981.9h0M197.2 1253.7h0M646.0 988.6h0M419.8 1118.5h0M657.1 981.3h0M167.0 1268.7h0M584.7 1031.4h0M370.6 1134.1h0M505.6 1068.3h0M551.1 1021.1h0M298.4 1178.9h0M381.1 1117.4h0M624.1 962.3h0M382.0 1128.8h0M710.1 955.5h0M385.8 1115.2h0M499.8 1054.5h0M598.3 999.6h0M422.0 1126.4h0M636.7 976.2h0M364.4 1135.1h0M636.5 977.9h0M249.2 1200.9h0M208.1 1225.9h0M283.4 1179.9h0M637.3 987.8h0M627.6 1017.7h0M642.9 994.4h0M643.9 999.8h0M633.8 988.6h0M731.4 892.6h0M500.8 1093.9h0M421.9 1092.4h0M654.7 967.7h0M448.0 1083.4h0M551.9 1034.4h0M556.4 1066.1h0M410.7 1102.1h0M379.6 1160.5h0M611.3 994.7h0M727.1 849.3h0M229.6 1224.1h0M414.0 1103.7h0M340.3 1146.4h0M462.8 1060.0h0M676.8 927.4h0M399.8 1124.1h0M450.5 1093.8h0M650.1 969.4h0M569.9 1037.9h0M291.7 1206.1h0M298.7 1180.5h0M617.7 983.5h0M672.5 945.4h0M569.7 1031.9h0M698.7 984.4h0M609.4 1008.6h0M266.0 1195.1h0M604.5 1012.2h0M312.8 1181.0h0M351.5 1150.6h0M741.9 933.5h0M349.6 1142.3h0M555.5 979.4h0M640.6 1004.6h0M317.5 1185.0h0M245.9 1198.6h0M264.3 1201.7h0M232.9 1238.2h0M677.1 965.0h0M236.7 1195.7h0M562.9 1018.6h0M501.7 1070.7h0M746.0 878.3h0M259.7 1199.3h0M338.0 1166.5h0M486.6 1093.1h0M520.2 1062.5h0M559.4 1024.2h0M574.9 1001.1h0M384.9 1122.9h0M731.8 930.0h0M294.0 1179.9h0M376.5 1133.6h0M477.9 1083.3h0M576.2 1012.6h0M409.4 1115.0h0M388.5 1175.7h0M606.0 981.0h0M325.6 1183.3h0M266.0 1210.4h0M498.9 1048.8h0M514.8 1030.3h0M544.1 1032.9h0M218.3 1226.8h0M618.0 993.7h0M650.0 998.1h0M498.4 1075.0h0M377.4 1135.9h0M777.4 919.6h0M498.7 1100.3h0M557.5 1044.3h0M328.5 1153.5h0M195.3 1236.8h0M293.3 1183.9h0M366.3 1145.0h0M274.3 1181.9h0M492.4 1054.5h0M464.5 1084.4h0M466.8 1073.1h0M314.0 1163.9h0M615.8 972.5h0M500.7 1031.9h0M230.6 1200.0h0M233.5 1215.7h0M454.1 1137.9h0M198.1 1237.6h0M753.3 909.1h0M384.7 1121.4h0M502.4 1047.8h0M305.9 1156.1h0M642.0 954.4h0M723.0 927.8h0M379.2 1128.6h0M409.6 1143.6h0M780.9 895.4h0M662.4 988.2h0M636.0 976.7h0M186.1 1259.7h0M414.2 1091.3h0M387.9 1114.6h0M270.3 1200.5h0M714.2 961.3h0M539.5 1054.1h0M570.5 1009.7h0M374.6 1125.2h0M390.7 1115.3h0M473.8 1068.6h0M310.5 1178.2h0M359.9 1149.0h0M581.1 1021.0h0M471.3 1057.1h0M556.3 1048.9h0M277.1 1179.2h0M477.8 1070.0h0M354.4 1144.7h0M372.8 1126.6h0M765.5 893.5h0M733.3 926.5h0M274.6 1190.4h0M587.9 995.7h0M596.3 1003.7h0M171.4 1248.8h0M362.5 1127.5h0M644.3 978.9h0M473.0 1087.3h0M414.8 1098.2h0M433.0 1108.1h0M432.7 1105.3h0M345.7 1158.1h0M651.2 967.1h0M752.0 950.5h0M353.1 1136.1h0M612.8 998.4h0M661.6 990.8h0M192.4 1233.3h0M644.5 965.0h0M272.1 1201.6h0M712.4 954.7h0M365.4 1146.4h0M591.8 998.6h0M454.1 1079.4h0M520.9 1053.0h0M248.7 1218.2h0M445.8 1122.3h0M787.1 911.0h0M270.6 1183.8h0M323.2 1178.7h0M733.5 947.4h0M364.0 1154.0h0M354.7 1144.9h0M758.9 889.6h0M183.0 1237.1h0M378.3 1123.5h0M430.2 1114.2h0M604.5 975.0h0M704.4 959.6h0M465.7 1072.8h0M447.9 1079.1h0M645.1 985.7h0M641.4 985.5h0M331.2 1155.0h0M660.6 955.9h0M692.5 960.1h0M403.4 1090.8h0M740.0 922.7h0M395.9 1124.8h0M574.6 1013.7h0M377.5 1118.8h0M317.9 1173.1h0M475.5 1102.7h0M568.3 1018.6h0M374.7 1137.4h0M792.2 840.8h0M448.2 1058.3h0M231.4 1197.6h0M330.0 1156.3h0M546.9 1031.9h0M490.1 1091.8h0M730.1 920.1h0M498.1 1071.4h0M212.1 1229.2h0M486.4 1066.9h0M291.6 1185.2h0M749.1 927.8h0M379.5 1162.5h0M471.2 1088.3h0M755.1 913.4h0M521.0 1042.1h0M619.0 998.6h0M614.3 981.6h0M510.2 1086.1h0M543.8 1051.8h0M506.0 1063.1h0M362.2 1139.3h0M332.6 1162.5h0M587.7 1003.0h0M562.3 1045.3h0M276.8 1188.3h0M533.9 1017.1h0M666.6 971.1h0M284.4 1188.9h0M707.0 928.8h0M330.5 1149.9h0M558.8 1054.0h0M582.8 1033.5h0M169.3 1266.2h0M410.3 1094.3h0M712.6 944.9h0M705.8 951.4h0M712.2 924.3h0M501.9 1089.9h0M277.3 1170.0h0M289.2 1179.8h0M430.3 1089.6h0M178.5 1262.5h0M376.3 1139.9h0M676.7 974.7h0M645.1 1007.2h0M757.5 918.1h0M355.0 1138.5h0M457.4 1097.5h0M760.6 925.4h0M640.0 984.1h0M550.2 1042.9h0M204.1 1229.1h0M453.2 1107.5h0M379.4 1149.8h0M706.0 967.0h0M629.1 951.5h0M386.4 1128.9h0M423.6 1097.7h0M583.7 1044.1h0M668.1 983.5h0M466.7 1078.6h0M213.9 1236.1h0M375.6 1131.4h0M545.4 1050.9h0M342.7 1168.4h0M322.6 1155.0h0M641.2 981.4h0M489.4 1058.9h0M245.1 1188.4h0M212.5 1230.4h0M519.8 1047.3h0M704.9 914.2h0M431.7 1097.9h0M327.1 1171.9h0M215.4 1236.5h0M589.2 1009.1h0M557.6 1033.6h0M624.4 1002.3h0M506.8 1073.0h0M414.7 1105.3h0M511.1 1057.1h0M242.2 1221.0h0M663.7 966.5h0M723.3 945.3h0M642.3 973.2h0M740.0 936.8h0M516.5 1050.4h0M446.5 1089.6h0M547.5 1062.4h0M262.7 1171.4h0M689.0 955.5h0M419.3 1106.8h0M311.4 1170.0h0M557.5 1038.4h0M327.8 1158.3h0M626.1 984.3h0M295.3 1149.6h0M207.1 1242.6h0M378.7 1128.2h0M212.0 1231.9h0M756.8 900.0h0M195.0 1219.8h0M358.9 1147.5h0M216.2 1215.3h0M677.9 959.5h0M320.2 1134.5h0M463.4 1076.2h0M489.4 1031.0h0M354.6 1137.9h0M529.8 1074.4h0M705.6 933.0h0M371.1 1141.2h0M504.4 1021.0h0M660.2 973.1h0M199.9 1220.1h0M759.9 909.7h0M393.2 1128.2h0M492.5 1065.5h0M501.2 1050.4h0M513.3 1060.0h0M594.5 977.5h0M655.5 960.7h0M692.3 948.8h0M364.3 1128.1h0M255.4 1216.4h0M402.2 1122.9h0M461.2 1090.5h0M286.4 1173.2h0M374.2 1114.4h0M192.7 1241.7h0M233.8 1200.3h0M486.2 1058.1h0M695.9 976.5h0M363.5 1136.0h0M655.9 965.5h0M483.1 1041.7h0M278.0 1202.8h0M735.1 929.6h0M460.7 1076.7h0M599.5 1019.8h0M214.7 1225.2h0M668.1 991.1h0M304.1 1148.6h0M429.2 1100.0h0M410.4 1113.9h0M639.4 990.3h0M702.5 985.0h0M693.6 940.4h0M396.4 1110.3h0M363.8 1147.7h0M673.8 967.5h0M556.0 1007.2h0M398.2 1127.7h0M382.9 1154.0h0M440.4 1097.0h0M573.8 1012.6h0M549.3 1041.3h0M768.5 882.6h0M513.0 1043.2h0M603.6 1005.4h0M703.9 980.8h0M244.8 1202.6h0M248.2 1219.4h0M691.4 949.0h0M673.2 948.3h0M405.7 1116.6h0M623.4 976.1h0M527.0 1059.4h0M638.5 977.1h0M467.0 1058.0h0M435.1 1098.2h0M203.1 1223.2h0M350.3 1127.8h0M278.8 1172.1h0M535.3 1037.3h0M569.6 1000.6h0M463.0 1094.4h0M444.2 1113.0h0M619.0 1007.4h0M591.4 1021.1h0M362.0 1131.8h0M188.4 1226.2h0M550.0 1049.2h0M548.9 1020.1h0M536.2 1051.5h0M316.7 1151.1h0M502.5 1053.1h0M673.2 976.0h0M504.2 1051.7h0M284.8 1190.6h0M244.0 1213.7h0M692.3 979.2h0M475.1 1082.2h0M389.5 1136.2h0M193.8 1249.2h0M286.9 1188.2h0M484.0 1064.4h0M488.7 1066.6h0M302.2 1167.5h0M248.3 1230.9h0M518.3 1045.2h0M300.3 1177.5h0M480.4 1072.4h0M440.2 1091.0h0M422.9 1113.2h0M606.4 998.5h0M332.4 1172.2h0M529.2 1024.2h0M439.8 1112.7h0M317.0 1168.7h0M744.1 948.5h0M684.6 952.6h0M327.1 1165.0h0M500.4 1036.9h0M423.3 1114.4h0M575.9 1024.6h0M335.0 1152.7h0M164.2 1254.3h0M317.0 1171.7h0M495.1 1094.3h0M298.6 1181.9h0M190.5 1220.5h0M175.9 1214.0h0M391.6 1126.8h0M382.2 1143.2h0M216.5 1223.7h0M586.5 982.2h0M597.7 986.3h0M568.4 1033.1h0M782.9 930.5h0M512.5 1051.2h0M616.9 1009.7h0M535.9 1025.0h0M361.9 1144.1h0M502.4 1058.4h0M195.1 1244.3h0M548.5 1036.0h0M705.2 901.9h0M575.9 1026.0h0M692.7 952.1h0M320.4 1163.6h0M666.3 919.9h0M616.1 995.8h0M645.1 957.4h0M276.5 1178.1h0M495.0 1131.9h0M300.2 1171.3h0M250.6 1219.5h0M596.5 1005.7h0M584.5 1033.1h0M170.5 1247.6h0M791.2 892.8h0M551.3 1009.2h0M402.0 1124.0h0M561.9 1022.2h0M634.4 1019.0h0M601.4 1002.3h0M340.6 1163.6h0M280.3 1180.3h0M701.3 946.4h0M312.7 1158.2h0M741.8 958.4h0M376.5 1119.8h0M700.5 941.7h0M580.9 1010.7h0M204.6 1242.4h0M414.2 1114.0h0M251.5 1201.1h0M514.1 1093.8h0M707.3 972.2h0M547.2 996.9h0M327.4 1166.8h0M196.9 1224.3h0M442.0 1100.0h0M292.8 1192.5h0M340.4 1155.3h0M777.9 928.1h0M522.7 1058.6h0M260.3 1211.5h0M722.8 990.4h0M334.7 1163.8h0M366.5 1136.6h0M454.3 1069.9h0M327.0 1143.1h0M344.5 1158.3h0M500.5 1061.5h0M660.8 989.2h0M411.1 1118.6h0M727.8 930.9h0M384.3 1125.7h0M318.0 1178.2h0M600.2 1008.9h0M434.8 1093.3h0M706.1 943.7h0M380.8 1139.5h0M322.4 1164.4h0M207.6 1221.7h0M489.3 1053.1h0M313.4 1182.0h0M400.1 1128.1h0M540.3 1030.5h0M623.2 978.8h0M422.6 1079.7h0M498.4 1055.0h0M716.7 923.7h0M522.4 1072.9h0M515.7 1081.1h0M551.7 1049.1h0M656.8 965.4h0M461.6 1076.1h0M266.9 1197.2h0M714.2 944.1h0M335.0 1155.4h0M303.4 1164.4h0M368.0 1142.5h0M729.4 964.7h0M573.3 1007.8h0M441.9 1087.9h0M232.5 1209.8h0M552.8 1057.8h0M331.7 1156.7h0M546.0 1042.5h0M745.8 904.7h0M197.7 1233.8h0M413.1 1115.0h0M626.1 977.2h0M539.2 1028.3h0M572.4 1019.1h0M410.0 1121.1h0M458.2 1083.5h0M529.9 1066.6h0M563.9 1029.0h0M423.2 1125.7h0M516.5 1054.3h0M592.1 1017.7h0M495.3 1061.2h0M258.8 1192.7h0M452.5 1128.9h0M730.3 907.5h0M550.7 1018.8h0M778.9 888.1h0M549.4 1038.3h0M537.0 1051.4h0M341.2 1149.0h0M713.5 941.1h0M539.9 1054.6h0M456.8 1090.2h0M267.8 1185.4h0M311.7 1164.4h0M427.2 1082.6h0M518.8 1044.1h0M462.7 1091.8h0M572.9 1030.8h0M425.6 1105.3h0M471.7 1091.8h0M746.4 905.2h0M752.0 953.4h0M562.3 1030.1h0M731.3 914.9h0M409.6 1138.4h0M300.4 1169.4h0M422.0 1110.3h0M735.2 920.9h0M532.6 976.4h0M472.9 1087.6h0M512.1 1066.1h0M746.5 934.0h0M248.3 1212.1h0M739.4 919.8h0M452.2 1086.8h0M404.2 1128.9h0M291.4 1184.5h0M528.0 1056.7h0M479.7 1085.8h0M519.8 1039.2h0M553.5 1061.0h0M461.0 1083.3h0M357.4 1121.8h0M547.4 982.0h0M645.9 990.4h0M259.5 1200.4h0M457.1 1091.6h0M601.1 1038.1h0M461.4 1100.0h0M499.8 1064.4h0M768.0 908.6h0M552.1 1056.2h0M538.9 1027.4h0M405.0 1108.2h0M446.0 1097.2h0M583.9 1030.8h0M328.5 1146.3h0M592.2 1010.0h0M690.3 942.1h0M190.4 1231.6h0M306.9 1177.8h0M415.0 1122.5h0M354.9 1147.2h0M663.2 975.7h0M367.3 1141.1h0M642.0 967.4h0M382.0 1122.0h0M176.4 1258.8h0M434.0 1108.0h0M270.3 1207.1h0M460.3 1094.3h0M636.8 1002.1h0M674.4 952.5h0M300.5 1175.8h0M754.7 957.3h0M284.0 1180.7h0M589.4 1012.4h0M661.0 973.7h0M305.5 1171.5h0M318.2 1141.4h0M455.2 1078.7h0M403.9 1118.1h0M638.4 985.2h0M483.2 1056.6h0M625.6 1000.8h0M285.1 1192.7h0M441.7 1104.8h0M498.0 1057.7h0M441.4 1088.3h0M627.6 1005.1h0M415.8 1123.3h0M446.9 1086.1h0M600.4 1002.4h0M689.9 959.8h0M712.9 937.3h0M351.6 1152.0h0M404.4 1128.1h0M210.0 1238.5h0M666.8 953.8h0M434.4 1094.4h0M513.9 1041.1h0M667.2 961.5h0M411.4 1106.4h0M738.3 900.7h0M632.3 972.4h0M657.6 940.9h0M440.6 1102.7h0M712.2 924.8h0M489.2 1076.3h0M264.8 1192.2h0M250.3 1204.9h0M690.3 936.1h0M503.1 1063.4h0M436.0 1104.4h0M450.4 1070.9h0M633.0 993.5h0M162.8 1252.1h0M561.1 1028.8h0M251.1 1203.1h0M713.1 941.6h0M386.0 1122.1h0M767.0 890.2h0M196.6 1248.5h0M320.3 1165.9h0M429.7 1109.1h0M338.8 1174.4h0M292.6 1190.2h0M573.7 1009.0h0M384.9 1157.6h0M349.8 1153.1h0M559.5 1012.2h0M218.3 1226.5h0M535.9 1030.4h0M221.5 1215.9h0M690.5 950.4h0M436.2 1106.7h0M507.9 1046.6h0M365.8 1137.6h0M502.4 1054.5h0M400.4 1112.4h0M399.9 1128.7h0M328.1 1179.7h0M327.8 1139.7h0M598.1 1003.6h0M610.1 1006.9h0M654.2 967.3h0M466.8 1082.7h0M171.5 1248.0h0M615.9 1012.9h0M499.6 1040.8h0M392.9 1139.8h0M503.3 1067.5h0M285.4 1219.5h0M636.2 987.8h0M489.4 1068.1h0M581.9 1034.0h0M289.9 1197.0h0M676.1 982.0h0M518.3 1057.3h0M551.2 1022.6h0M435.5 1099.4h0M467.1 1078.9h0M554.5 1046.7h0M643.9 977.8h0M663.8 914.4h0M508.7 1048.9h0M519.2 1066.5h0M714.9 937.8h0M284.7 1202.1h0M427.9 1100.5h0M356.6 1144.8h0M286.6 1206.9h0M374.6 1143.0h0M542.6 1035.0h0M288.0 1163.8h0M640.3 990.4h0M367.3 1125.3h0M637.2 959.4h0M230.6 1197.1h0M484.6 1068.4h0M246.0 1195.9h0M226.0 1208.9h0M279.2 1196.7h0M451.7 1098.3h0M359.7 1128.8h0M620.2 1016.0h0M245.2 1210.5h0M711.4 957.5h0M410.3 1116.7h0M320.1 1181.7h0M389.0 1128.2h0M270.1 1191.0h0M506.9 1050.7h0M531.6 1058.0h0M493.1 1072.0h0M335.4 1159.8h0M722.2 900.9h0M736.2 951.6h0M782.7 912.6h0M455.7 1084.5h0M317.0 1185.0h0M490.5 1053.8h0M691.0 956.7h0M744.8 928.6h0M741.3 889.0h0M382.4 1132.8h0M478.5 1055.4h0M335.2 1146.4h0M736.5 928.3h0M396.8 1107.3h0M354.2 1136.2h0M208.7 1241.2h0M734.8 932.7h0M547.0 1037.0h0M702.2 945.1h0M333.6 1160.2h0M291.1 1193.1h0M712.0 925.7h0M203.6 1233.9h0M425.0 1099.9h0M467.2 1058.2h0M552.1 1005.9h0M413.3 1135.8h0M547.8 1016.6h0M280.1 1188.9h0M405.9 1123.2h0M350.5 1149.7h0M524.0 1041.7h0M348.8 1155.0h0M612.0 984.7h0M518.3 1066.7h0M310.1 1172.8h0M733.8 902.7h0M471.3 1068.2h0M369.7 1145.9h0M736.9 940.8h0M356.0 1138.5h0M533.2 1184.1h0M147.3 1295.4h0M158.5 1284.3h0M171.6 1285.8h0M215.2 1276.7h0M247.5 1282.7h0M148.9 1255.5h0M149.2 1246.4h0M155.6 1246.4h0M158.8 1246.4h0M162.0 1233.1h0M179.2 1217.6h0M179.2 1225.6h0M192.3 1219.8h0M203.8 1202.7h0M220.8 1195.2h0M243.5 1180.4h0M237.9 1197.1h0M275.5 1157.2h0M271.9 1246.4h0M275.5 1233.1h0M265.1 1236.8h0M253.1 1235.2h0M245.1 1238.7h0M200.3 1261.9h0M205.9 1259.8h0M170.0 1261.4h0M177.2 1261.9h0M160.4 1265.5h0M149.1 1256.8h0M156.4 1264.2h0M858.6 826.4h0M850.8 834.1h0M868.1 834.1h0M818.7 834.1h0M830.0 837.7h0M835.8 839.7h0M869.6 842.9h0M845.2 847.1h0M832.0 849.0h0M826.1 851.1h0M893.0 845.5h0M896.2 845.5h0M905.7 845.5h0M888.8 852.9h0M875.5 850.7h0M875.5 856.6h0M877.4 862.4h0M801.8 856.6h0M798.2 860.5h0M820.3 856.6h0M824.2 856.6h0M821.6 863.1h0M846.9 858.5h0M843.6 861.1h0M846.9 867.6h0M850.8 871.8h0M830.4 867.6h0M835.8 872.1h0M824.2 870.8h0M829.4 877.3h0M823.5 881.9h0M833.9 885.1h0M852.7 881.2h0M848.8 885.1h0M873.5 881.2h0M873.5 883.2h0M860.5 892.3h0M809.9 873.4h0M813.8 874.7h0M806.0 873.4h0M793.0 876.0h0M796.9 876.0h0M801.4 879.3h0M809.9 879.3h0M795.6 881.2h0M788.4 885.1h0M781.3 880.6h0M794.3 886.4h0M815.1 883.8h0M800.8 892.3h0M811.2 894.2h0M785.2 892.3h0"/><path d="M146.9 1265.1L906.1 828.2" stroke="#04246c" stroke-width="3.6" stroke-linecap="round"/><rect x="663" y="1161" width="238" height="81" fill="#fff" stroke="#000" stroke-width="2"/><g font-family="Liberation Sans, sans-serif" font-weight="bold" font-size="27.8" fill="#000" style="will-change:transform"><text x="669.6" y="1192" textLength="14.44" lengthAdjust="spacingAndGlyphs">y</text><text x="690.54" y="1192" textLength="14.91" lengthAdjust="spacingAndGlyphs">=</text><text x="711.92" y="1192" textLength="83.28" lengthAdjust="spacingAndGlyphs">0.971x</text><text x="802.58" y="1192" textLength="15.61" lengthAdjust="spacingAndGlyphs">+</text><text x="824.5" y="1192" textLength="69.43" lengthAdjust="spacingAndGlyphs">0.449</text><text x="719.55" y="1229.7" textLength="15.7" lengthAdjust="spacingAndGlyphs">R</text><text x="736.62" y="1219" textLength="9.24" lengthAdjust="spacingAndGlyphs" font-size="16">2</text><text x="753.37" y="1229.7" textLength="14.56" lengthAdjust="spacingAndGlyphs">=</text><text x="774.58" y="1229.7" textLength="70.66" lengthAdjust="spacingAndGlyphs">0.977</text></g><g font-family="Liberation Sans, sans-serif" font-weight="bold" font-size="27.6" fill="#000" style="will-change:transform"><text x="64.16" y="1306.74">2</text><text x="63.2" y="1259.19">4</text><text x="64.05" y="1212.29">6</text><text x="63.9" y="1164.84">8</text><text x="48.83" y="1117.34">10</text><text x="48.81" y="1070.24">12</text><text x="47.85" y="1020.79">14</text><text x="48.7" y="973.84">16</text><text x="48.55" y="926.44">18</text><text x="48.83" y="879.34">20</text><text x="48.81" y="831.84">22</text><text x="47.85" y="784.54">24</text><text x="99.55" y="1347">2</text><text x="178.89" y="1347">4</text><text x="259.57" y="1347">6</text><text x="339.16" y="1347">8</text><text x="411.5" y="1347">10</text><text x="491.08" y="1347">12</text><text x="570.66" y="1347">14</text><text x="650.63" y="1347">16</text><text x="730.86" y="1347">18</text><text x="810.69" y="1347">20</text><text x="890.32" y="1347">22</text><text x="970.25" y="1347">24</text></g><g font-family="Liberation Sans, sans-serif" font-weight="bold" font-size="35.5" fill="#000" style="will-change:transform"><text x="289.54" y="1399.6" textLength="83.91" lengthAdjust="spacingAndGlyphs">Mast</text><text x="384.1" y="1399.6" textLength="81.25" lengthAdjust="spacingAndGlyphs">wind</text><text x="473.4" y="1399.6" textLength="98.86" lengthAdjust="spacingAndGlyphs">speed</text><text x="581.93" y="1399.6" textLength="32.52" lengthAdjust="spacingAndGlyphs">at</text><text x="623.94" y="1399.6" textLength="72.61" lengthAdjust="spacingAndGlyphs">70m</text><text x="706.29" y="1399.6" textLength="89.61" lengthAdjust="spacingAndGlyphs">[m/s]</text><g transform="translate(29.5 1291.6) rotate(-90)"><text x="-2.24" y="0" textLength="81.95" lengthAdjust="spacingAndGlyphs">Lidar</text><text x="89.5" y="0" textLength="80.73" lengthAdjust="spacingAndGlyphs">wind</text><text x="179.7" y="0" textLength="98.75" lengthAdjust="spacingAndGlyphs">speed</text><text x="286.59" y="0" textLength="33.78" lengthAdjust="spacingAndGlyphs">at</text><text x="328.01" y="0" textLength="73.87" lengthAdjust="spacingAndGlyphs">70m</text><text x="411.81" y="0" textLength="88.88" lengthAdjust="spacingAndGlyphs">[m/s]</text></g></g><g font-family="Liberation Sans, sans-serif" font-size="40" fill="#000" style="will-change:transform"><text x="433.67" y="1456.8" textLength="51.75" lengthAdjust="spacingAndGlyphs">(b)</text><text x="506.63" y="1456.8" textLength="64.4" lengthAdjust="spacingAndGlyphs">HW</text><text x="583.29" y="1456.8" textLength="62.08" lengthAdjust="spacingAndGlyphs">site</text></g></svg></body></html>
